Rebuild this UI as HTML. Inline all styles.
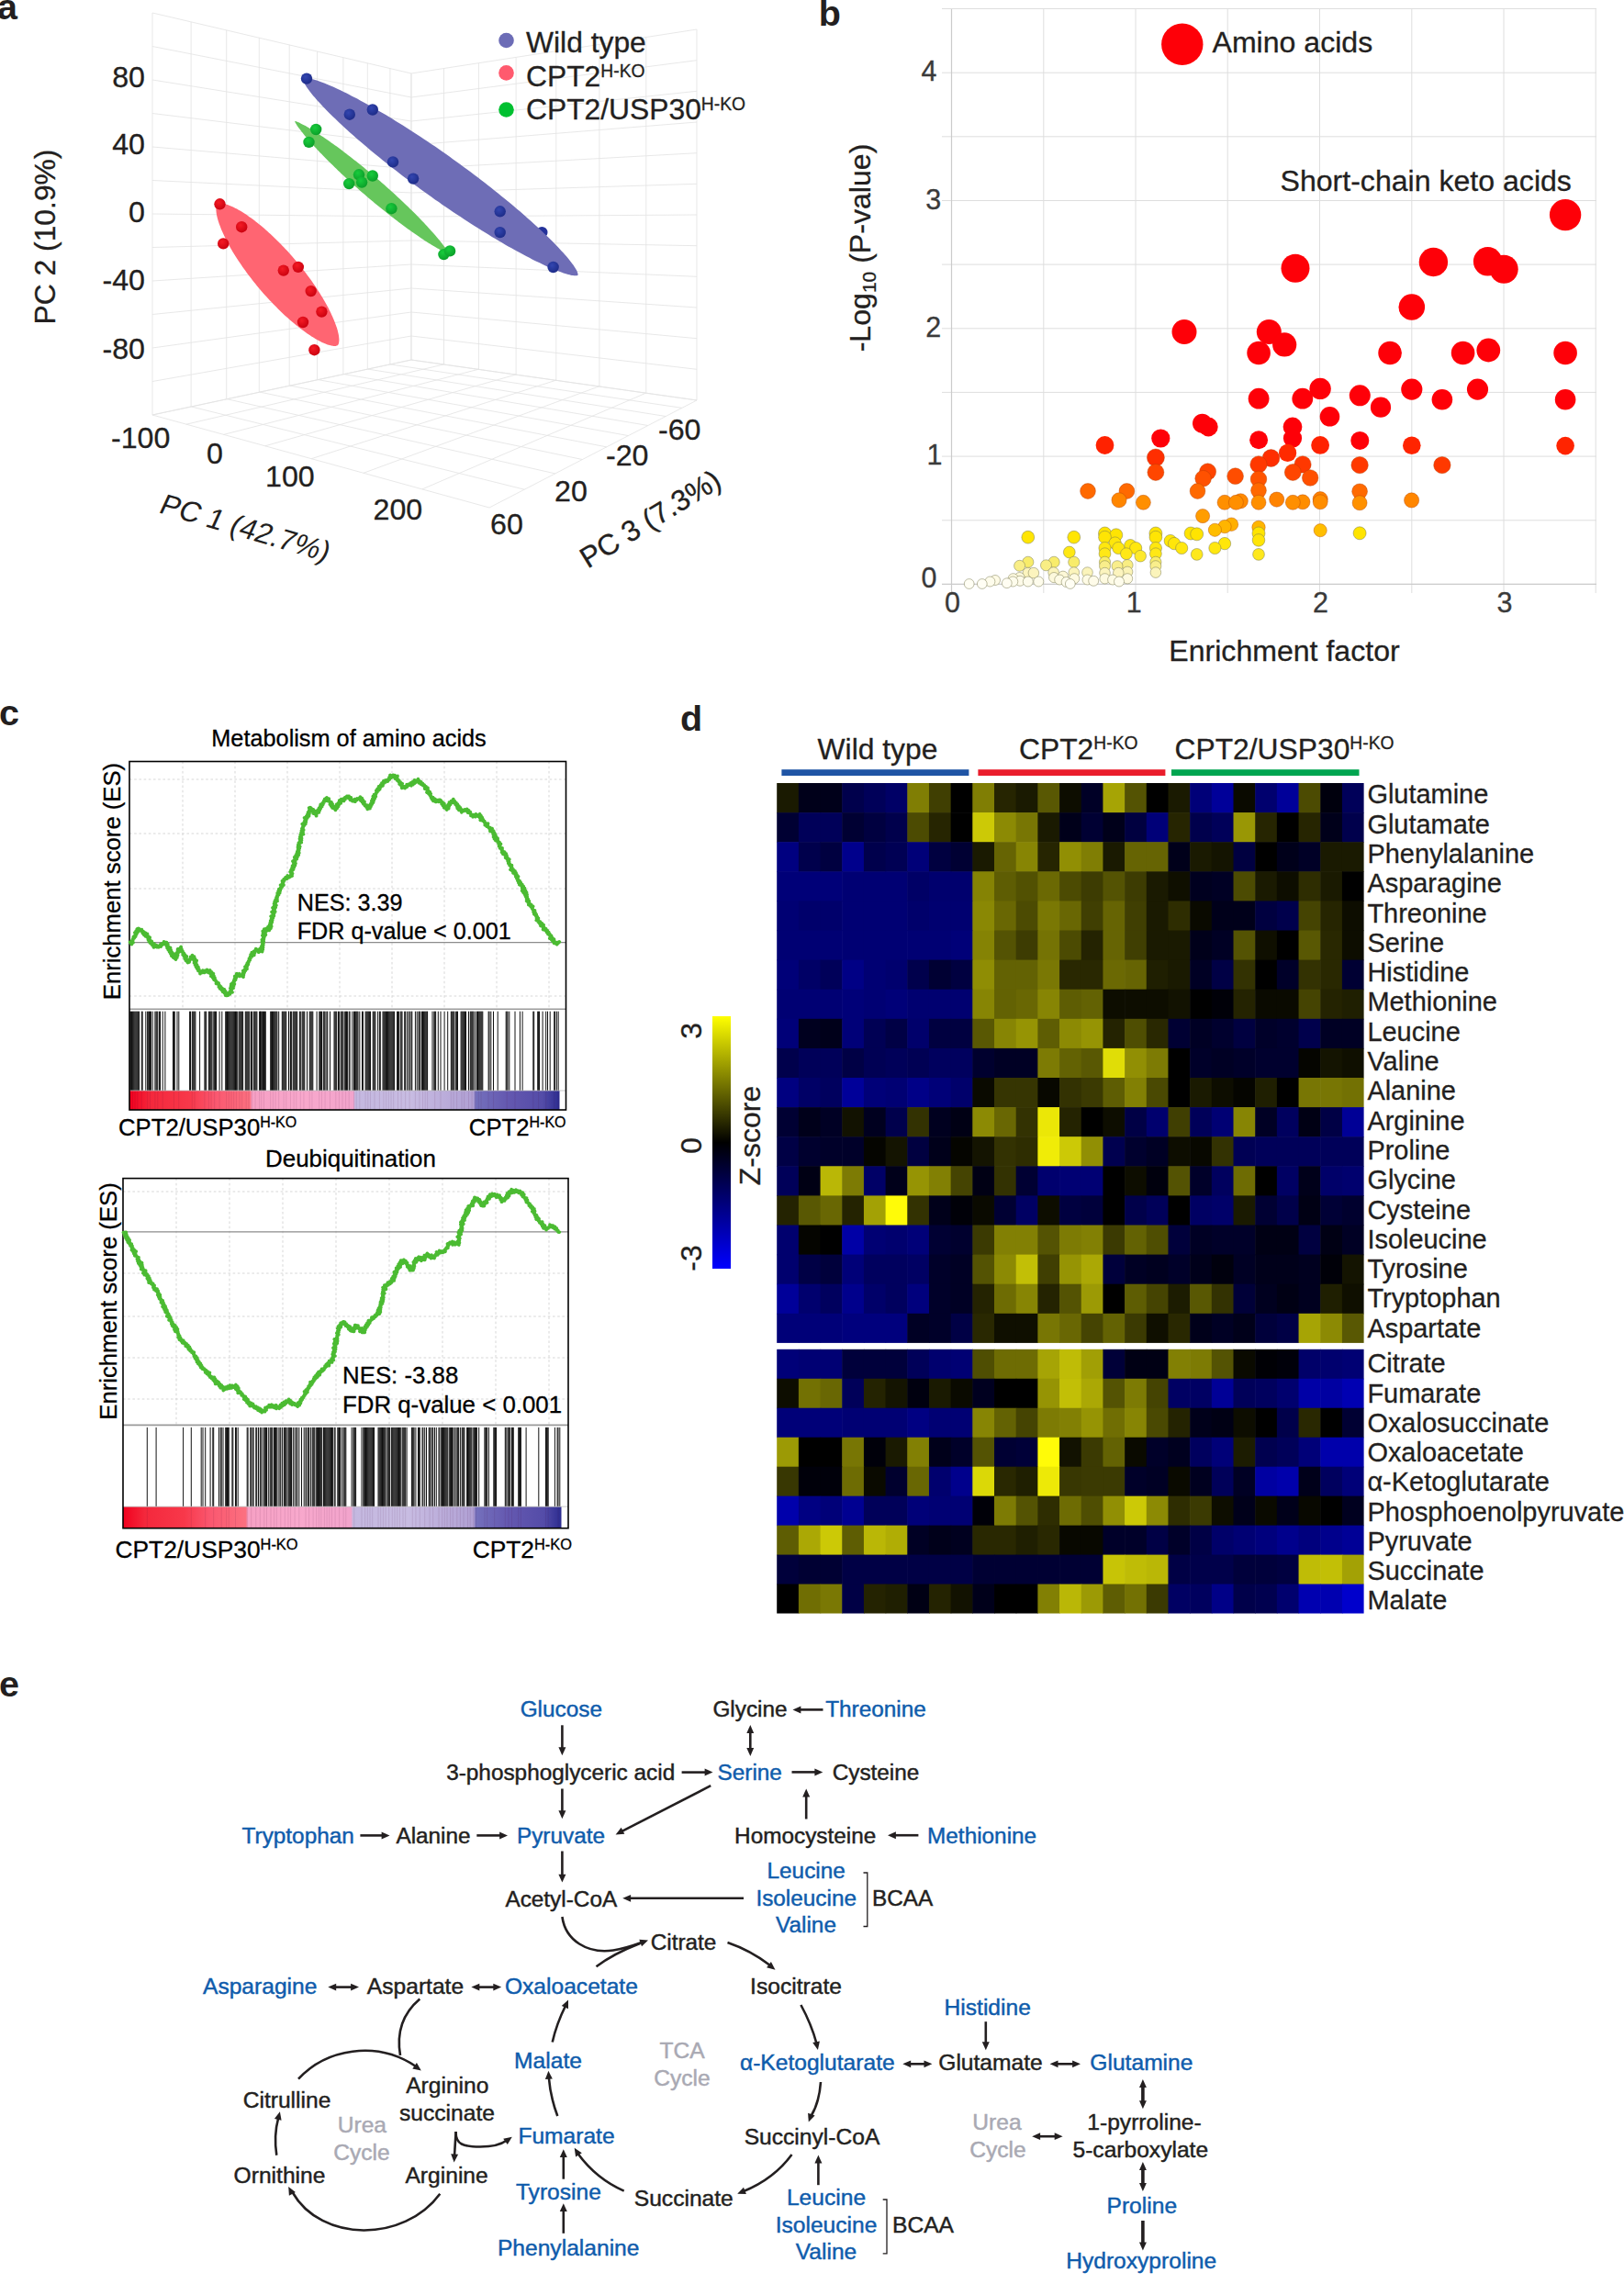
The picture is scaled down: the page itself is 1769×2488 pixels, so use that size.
<!DOCTYPE html>
<html><head><meta charset="utf-8"><title>Figure</title>
<style>
html,body{margin:0;padding:0;background:#fff;}
body{width:1769px;height:2488px;overflow:hidden;}
svg{display:block;font-family:"Liberation Sans",Arial,Helvetica,sans-serif;}
</style></head><body>
<svg width="1769" height="2488" viewBox="0 0 1769 2488">
<rect width="1769" height="2488" fill="#fff"/>
<g id="panel-a">
<text x="-3.0" y="21.4" font-size="39.5" fill="#231f20" font-weight="bold">a</text>
<path d="M166.0 14.0L166.0 452.0M208.1 23.9L208.1 443.0M246.7 32.9L246.7 434.8M282.3 41.2L282.3 427.3M315.2 48.9L315.2 420.3M345.6 56.0L345.6 413.8M373.9 62.7L373.9 407.8M400.3 68.8L400.3 402.1M424.9 74.6L424.9 396.9M448.0 80.0L448.0 392.0M166.0 14.0L448.0 80.0M166.0 50.5L448.0 106.0M166.0 87.0L448.0 132.0M166.0 123.5L448.0 158.0M166.0 160.0L448.0 184.0M166.0 196.5L448.0 210.0M166.0 233.0L448.0 236.0M166.0 269.5L448.0 262.0M166.0 306.0L448.0 288.0M166.0 342.5L448.0 314.0M166.0 379.0L448.0 340.0M166.0 415.5L448.0 366.0M166.0 452.0L448.0 392.0" fill="none" stroke="#e4e4e4" stroke-width="0.85"/>
<path d="M448.0 80.0L448.0 392.0M483.5 74.5L483.5 397.0M521.4 68.7L521.4 402.4M562.1 62.4L562.1 408.1M605.8 55.6L605.8 414.3M652.9 48.4L652.9 421.0M703.8 40.5L703.8 428.2M759.0 32.0L759.0 436.0M448.0 80.0L759.0 32.0M448.0 106.0L759.0 65.7M448.0 132.0L759.0 99.3M448.0 158.0L759.0 133.0M448.0 184.0L759.0 166.7M448.0 210.0L759.0 200.3M448.0 236.0L759.0 234.0M448.0 262.0L759.0 267.7M448.0 288.0L759.0 301.3M448.0 314.0L759.0 335.0M448.0 340.0L759.0 368.7M448.0 366.0L759.0 402.3M448.0 392.0L759.0 436.0" fill="none" stroke="#e4e4e4" stroke-width="0.85"/>
<path d="M166.0 452.0L533.0 553.0M208.5 443.0L571.2 533.2M247.4 434.7L604.7 515.9M283.1 427.1L634.3 500.5M316.0 420.1L660.8 486.9M346.4 413.6L684.5 474.6M374.5 407.6L705.8 463.5M400.7 402.1L725.2 453.5M425.2 396.9L742.9 444.4M448.0 392.0L759.0 436.0M166.0 452.0L448.0 392.0M202.9 462.2L483.3 397.0M243.6 473.4L521.1 402.3M288.8 485.8L561.7 408.1M339.2 499.7L605.3 414.3M395.9 515.3L652.5 420.9M459.9 532.9L703.5 428.2M533.0 553.0L759.0 436.0" fill="none" stroke="#e4e4e4" stroke-width="0.85"/>
<circle cx="590.3" cy="253.1" r="6.2" fill="#24329a"/>
<path d="M330.2 85.5L330.1 85.7L330.0 86.1L330.1 86.6L330.2 87.2L330.4 87.9L330.7 88.7L331.0 89.6L331.5 90.6L332.1 91.6L332.7 92.7L333.5 93.9L334.3 95.2L335.2 96.6L336.3 98.0L337.4 99.5L338.6 101.0L339.9 102.7L341.3 104.4L342.8 106.1L344.4 108.0L346.1 109.9L347.9 111.8L349.7 113.8L351.7 115.9L353.7 118.0L355.8 120.2L358.0 122.4L360.3 124.7L362.6 127.0L365.1 129.3L367.6 131.8L370.2 134.2L372.9 136.7L375.6 139.2L378.4 141.8L381.3 144.4L384.3 147.0L387.3 149.7L390.4 152.4L393.5 155.1L396.7 157.8L400.0 160.6L403.3 163.4L406.7 166.2L410.1 169.0L413.6 171.8L417.1 174.7L420.7 177.5L424.3 180.4L427.9 183.3L431.6 186.1L435.3 189.0L439.1 191.9L442.9 194.7L446.7 197.6L450.5 200.5L454.4 203.3L458.3 206.2L462.2 209.0L466.1 211.8L470.0 214.6L473.9 217.4L477.9 220.1L481.8 222.9L485.7 225.6L489.7 228.3L493.6 230.9L497.5 233.5L501.5 236.1L505.4 238.7L509.3 241.2L513.1 243.7L517.0 246.2L520.8 248.6L524.6 251.0L528.4 253.3L532.1 255.6L535.8 257.9L539.5 260.1L543.1 262.2L546.7 264.3L550.2 266.4L553.7 268.4L557.2 270.3L560.6 272.2L563.9 274.0L567.2 275.8L570.4 277.6L573.6 279.2L576.7 280.8L579.7 282.4L582.6 283.9L585.5 285.3L588.3 286.6L591.1 287.9L593.7 289.2L596.3 290.4L598.8 291.5L601.2 292.5L603.6 293.5L605.8 294.4L607.9 295.2L610.0 296.0L612.0 296.7L613.8 297.4L615.6 298.0L617.3 298.5L618.9 298.9L620.4 299.3L621.7 299.7L623.0 299.9L624.2 300.1L625.2 300.2L626.2 300.3L627.0 300.3L627.8 300.3L628.4 300.2L628.9 300.1L629.2 299.9L629.4 299.7L629.4 299.7L629.5 299.5L629.6 299.1L629.5 298.6L629.4 298.0L629.2 297.3L628.9 296.5L628.6 295.6L628.1 294.6L627.5 293.6L626.9 292.5L626.1 291.3L625.3 290.0L624.4 288.6L623.3 287.2L622.2 285.7L621.0 284.2L619.7 282.5L618.3 280.8L616.8 279.1L615.2 277.2L613.5 275.3L611.7 273.4L609.9 271.4L607.9 269.3L605.9 267.2L603.8 265.0L601.6 262.8L599.3 260.5L597.0 258.2L594.5 255.9L592.0 253.4L589.4 251.0L586.7 248.5L584.0 246.0L581.2 243.4L578.3 240.8L575.3 238.2L572.3 235.5L569.2 232.8L566.1 230.1L562.9 227.4L559.6 224.6L556.3 221.8L552.9 219.0L549.5 216.2L546.0 213.4L542.5 210.5L538.9 207.7L535.3 204.8L531.7 201.9L528.0 199.1L524.3 196.2L520.5 193.3L516.7 190.5L512.9 187.6L509.1 184.7L505.2 181.9L501.3 179.0L497.4 176.2L493.5 173.4L489.6 170.6L485.7 167.8L481.7 165.1L477.8 162.3L473.9 159.6L469.9 156.9L466.0 154.3L462.1 151.7L458.1 149.1L454.2 146.5L450.3 144.0L446.5 141.5L442.6 139.0L438.8 136.6L435.0 134.2L431.2 131.9L427.5 129.6L423.8 127.3L420.1 125.1L416.5 123.0L412.9 120.9L409.4 118.8L405.9 116.8L402.4 114.9L399.0 113.0L395.7 111.2L392.4 109.4L389.2 107.6L386.0 106.0L382.9 104.4L379.9 102.8L377.0 101.3L374.1 99.9L371.3 98.6L368.5 97.3L365.9 96.0L363.3 94.8L360.8 93.7L358.4 92.7L356.0 91.7L353.8 90.8L351.7 90.0L349.6 89.2L347.6 88.5L345.8 87.8L344.0 87.2L342.3 86.7L340.7 86.3L339.2 85.9L337.9 85.5L336.6 85.3L335.4 85.1L334.4 85.0L333.4 84.9L332.6 84.9L331.8 84.9L331.2 85.0L330.7 85.1L330.4 85.3L330.2 85.5Z" fill="#6e6db6"/>
<path d="M321.2 132.1L321.2 132.1L321.2 132.3L321.3 132.5L321.4 132.8L321.5 133.2L321.7 133.6L321.9 134.0L322.2 134.6L322.6 135.1L323.0 135.8L323.4 136.5L323.9 137.2L324.4 138.0L325.0 138.8L325.7 139.7L326.4 140.6L327.1 141.6L327.9 142.6L328.8 143.7L329.7 144.8L330.6 146.0L331.6 147.2L332.6 148.4L333.7 149.7L334.9 151.1L336.0 152.4L337.3 153.8L338.5 155.2L339.9 156.7L341.2 158.2L342.6 159.7L344.1 161.3L345.6 162.9L347.1 164.5L348.6 166.2L350.3 167.8L351.9 169.5L353.6 171.3L355.3 173.0L357.0 174.8L358.8 176.5L360.6 178.3L362.5 180.1L364.4 182.0L366.3 183.8L368.2 185.7L370.2 187.5L372.1 189.4L374.2 191.3L376.2 193.2L378.2 195.1L380.3 197.0L382.4 198.9L384.5 200.8L386.6 202.7L388.8 204.6L390.9 206.5L393.1 208.4L395.2 210.3L397.4 212.1L399.6 214.0L401.8 215.9L404.0 217.7L406.2 219.6L408.4 221.4L410.6 223.2L412.8 225.0L415.0 226.8L417.2 228.6L419.4 230.3L421.5 232.0L423.7 233.7L425.8 235.4L428.0 237.1L430.1 238.7L432.2 240.3L434.3 241.9L436.4 243.5L438.4 245.0L440.4 246.5L442.4 248.0L444.4 249.4L446.4 250.8L448.3 252.2L450.2 253.5L452.0 254.8L453.9 256.1L455.7 257.3L457.4 258.5L459.2 259.7L460.8 260.8L462.5 261.9L464.1 262.9L465.7 263.9L467.2 264.9L468.7 265.8L470.1 266.7L471.5 267.5L472.8 268.3L474.1 269.1L475.3 269.8L476.5 270.5L477.7 271.1L478.7 271.7L479.8 272.2L480.8 272.7L481.7 273.2L482.5 273.6L483.3 274.0L484.1 274.3L484.8 274.6L485.4 274.9L485.9 275.1L486.4 275.3L486.9 275.4L487.2 275.5L487.5 275.5L487.8 275.6L487.9 275.6L488.0 275.5L488.0 275.5L488.0 275.5L488.0 275.3L487.9 275.1L487.8 274.8L487.7 274.4L487.5 274.0L487.3 273.6L487.0 273.0L486.6 272.5L486.2 271.8L485.8 271.1L485.3 270.4L484.8 269.6L484.2 268.8L483.5 267.9L482.8 267.0L482.1 266.0L481.3 265.0L480.4 263.9L479.5 262.8L478.6 261.6L477.6 260.4L476.6 259.2L475.5 257.9L474.3 256.5L473.2 255.2L471.9 253.8L470.7 252.4L469.3 250.9L468.0 249.4L466.6 247.9L465.1 246.3L463.6 244.7L462.1 243.1L460.6 241.4L458.9 239.8L457.3 238.1L455.6 236.3L453.9 234.6L452.2 232.8L450.4 231.1L448.6 229.3L446.7 227.5L444.8 225.6L442.9 223.8L441.0 221.9L439.0 220.1L437.1 218.2L435.0 216.3L433.0 214.4L431.0 212.5L428.9 210.6L426.8 208.7L424.7 206.8L422.6 204.9L420.4 203.0L418.3 201.1L416.1 199.2L414.0 197.3L411.8 195.5L409.6 193.6L407.4 191.7L405.2 189.9L403.0 188.0L400.8 186.2L398.6 184.4L396.4 182.6L394.2 180.8L392.0 179.0L389.8 177.3L387.7 175.6L385.5 173.9L383.4 172.2L381.2 170.5L379.1 168.9L377.0 167.3L374.9 165.7L372.8 164.1L370.8 162.6L368.8 161.1L366.8 159.6L364.8 158.2L362.8 156.8L360.9 155.4L359.0 154.1L357.2 152.8L355.3 151.5L353.5 150.3L351.8 149.1L350.0 147.9L348.4 146.8L346.7 145.7L345.1 144.7L343.5 143.7L342.0 142.7L340.5 141.8L339.1 140.9L337.7 140.1L336.4 139.3L335.1 138.5L333.9 137.8L332.7 137.1L331.5 136.5L330.5 135.9L329.4 135.4L328.4 134.9L327.5 134.4L326.7 134.0L325.9 133.6L325.1 133.3L324.4 133.0L323.8 132.7L323.3 132.5L322.8 132.3L322.3 132.2L322.0 132.1L321.7 132.1L321.4 132.0L321.3 132.0L321.2 132.1Z" fill="#66c65c"/>
<path d="M236.9 222.3L236.7 222.5L236.5 222.9L236.2 223.3L236.0 223.8L235.8 224.4L235.7 225.0L235.6 225.7L235.5 226.4L235.4 227.2L235.4 228.1L235.4 229.0L235.5 230.0L235.6 231.0L235.7 232.1L235.9 233.3L236.1 234.4L236.4 235.7L236.7 236.9L237.0 238.3L237.4 239.6L237.8 241.1L238.3 242.5L238.8 244.0L239.4 245.5L240.0 247.1L240.6 248.7L241.3 250.4L242.0 252.0L242.8 253.8L243.6 255.5L244.4 257.3L245.3 259.1L246.2 260.9L247.1 262.8L248.1 264.7L249.2 266.6L250.2 268.5L251.3 270.4L252.5 272.4L253.6 274.4L254.9 276.4L256.1 278.4L257.4 280.4L258.7 282.5L260.0 284.5L261.4 286.6L262.8 288.6L264.2 290.7L265.7 292.8L267.2 294.8L268.7 296.9L270.2 299.0L271.8 301.1L273.4 303.1L275.0 305.2L276.6 307.3L278.3 309.3L280.0 311.4L281.7 313.4L283.4 315.4L285.1 317.4L286.8 319.4L288.6 321.4L290.3 323.3L292.1 325.3L293.9 327.2L295.7 329.1L297.5 331.0L299.3 332.8L301.1 334.6L302.9 336.5L304.7 338.2L306.5 340.0L308.3 341.7L310.1 343.4L311.9 345.0L313.7 346.6L315.5 348.2L317.3 349.8L319.1 351.3L320.9 352.8L322.6 354.2L324.4 355.6L326.1 357.0L327.8 358.3L329.5 359.6L331.2 360.8L332.9 362.0L334.5 363.2L336.1 364.3L337.7 365.3L339.3 366.4L340.8 367.3L342.4 368.3L343.8 369.2L345.3 370.0L346.7 370.8L348.1 371.5L349.5 372.2L350.8 372.9L352.1 373.5L353.3 374.0L354.6 374.5L355.7 375.0L356.9 375.4L358.0 375.7L359.0 376.0L360.0 376.3L361.0 376.5L361.9 376.7L362.7 376.8L363.5 376.9L364.3 376.9L365.0 376.9L365.6 376.9L366.2 376.8L366.8 376.6L367.2 376.5L367.6 376.3L367.9 376.1L367.9 376.1L368.1 375.9L368.3 375.5L368.6 375.1L368.8 374.6L369.0 374.0L369.1 373.4L369.2 372.7L369.3 372.0L369.4 371.2L369.4 370.3L369.4 369.4L369.3 368.4L369.2 367.4L369.1 366.3L368.9 365.1L368.7 364.0L368.4 362.7L368.1 361.5L367.8 360.1L367.4 358.8L367.0 357.3L366.5 355.9L366.0 354.4L365.4 352.9L364.8 351.3L364.2 349.7L363.5 348.0L362.8 346.4L362.0 344.6L361.2 342.9L360.4 341.1L359.5 339.3L358.6 337.5L357.7 335.6L356.7 333.7L355.6 331.8L354.6 329.9L353.5 328.0L352.3 326.0L351.2 324.0L349.9 322.0L348.7 320.0L347.4 318.0L346.1 315.9L344.8 313.9L343.4 311.8L342.0 309.8L340.6 307.7L339.1 305.6L337.6 303.6L336.1 301.5L334.6 299.4L333.0 297.3L331.4 295.3L329.8 293.2L328.2 291.1L326.5 289.1L324.8 287.0L323.1 285.0L321.4 283.0L319.7 281.0L318.0 279.0L316.2 277.0L314.5 275.1L312.7 273.1L310.9 271.2L309.1 269.3L307.3 267.4L305.5 265.6L303.7 263.8L301.9 261.9L300.1 260.2L298.3 258.4L296.5 256.7L294.7 255.0L292.9 253.4L291.1 251.8L289.3 250.2L287.5 248.6L285.7 247.1L283.9 245.6L282.2 244.2L280.4 242.8L278.7 241.4L277.0 240.1L275.3 238.8L273.6 237.6L271.9 236.4L270.3 235.2L268.7 234.1L267.1 233.1L265.5 232.0L264.0 231.1L262.4 230.1L261.0 229.2L259.5 228.4L258.1 227.6L256.7 226.9L255.3 226.2L254.0 225.5L252.7 224.9L251.5 224.4L250.2 223.9L249.1 223.4L247.9 223.0L246.8 222.7L245.8 222.4L244.8 222.1L243.8 221.9L242.9 221.7L242.1 221.6L241.3 221.5L240.5 221.5L239.8 221.5L239.2 221.5L238.6 221.6L238.0 221.8L237.6 221.9L237.2 222.1L236.9 222.3Z" fill="#ff6572"/>
<defs>
<radialGradient id="gb" cx="0.4" cy="0.35" r="0.7"><stop offset="0" stop-color="#3346b0"/><stop offset="1" stop-color="#1c2a86"/></radialGradient>
<radialGradient id="gg" cx="0.4" cy="0.35" r="0.7"><stop offset="0" stop-color="#18cc3c"/><stop offset="1" stop-color="#0a9c28"/></radialGradient>
<radialGradient id="gr" cx="0.4" cy="0.35" r="0.7"><stop offset="0" stop-color="#f41a24"/><stop offset="1" stop-color="#c8000e"/></radialGradient>
</defs>
<circle cx="334" cy="85.6" r="6.2" fill="url(#gb)"/>
<circle cx="380.8" cy="124.7" r="6.2" fill="url(#gb)"/>
<circle cx="405.8" cy="119.5" r="6.2" fill="url(#gb)"/>
<circle cx="428" cy="176.4" r="6.2" fill="url(#gb)"/>
<circle cx="450.1" cy="194.6" r="6.2" fill="url(#gb)"/>
<circle cx="544.7" cy="230.3" r="6.2" fill="url(#gb)"/>
<circle cx="544.7" cy="253.1" r="6.2" fill="url(#gb)"/>
<circle cx="602.6" cy="291" r="6.2" fill="url(#gb)"/>
<circle cx="344.2" cy="141" r="6.2" fill="url(#gg)"/>
<circle cx="336.5" cy="154.9" r="6.2" fill="url(#gg)"/>
<circle cx="391" cy="190.3" r="6.2" fill="url(#gg)"/>
<circle cx="405.8" cy="191.5" r="6.2" fill="url(#gg)"/>
<circle cx="380.2" cy="200.1" r="6.2" fill="url(#gg)"/>
<circle cx="394.1" cy="198.6" r="6.2" fill="url(#gg)"/>
<circle cx="426.4" cy="227.2" r="6.2" fill="url(#gg)"/>
<circle cx="483.4" cy="277.1" r="6.2" fill="url(#gg)"/>
<circle cx="490.1" cy="273.4" r="6.2" fill="url(#gg)"/>
<circle cx="239.5" cy="222.3" r="6.2" fill="url(#gr)"/>
<circle cx="263.2" cy="247.2" r="6.2" fill="url(#gr)"/>
<circle cx="243.2" cy="265.4" r="6.2" fill="url(#gr)"/>
<circle cx="308.8" cy="294.6" r="6.2" fill="url(#gr)"/>
<circle cx="324.8" cy="290.9" r="6.2" fill="url(#gr)"/>
<circle cx="338.7" cy="317.1" r="6.2" fill="url(#gr)"/>
<circle cx="350.4" cy="339.6" r="6.2" fill="url(#gr)"/>
<circle cx="330" cy="351" r="6.2" fill="url(#gr)"/>
<circle cx="342.4" cy="381.2" r="6.2" fill="url(#gr)"/>
<circle cx="551.5" cy="44" r="8.3" fill="#6c6cb6"/>
<circle cx="551.5" cy="79.4" r="8.3" fill="#ff5a6e"/>
<circle cx="551.5" cy="119.5" r="8.3" fill="#00c030"/>
<text x="573.0" y="57.0" font-size="31.8" fill="#231f20" stroke="#231f20" stroke-width="0.3">Wild type</text>
<text x="573.0" y="94.0" font-size="31.8" fill="#231f20" stroke="#231f20" stroke-width="0.3">CPT2<tspan font-size="19.3" dy="-10.5">H-KO</tspan></text>
<text x="573.0" y="130.0" font-size="31.8" fill="#231f20" stroke="#231f20" stroke-width="0.3">CPT2/USP30<tspan font-size="19.3" dy="-10.5">H-KO</tspan></text>
<text x="158.0" y="94.7" font-size="32.2" fill="#231f20" text-anchor="end" stroke="#231f20" stroke-width="0.3">80</text>
<text x="158.0" y="168.0" font-size="32.2" fill="#231f20" text-anchor="end" stroke="#231f20" stroke-width="0.3">40</text>
<text x="158.0" y="242.0" font-size="32.2" fill="#231f20" text-anchor="end" stroke="#231f20" stroke-width="0.3">0</text>
<text x="158.0" y="316.0" font-size="32.2" fill="#231f20" text-anchor="end" stroke="#231f20" stroke-width="0.3">-40</text>
<text x="158.0" y="391.0" font-size="32.2" fill="#231f20" text-anchor="end" stroke="#231f20" stroke-width="0.3">-80</text>
<text x="121.0" y="488.0" font-size="32.2" fill="#231f20" stroke="#231f20" stroke-width="0.3">-100</text>
<text x="225.0" y="505.3" font-size="32.2" fill="#231f20" stroke="#231f20" stroke-width="0.3">0</text>
<text x="289.0" y="530.0" font-size="32.2" fill="#231f20" stroke="#231f20" stroke-width="0.3">100</text>
<text x="406.5" y="565.7" font-size="32.2" fill="#231f20" stroke="#231f20" stroke-width="0.3">200</text>
<text x="534.0" y="582.0" font-size="32.2" fill="#231f20" stroke="#231f20" stroke-width="0.3">60</text>
<text x="604.0" y="546.0" font-size="32.2" fill="#231f20" stroke="#231f20" stroke-width="0.3">20</text>
<text x="660.0" y="507.3" font-size="32.2" fill="#231f20" stroke="#231f20" stroke-width="0.3">-20</text>
<text x="717.0" y="479.3" font-size="32.2" fill="#231f20" stroke="#231f20" stroke-width="0.3">-60</text>
<text x="60.0" y="258.0" font-size="31.8" fill="#231f20" text-anchor="middle" transform="rotate(-90 60.0 258.0)" stroke="#231f20" stroke-width="0.3">PC 2 (10.9%)</text>
<text font-size="31.8" fill="#231f20" text-anchor="middle" transform="translate(263 585) rotate(16.5) skewX(-8)">PC 1 (42.7%)</text>
<text x="714.0" y="574.5" font-size="31.8" fill="#231f20" text-anchor="middle" transform="rotate(-31.5 714.0 574.5)" stroke="#231f20" stroke-width="0.3">PC 3 (7.3%)</text>
</g>
<g id="panel-b">
<text x="891.7" y="28.2" font-size="39.5" fill="#231f20" font-weight="bold">b</text>
<path d="M1036.5 10V646M1136.8 10V646M1237.0 10V646M1337.2 10V646M1437.5 10V646M1537.8 10V646M1638.0 10V646M1738.2 10V646M1026 636.4H1739M1026 566.8H1739M1026 497.1H1739M1026 427.4H1739M1026 357.8H1739M1026 288.1H1739M1026 218.5H1739M1026 148.8H1739M1026 79.2H1739M1026 9.5H1739" stroke="#dedede" stroke-width="1" fill="none"/>
<path d="M1036.5 10V646M1026 636.4H1739" stroke="#cbcbcb" stroke-width="1.2" fill="none"/>
<circle cx="1287.8" cy="48.2" r="22.7" fill="#fe0008" />
<circle cx="1705.1" cy="234.1" r="17.2" fill="#fe0008" />
<circle cx="1620.6" cy="284.8" r="15.7" fill="#fe0008" />
<circle cx="1561.4" cy="285.5" r="15.7" fill="#fe0008" />
<circle cx="1411.0" cy="292.2" r="15.5" fill="#fe0008" />
<circle cx="1638.2" cy="293.3" r="15.5" fill="#fe0008" />
<circle cx="1537.8" cy="334.5" r="14.3" fill="#fe0008" />
<circle cx="1290.0" cy="361.5" r="13.5" fill="#fe0008" />
<circle cx="1382.3" cy="361.5" r="13.5" fill="#fe0008" />
<circle cx="1399.2" cy="375.4" r="13.1" fill="#fe0008" />
<circle cx="1621.3" cy="381.5" r="12.9" fill="#fe0008" />
<circle cx="1371.1" cy="384.5" r="12.8" fill="#fe0008" />
<circle cx="1514.1" cy="384.5" r="12.8" fill="#fe0008" />
<circle cx="1593.6" cy="384.5" r="12.8" fill="#fe0008" />
<circle cx="1705.1" cy="384.5" r="12.8" fill="#fe0008" />
<circle cx="1438.1" cy="423.4" r="11.7" fill="#fe0008" />
<circle cx="1537.8" cy="424.1" r="11.6" fill="#fe0008" />
<circle cx="1609.5" cy="424.1" r="11.6" fill="#fe0008" />
<circle cx="1481.3" cy="430.8" r="11.5" fill="#fe0008" />
<circle cx="1371.1" cy="434.2" r="11.4" fill="#fe0008" />
<circle cx="1418.8" cy="434.2" r="11.4" fill="#fe0008" />
<circle cx="1570.9" cy="435.2" r="11.3" fill="#fe0008" />
<circle cx="1705.1" cy="435.2" r="11.3" fill="#fe0008" />
<circle cx="1504.0" cy="443.7" r="11.1" fill="#fe0008" />
<circle cx="1448.5" cy="453.8" r="10.8" fill="#fe0008" />
<circle cx="1309.6" cy="461.3" r="10.6" fill="#fe0008" />
<circle cx="1316.3" cy="465.0" r="10.4" fill="#fe0008" />
<circle cx="1408.0" cy="465.0" r="10.4" fill="#fe0008" />
<circle cx="1408.0" cy="477.5" r="10.1" fill="#fe0008" />
<circle cx="1264.3" cy="477.5" r="10.1" fill="#fe0008" />
<circle cx="1371.1" cy="479.2" r="10.0" fill="#fe0008" />
<circle cx="1481.3" cy="479.9" r="10.0" fill="#fe0108" />
<circle cx="1438.1" cy="484.9" r="9.9" fill="#ff2200" />
<circle cx="1203.5" cy="485.0" r="9.9" fill="#ff2200" />
<circle cx="1537.8" cy="485.3" r="9.8" fill="#ff2400" />
<circle cx="1705.1" cy="485.6" r="9.8" fill="#ff2400" />
<circle cx="1402.6" cy="493.4" r="9.6" fill="#ff2a00" />
<circle cx="1258.9" cy="498.5" r="9.5" fill="#ff2e00" stroke="#b04000" stroke-width="0.4"/>
<circle cx="1384.5" cy="499.0" r="9.4" fill="#ff2e00" stroke="#b04000" stroke-width="0.4"/>
<circle cx="1419.0" cy="505.9" r="9.2" fill="#ff3800" stroke="#b04000" stroke-width="0.4"/>
<circle cx="1371.0" cy="505.9" r="9.2" fill="#ff3800" stroke="#b04000" stroke-width="0.4"/>
<circle cx="1481.1" cy="506.6" r="9.2" fill="#ff3900" stroke="#b04000" stroke-width="0.4"/>
<circle cx="1570.9" cy="506.6" r="9.2" fill="#ff3900" stroke="#b04000" stroke-width="0.4"/>
<circle cx="1315.6" cy="513.8" r="9.0" fill="#ff4500" stroke="#b04000" stroke-width="0.4"/>
<circle cx="1408.3" cy="514.5" r="9.0" fill="#ff4600" stroke="#b04000" stroke-width="0.4"/>
<circle cx="1258.9" cy="514.5" r="9.0" fill="#ff4600" stroke="#b04000" stroke-width="0.4"/>
<circle cx="1345.6" cy="518.7" r="8.9" fill="#ff4d00" stroke="#b04000" stroke-width="0.4"/>
<circle cx="1427.2" cy="520.5" r="8.8" fill="#ff5000" stroke="#b04000" stroke-width="0.4"/>
<circle cx="1310.6" cy="521.2" r="8.8" fill="#ff5100" stroke="#b04000" stroke-width="0.4"/>
<circle cx="1371.0" cy="521.9" r="8.8" fill="#ff5300" stroke="#b04000" stroke-width="0.4"/>
<circle cx="1371.0" cy="534.2" r="8.4" fill="#ff6800" stroke="#b04000" stroke-width="0.4"/>
<circle cx="1185.0" cy="535.0" r="8.4" fill="#ff6900" stroke="#b04000" stroke-width="0.4"/>
<circle cx="1227.4" cy="535.0" r="8.4" fill="#ff6900" stroke="#b04000" stroke-width="0.4"/>
<circle cx="1304.5" cy="535.0" r="8.4" fill="#ff6900" stroke="#b04000" stroke-width="0.4"/>
<circle cx="1481.1" cy="535.3" r="8.4" fill="#ff6a00" stroke="#b04000" stroke-width="0.4"/>
<circle cx="1438.2" cy="543.7" r="8.1" fill="#ff8200" stroke="#b04000" stroke-width="0.4"/>
<circle cx="1390.7" cy="544.1" r="8.1" fill="#ff8300" stroke="#b04000" stroke-width="0.4"/>
<circle cx="1219.0" cy="544.8" r="8.1" fill="#ff8600" stroke="#b04000" stroke-width="0.4"/>
<circle cx="1537.6" cy="544.9" r="8.1" fill="#ff8600" stroke="#b04000" stroke-width="0.4"/>
<circle cx="1351.3" cy="545.8" r="8.1" fill="#ff8a00" stroke="#b04000" stroke-width="0.4"/>
<circle cx="1419.0" cy="546.8" r="8.0" fill="#ff8d00" stroke="#b04000" stroke-width="0.4"/>
<circle cx="1438.2" cy="546.8" r="8.0" fill="#ff8d00" stroke="#b04000" stroke-width="0.4"/>
<circle cx="1245.4" cy="547.3" r="8.0" fill="#ff8f00" stroke="#b04000" stroke-width="0.4"/>
<circle cx="1334.0" cy="547.3" r="8.0" fill="#ff8f00" stroke="#b04000" stroke-width="0.4"/>
<circle cx="1346.4" cy="547.3" r="8.0" fill="#ff8f00" stroke="#b04000" stroke-width="0.4"/>
<circle cx="1371.0" cy="547.3" r="8.0" fill="#ff8f00" stroke="#b04000" stroke-width="0.4"/>
<circle cx="1408.3" cy="547.3" r="8.0" fill="#ff8f00" stroke="#b04000" stroke-width="0.4"/>
<circle cx="1481.1" cy="547.8" r="8.0" fill="#ff9100" stroke="#b04000" stroke-width="0.4"/>
<circle cx="1310.1" cy="562.1" r="7.6" fill="#ff9d00" stroke="#b04000" stroke-width="0.4"/>
<circle cx="1341.4" cy="571.2" r="7.3" fill="#ffaf00" stroke="#b04000" stroke-width="0.4"/>
<circle cx="1334.0" cy="573.6" r="7.2" fill="#ffb500" stroke="#b04000" stroke-width="0.4"/>
<circle cx="1371.0" cy="574.4" r="7.2" fill="#ffb600" stroke="#b04000" stroke-width="0.4"/>
<circle cx="1323.4" cy="577.3" r="7.1" fill="#ffbd00" stroke="#b04000" stroke-width="0.4"/>
<circle cx="1438.2" cy="577.7" r="7.1" fill="#ffbe00" stroke="#b04000" stroke-width="0.4"/>
<circle cx="1481.1" cy="580.8" r="7.0" fill="#ffe400" stroke="#7a7a50" stroke-width="0.5"/>
<circle cx="1371.0" cy="581.0" r="7.0" fill="#ffe400" stroke="#7a7a50" stroke-width="0.5"/>
<circle cx="1203.5" cy="581.0" r="7.0" fill="#ffe400" stroke="#7a7a50" stroke-width="0.5"/>
<circle cx="1258.9" cy="581.0" r="7.0" fill="#ffe400" stroke="#7a7a50" stroke-width="0.5"/>
<circle cx="1297.1" cy="581.0" r="7.0" fill="#ffe400" stroke="#7a7a50" stroke-width="0.5"/>
<circle cx="1303.7" cy="581.8" r="7.0" fill="#ffe401" stroke="#7a7a50" stroke-width="0.5"/>
<circle cx="1215.8" cy="582.8" r="7.0" fill="#ffe402" stroke="#7a7a50" stroke-width="0.5"/>
<circle cx="1119.8" cy="585.2" r="6.9" fill="#ffe504" stroke="#7a7a50" stroke-width="0.5"/>
<circle cx="1169.8" cy="585.2" r="6.9" fill="#ffe504" stroke="#7a7a50" stroke-width="0.5"/>
<circle cx="1203.5" cy="585.2" r="6.9" fill="#ffe504" stroke="#7a7a50" stroke-width="0.5"/>
<circle cx="1258.9" cy="585.2" r="6.9" fill="#ffe504" stroke="#7a7a50" stroke-width="0.5"/>
<circle cx="1371.0" cy="588.4" r="6.8" fill="#ffe507" stroke="#7a7a50" stroke-width="0.5"/>
<circle cx="1274.9" cy="589.2" r="6.8" fill="#ffe608" stroke="#7a7a50" stroke-width="0.5"/>
<circle cx="1214.6" cy="591.6" r="6.7" fill="#ffe60a" stroke="#7a7a50" stroke-width="0.5"/>
<circle cx="1279.1" cy="592.1" r="6.7" fill="#ffe60a" stroke="#7a7a50" stroke-width="0.5"/>
<circle cx="1334.0" cy="592.1" r="6.7" fill="#ffe60a" stroke="#7a7a50" stroke-width="0.5"/>
<circle cx="1231.3" cy="594.1" r="6.6" fill="#ffe60c" stroke="#7a7a50" stroke-width="0.5"/>
<circle cx="1203.5" cy="597.0" r="6.6" fill="#ffe70f" stroke="#7a7a50" stroke-width="0.5"/>
<circle cx="1218.3" cy="597.0" r="6.6" fill="#ffe70f" stroke="#7a7a50" stroke-width="0.5"/>
<circle cx="1237.2" cy="597.0" r="6.6" fill="#ffe70f" stroke="#7a7a50" stroke-width="0.5"/>
<circle cx="1258.9" cy="597.0" r="6.6" fill="#ffe70f" stroke="#7a7a50" stroke-width="0.5"/>
<circle cx="1287.2" cy="597.0" r="6.6" fill="#ffe70f" stroke="#7a7a50" stroke-width="0.5"/>
<circle cx="1323.4" cy="597.0" r="6.6" fill="#ffe70f" stroke="#7a7a50" stroke-width="0.5"/>
<circle cx="1164.8" cy="601.5" r="6.4" fill="#ffe813" stroke="#7a7a50" stroke-width="0.5"/>
<circle cx="1203.5" cy="603.2" r="6.4" fill="#ffe816" stroke="#7a7a50" stroke-width="0.5"/>
<circle cx="1226.9" cy="603.2" r="6.4" fill="#ffe816" stroke="#7a7a50" stroke-width="0.5"/>
<circle cx="1258.9" cy="603.2" r="6.4" fill="#ffe816" stroke="#7a7a50" stroke-width="0.5"/>
<circle cx="1303.7" cy="603.9" r="6.4" fill="#fee81d" stroke="#7a7a50" stroke-width="0.5"/>
<circle cx="1371.0" cy="603.9" r="6.4" fill="#fee81d" stroke="#7a7a50" stroke-width="0.5"/>
<circle cx="1242.2" cy="605.7" r="6.3" fill="#fde92d" stroke="#7a7a50" stroke-width="0.5"/>
<circle cx="1119.8" cy="612.3" r="6.1" fill="#f8ec6a" stroke="#7a7a50" stroke-width="0.5"/>
<circle cx="1148.1" cy="612.3" r="6.1" fill="#f8ec6a" stroke="#7a7a50" stroke-width="0.5"/>
<circle cx="1169.8" cy="612.3" r="6.1" fill="#f8ec6a" stroke="#7a7a50" stroke-width="0.5"/>
<circle cx="1203.5" cy="612.3" r="6.1" fill="#f8ec6a" stroke="#7a7a50" stroke-width="0.5"/>
<circle cx="1258.9" cy="612.3" r="6.1" fill="#f8ec6a" stroke="#7a7a50" stroke-width="0.5"/>
<circle cx="1228.1" cy="615.5" r="6.0" fill="#f9ee82" stroke="#7a7a50" stroke-width="0.5"/>
<circle cx="1139.5" cy="615.8" r="6.0" fill="#f9ee84" stroke="#7a7a50" stroke-width="0.5"/>
<circle cx="1110.6" cy="616.3" r="6.0" fill="#f9ee87" stroke="#7a7a50" stroke-width="0.5"/>
<circle cx="1203.5" cy="616.7" r="6.0" fill="#f9ee8b" stroke="#7a7a50" stroke-width="0.5"/>
<circle cx="1217.0" cy="616.7" r="6.0" fill="#f9ee8b" stroke="#7a7a50" stroke-width="0.5"/>
<circle cx="1258.9" cy="616.7" r="6.0" fill="#f9ee8b" stroke="#7a7a50" stroke-width="0.5"/>
<circle cx="1228.1" cy="622.9" r="5.8" fill="#fbf3b6" stroke="#7a7a50" stroke-width="0.5"/>
<circle cx="1147.6" cy="623.6" r="5.8" fill="#fbf4bb" stroke="#7a7a50" stroke-width="0.5"/>
<circle cx="1169.8" cy="623.6" r="5.8" fill="#fbf4bb" stroke="#7a7a50" stroke-width="0.5"/>
<circle cx="1184.5" cy="623.6" r="5.8" fill="#fbf4bb" stroke="#7a7a50" stroke-width="0.5"/>
<circle cx="1258.9" cy="623.6" r="5.8" fill="#fbf4bb" stroke="#7a7a50" stroke-width="0.5"/>
<circle cx="1119.8" cy="624.1" r="5.8" fill="#fcf4be" stroke="#7a7a50" stroke-width="0.5"/>
<circle cx="1125.9" cy="624.1" r="5.8" fill="#fcf4be" stroke="#7a7a50" stroke-width="0.5"/>
<circle cx="1203.5" cy="624.1" r="5.8" fill="#fcf4be" stroke="#7a7a50" stroke-width="0.5"/>
<circle cx="1218.3" cy="624.1" r="5.8" fill="#fcf4be" stroke="#7a7a50" stroke-width="0.5"/>
<circle cx="1157.9" cy="627.8" r="5.7" fill="#fdf8d7" stroke="#7a7a50" stroke-width="0.5"/>
<circle cx="1110.6" cy="629.1" r="5.6" fill="#fdf9dc" stroke="#7a7a50" stroke-width="0.5"/>
<circle cx="1148.1" cy="629.1" r="5.6" fill="#fdf9dc" stroke="#7a7a50" stroke-width="0.5"/>
<circle cx="1103.7" cy="630.3" r="5.6" fill="#fefae0" stroke="#7a7a50" stroke-width="0.5"/>
<circle cx="1170.2" cy="630.3" r="5.6" fill="#fefae0" stroke="#7a7a50" stroke-width="0.5"/>
<circle cx="1203.5" cy="630.3" r="5.6" fill="#fefae0" stroke="#7a7a50" stroke-width="0.5"/>
<circle cx="1228.1" cy="630.3" r="5.6" fill="#fefae0" stroke="#7a7a50" stroke-width="0.5"/>
<circle cx="1154.2" cy="631.5" r="5.5" fill="#fefbe5" stroke="#7a7a50" stroke-width="0.5"/>
<circle cx="1184.5" cy="631.5" r="5.5" fill="#fefbe5" stroke="#7a7a50" stroke-width="0.5"/>
<circle cx="1212.1" cy="631.5" r="5.5" fill="#fefbe5" stroke="#7a7a50" stroke-width="0.5"/>
<circle cx="1084.0" cy="632.0" r="5.5" fill="#fefbe6" stroke="#7a7a50" stroke-width="0.5"/>
<circle cx="1111.1" cy="632.8" r="5.5" fill="#fefbe9" stroke="#7a7a50" stroke-width="0.5"/>
<circle cx="1191.2" cy="632.8" r="5.5" fill="#fefbe9" stroke="#7a7a50" stroke-width="0.5"/>
<circle cx="1078.4" cy="633.5" r="5.5" fill="#fefcec" stroke="#7a7a50" stroke-width="0.5"/>
<circle cx="1103.3" cy="633.5" r="5.5" fill="#fefcec" stroke="#7a7a50" stroke-width="0.5"/>
<circle cx="1119.8" cy="633.5" r="5.5" fill="#fefcec" stroke="#7a7a50" stroke-width="0.5"/>
<circle cx="1131.3" cy="633.5" r="5.5" fill="#fefcec" stroke="#7a7a50" stroke-width="0.5"/>
<circle cx="1219.0" cy="633.5" r="5.5" fill="#fefcec" stroke="#7a7a50" stroke-width="0.5"/>
<circle cx="1161.6" cy="634.0" r="5.5" fill="#fefced" stroke="#7a7a50" stroke-width="0.5"/>
<circle cx="1096.8" cy="635.2" r="5.4" fill="#fffdf2" stroke="#7a7a50" stroke-width="0.5"/>
<circle cx="1055.7" cy="636.0" r="5.4" fill="#fffef4" stroke="#7a7a50" stroke-width="0.5"/>
<circle cx="1069.8" cy="636.0" r="5.4" fill="#fffef4" stroke="#7a7a50" stroke-width="0.5"/>
<circle cx="1165.8" cy="636.0" r="5.4" fill="#fffef4" stroke="#7a7a50" stroke-width="0.5"/>
<text x="1037.5" y="667.0" font-size="30.5" fill="#3a3a3a" text-anchor="middle" stroke="#3a3a3a" stroke-width="0.3">0</text>
<text x="1235.2" y="667.0" font-size="30.5" fill="#3a3a3a" text-anchor="middle" stroke="#3a3a3a" stroke-width="0.3">1</text>
<text x="1438.5" y="667.0" font-size="30.5" fill="#3a3a3a" text-anchor="middle" stroke="#3a3a3a" stroke-width="0.3">2</text>
<text x="1639.0" y="667.0" font-size="30.5" fill="#3a3a3a" text-anchor="middle" stroke="#3a3a3a" stroke-width="0.3">3</text>
<text x="1020.5" y="640.4" font-size="30.5" fill="#3a3a3a" text-anchor="end" stroke="#3a3a3a" stroke-width="0.3">0</text>
<text x="1026.5" y="506.3" font-size="30.5" fill="#3a3a3a" text-anchor="end" stroke="#3a3a3a" stroke-width="0.3">1</text>
<text x="1025.1" y="367.0" font-size="30.5" fill="#3a3a3a" text-anchor="end" stroke="#3a3a3a" stroke-width="0.3">2</text>
<text x="1025.1" y="227.7" font-size="30.5" fill="#3a3a3a" text-anchor="end" stroke="#3a3a3a" stroke-width="0.3">3</text>
<text x="1020.5" y="88.4" font-size="30.5" fill="#3a3a3a" text-anchor="end" stroke="#3a3a3a" stroke-width="0.3">4</text>
<text x="1399.0" y="720.0" font-size="32.1" fill="#231f20" text-anchor="middle" stroke="#231f20" stroke-width="0.3">Enrichment factor</text>
<text x="947.5" y="270.0" font-size="32.1" fill="#231f20" text-anchor="middle" transform="rotate(-90 947.5 270.0)" stroke="#231f20" stroke-width="0.3">-Log<tspan font-size="21" dy="6">10</tspan><tspan dy="-6"> (P-value)</tspan></text>
<text x="1320.5" y="56.5" font-size="32.1" fill="#231f20" stroke="#231f20" stroke-width="0.3">Amino acids</text>
<text x="1394.5" y="208.0" font-size="32.1" fill="#231f20" stroke="#231f20" stroke-width="0.3">Short-chain keto acids</text>
</g>
<g id="panel-c">
<text x="-1.0" y="790.2" font-size="39.5" fill="#231f20" font-weight="bold">c</text>
<path d="M199.0 829.5V1099.2M256.0 829.5V1099.2M313.0 829.5V1099.2M370.0 829.5V1099.2M427.0 829.5V1099.2M484.0 829.5V1099.2M541.0 829.5V1099.2M598.0 829.5V1099.2M141 849.0H616.5M141 908.0H616.5M141 968.0H616.5M141 1085.0H616.5" stroke="#d2d2d2" stroke-width="0.9" stroke-dasharray="2.6 2.6" fill="none"/>
<path d="M141 1026.7H616.5" stroke="#8c8c8c" stroke-width="1.2"/>
<path d="M141.7 1101.7V1188.0M142.6 1101.7V1188.0M143.5 1101.7V1188.0M144.4 1101.7V1188.0M145.3 1101.7V1188.0M146.2 1101.7V1188.0M147.1 1101.7V1188.0M148.0 1101.7V1188.0M148.9 1101.7V1188.0M149.8 1101.7V1188.0M150.7 1101.7V1188.0M151.6 1101.7V1188.0M154.3 1101.7V1188.0M155.2 1101.7V1188.0M158.8 1101.7V1188.0M160.6 1101.7V1188.0M161.7 1101.7V1188.0M162.6 1101.7V1188.0M163.5 1101.7V1188.0M164.4 1101.7V1188.0M166.2 1101.7V1188.0M168.9 1101.7V1188.0M170.0 1101.7V1188.0M170.9 1101.7V1188.0M171.8 1101.7V1188.0M173.6 1101.7V1188.0M174.5 1101.7V1188.0M177.2 1101.7V1188.0M179.9 1101.7V1188.0M188.5 1101.7V1188.0M189.4 1101.7V1188.0M190.3 1101.7V1188.0M193.0 1101.7V1188.0M194.8 1101.7V1188.0M206.6 1101.7V1188.0M207.5 1101.7V1188.0M209.3 1101.7V1188.0M210.2 1101.7V1188.0M211.1 1101.7V1188.0M212.0 1101.7V1188.0M212.9 1101.7V1188.0M217.6 1101.7V1188.0M222.9 1101.7V1188.0M223.8 1101.7V1188.0M224.7 1101.7V1188.0M227.4 1101.7V1188.0M228.3 1101.7V1188.0M229.2 1101.7V1188.0M230.1 1101.7V1188.0M231.0 1101.7V1188.0M232.8 1101.7V1188.0M233.7 1101.7V1188.0M234.6 1101.7V1188.0M235.5 1101.7V1188.0M239.1 1101.7V1188.0M241.8 1101.7V1188.0M245.7 1101.7V1188.0M246.6 1101.7V1188.0M247.5 1101.7V1188.0M248.4 1101.7V1188.0M249.3 1101.7V1188.0M250.2 1101.7V1188.0M251.1 1101.7V1188.0M252.0 1101.7V1188.0M252.9 1101.7V1188.0M253.8 1101.7V1188.0M254.7 1101.7V1188.0M255.6 1101.7V1188.0M256.5 1101.7V1188.0M257.4 1101.7V1188.0M258.3 1101.7V1188.0M260.1 1101.7V1188.0M261.0 1101.7V1188.0M261.9 1101.7V1188.0M262.8 1101.7V1188.0M263.7 1101.7V1188.0M264.6 1101.7V1188.0M267.3 1101.7V1188.0M268.2 1101.7V1188.0M269.1 1101.7V1188.0M270.0 1101.7V1188.0M270.9 1101.7V1188.0M271.8 1101.7V1188.0M273.6 1101.7V1188.0M274.5 1101.7V1188.0M276.3 1101.7V1188.0M277.2 1101.7V1188.0M278.1 1101.7V1188.0M279.0 1101.7V1188.0M279.9 1101.7V1188.0M282.6 1101.7V1188.0M283.5 1101.7V1188.0M283.9 1101.7V1188.0M284.8 1101.7V1188.0M285.7 1101.7V1188.0M286.6 1101.7V1188.0M287.5 1101.7V1188.0M288.4 1101.7V1188.0M289.3 1101.7V1188.0M294.7 1101.7V1188.0M295.6 1101.7V1188.0M296.5 1101.7V1188.0M297.4 1101.7V1188.0M298.3 1101.7V1188.0M299.2 1101.7V1188.0M300.1 1101.7V1188.0M301.0 1101.7V1188.0M301.9 1101.7V1188.0M303.7 1101.7V1188.0M307.3 1101.7V1188.0M308.2 1101.7V1188.0M309.1 1101.7V1188.0M310.0 1101.7V1188.0M310.9 1101.7V1188.0M311.8 1101.7V1188.0M314.5 1101.7V1188.0M314.7 1101.7V1188.0M316.5 1101.7V1188.0M317.4 1101.7V1188.0M319.2 1101.7V1188.0M320.1 1101.7V1188.0M321.0 1101.7V1188.0M321.9 1101.7V1188.0M322.8 1101.7V1188.0M323.7 1101.7V1188.0M326.4 1101.7V1188.0M327.3 1101.7V1188.0M329.1 1101.7V1188.0M330.0 1101.7V1188.0M330.9 1101.7V1188.0M331.8 1101.7V1188.0M334.5 1101.7V1188.0M337.2 1101.7V1188.0M338.1 1101.7V1188.0M339.0 1101.7V1188.0M339.9 1101.7V1188.0M340.8 1101.7V1188.0M345.1 1101.7V1188.0M347.8 1101.7V1188.0M348.7 1101.7V1188.0M349.6 1101.7V1188.0M350.5 1101.7V1188.0M352.3 1101.7V1188.0M353.2 1101.7V1188.0M354.1 1101.7V1188.0M355.9 1101.7V1188.0M356.8 1101.7V1188.0M359.5 1101.7V1188.0M364.0 1101.7V1188.0M364.9 1101.7V1188.0M365.8 1101.7V1188.0M366.7 1101.7V1188.0M368.5 1101.7V1188.0M369.4 1101.7V1188.0M371.2 1101.7V1188.0M372.1 1101.7V1188.0M373.0 1101.7V1188.0M373.9 1101.7V1188.0M375.7 1101.7V1188.0M376.6 1101.7V1188.0M377.5 1101.7V1188.0M378.4 1101.7V1188.0M380.2 1101.7V1188.0M381.1 1101.7V1188.0M383.8 1101.7V1188.0M385.5 1101.7V1188.0M386.4 1101.7V1188.0M387.3 1101.7V1188.0M388.2 1101.7V1188.0M389.1 1101.7V1188.0M390.0 1101.7V1188.0M391.8 1101.7V1188.0M394.5 1101.7V1188.0M395.4 1101.7V1188.0M398.1 1101.7V1188.0M399.0 1101.7V1188.0M399.9 1101.7V1188.0M400.8 1101.7V1188.0M401.7 1101.7V1188.0M402.6 1101.7V1188.0M403.5 1101.7V1188.0M406.2 1101.7V1188.0M407.1 1101.7V1188.0M408.0 1101.7V1188.0M408.9 1101.7V1188.0M411.6 1101.7V1188.0M413.4 1101.7V1188.0M414.3 1101.7V1188.0M417.0 1101.7V1188.0M417.9 1101.7V1188.0M418.8 1101.7V1188.0M419.7 1101.7V1188.0M420.6 1101.7V1188.0M421.5 1101.7V1188.0M422.4 1101.7V1188.0M423.3 1101.7V1188.0M424.2 1101.7V1188.0M425.1 1101.7V1188.0M426.0 1101.7V1188.0M426.9 1101.7V1188.0M427.8 1101.7V1188.0M428.7 1101.7V1188.0M429.6 1101.7V1188.0M432.6 1101.7V1188.0M433.5 1101.7V1188.0M434.4 1101.7V1188.0M436.2 1101.7V1188.0M437.1 1101.7V1188.0M438.0 1101.7V1188.0M440.7 1101.7V1188.0M441.6 1101.7V1188.0M443.4 1101.7V1188.0M445.2 1101.7V1188.0M446.1 1101.7V1188.0M447.9 1101.7V1188.0M448.8 1101.7V1188.0M452.4 1101.7V1188.0M454.2 1101.7V1188.0M456.0 1101.7V1188.0M456.9 1101.7V1188.0M457.8 1101.7V1188.0M459.6 1101.7V1188.0M460.5 1101.7V1188.0M461.4 1101.7V1188.0M462.3 1101.7V1188.0M463.2 1101.7V1188.0M464.1 1101.7V1188.0M465.0 1101.7V1188.0M465.6 1101.7V1188.0M471.0 1101.7V1188.0M472.8 1101.7V1188.0M473.7 1101.7V1188.0M474.6 1101.7V1188.0M477.3 1101.7V1188.0M480.0 1101.7V1188.0M484.1 1101.7V1188.0M487.7 1101.7V1188.0M491.3 1101.7V1188.0M492.2 1101.7V1188.0M493.1 1101.7V1188.0M494.0 1101.7V1188.0M494.9 1101.7V1188.0M496.7 1101.7V1188.0M497.6 1101.7V1188.0M498.5 1101.7V1188.0M502.1 1101.7V1188.0M503.0 1101.7V1188.0M503.9 1101.7V1188.0M504.8 1101.7V1188.0M505.7 1101.7V1188.0M506.6 1101.7V1188.0M507.5 1101.7V1188.0M510.5 1101.7V1188.0M512.3 1101.7V1188.0M513.2 1101.7V1188.0M514.1 1101.7V1188.0M515.0 1101.7V1188.0M515.9 1101.7V1188.0M517.7 1101.7V1188.0M519.5 1101.7V1188.0M520.4 1101.7V1188.0M521.3 1101.7V1188.0M522.2 1101.7V1188.0M523.1 1101.7V1188.0M524.0 1101.7V1188.0M524.9 1101.7V1188.0M525.8 1101.7V1188.0M532.1 1101.7V1188.0M533.0 1101.7V1188.0M534.8 1101.7V1188.0M537.5 1101.7V1188.0M542.2 1101.7V1188.0M551.2 1101.7V1188.0M552.1 1101.7V1188.0M553.0 1101.7V1188.0M554.8 1101.7V1188.0M561.0 1101.7V1188.0M566.4 1101.7V1188.0M569.1 1101.7V1188.0M580.8 1101.7V1188.0M581.7 1101.7V1188.0M585.7 1101.7V1188.0M586.6 1101.7V1188.0M587.5 1101.7V1188.0M591.1 1101.7V1188.0M594.7 1101.7V1188.0M596.5 1101.7V1188.0M599.2 1101.7V1188.0M603.7 1101.7V1188.0M604.6 1101.7V1188.0M606.4 1101.7V1188.0M608.2 1101.7V1188.0" stroke="#000" stroke-opacity="0.93" stroke-width="1.0" fill="none"/>
<defs><linearGradient id="cb829" x1="0" x2="1" y1="0" y2="0">
<stop offset="0" stop-color="#f2001e"/><stop offset="0.05" stop-color="#f4283c"/><stop offset="0.14" stop-color="#f8384a"/>
<stop offset="0.2" stop-color="#fa5870"/><stop offset="0.28" stop-color="#fc7080"/><stop offset="0.285" stop-color="#f6a0c4"/>
<stop offset="0.4" stop-color="#f8a8cc"/><stop offset="0.52" stop-color="#f2a4cc"/><stop offset="0.525" stop-color="#c4b8e0"/>
<stop offset="0.65" stop-color="#c8bce2"/><stop offset="0.8" stop-color="#b0a0d4"/><stop offset="0.805" stop-color="#7470bc"/>
<stop offset="0.88" stop-color="#6458b0"/><stop offset="0.96" stop-color="#544ca8"/><stop offset="1" stop-color="#2c2c90"/>
</linearGradient></defs>
<rect x="141" y="1188.0" width="468.5" height="21.0" fill="url(#cb829)"/>
<path d="M141.7 1188.0V1209.0M144.4 1188.0V1209.0M147.1 1188.0V1209.0M149.8 1188.0V1209.0M154.3 1188.0V1209.0M160.6 1188.0V1209.0M163.5 1188.0V1209.0M168.9 1188.0V1209.0M171.8 1188.0V1209.0M177.2 1188.0V1209.0M189.4 1188.0V1209.0M194.8 1188.0V1209.0M209.3 1188.0V1209.0M212.0 1188.0V1209.0M222.9 1188.0V1209.0M227.4 1188.0V1209.0M230.1 1188.0V1209.0M233.7 1188.0V1209.0M239.1 1188.0V1209.0M246.6 1188.0V1209.0M249.3 1188.0V1209.0M252.0 1188.0V1209.0M254.7 1188.0V1209.0M257.4 1188.0V1209.0M261.0 1188.0V1209.0M263.7 1188.0V1209.0M268.2 1188.0V1209.0M270.9 1188.0V1209.0M274.5 1188.0V1209.0M278.1 1188.0V1209.0M282.6 1188.0V1209.0M284.8 1188.0V1209.0M287.5 1188.0V1209.0M294.7 1188.0V1209.0M297.4 1188.0V1209.0M300.1 1188.0V1209.0M303.7 1188.0V1209.0M309.1 1188.0V1209.0M311.8 1188.0V1209.0M316.5 1188.0V1209.0M320.1 1188.0V1209.0M322.8 1188.0V1209.0M327.3 1188.0V1209.0M330.9 1188.0V1209.0M337.2 1188.0V1209.0M339.9 1188.0V1209.0M347.8 1188.0V1209.0M350.5 1188.0V1209.0M354.1 1188.0V1209.0M359.5 1188.0V1209.0M365.8 1188.0V1209.0M369.4 1188.0V1209.0M373.0 1188.0V1209.0M376.6 1188.0V1209.0M380.2 1188.0V1209.0M385.5 1188.0V1209.0M388.2 1188.0V1209.0M391.8 1188.0V1209.0M398.1 1188.0V1209.0M400.8 1188.0V1209.0M403.5 1188.0V1209.0M408.0 1188.0V1209.0M413.4 1188.0V1209.0M417.9 1188.0V1209.0M420.6 1188.0V1209.0M423.3 1188.0V1209.0M426.0 1188.0V1209.0M428.7 1188.0V1209.0M433.5 1188.0V1209.0M437.1 1188.0V1209.0M441.6 1188.0V1209.0M446.1 1188.0V1209.0M452.4 1188.0V1209.0M456.9 1188.0V1209.0M460.5 1188.0V1209.0M463.2 1188.0V1209.0M465.6 1188.0V1209.0M473.7 1188.0V1209.0M480.0 1188.0V1209.0M491.3 1188.0V1209.0M494.0 1188.0V1209.0M497.6 1188.0V1209.0M503.0 1188.0V1209.0M505.7 1188.0V1209.0M510.5 1188.0V1209.0M514.1 1188.0V1209.0M517.7 1188.0V1209.0M521.3 1188.0V1209.0M524.0 1188.0V1209.0M532.1 1188.0V1209.0M537.5 1188.0V1209.0M552.1 1188.0V1209.0M561.0 1188.0V1209.0M580.8 1188.0V1209.0M586.6 1188.0V1209.0M594.7 1188.0V1209.0M603.7 1188.0V1209.0M608.2 1188.0V1209.0" stroke="#400030" stroke-opacity="0.13" stroke-width="0.8" fill="none"/>
<path d="M141 1188.0H616.5" stroke="#bbb" stroke-width="0.8"/>
<path d="M141 1099.2H616.5" stroke="#9a9a9a" stroke-width="1.6"/>
<rect x="141" y="829.5" width="475.5" height="379.5" fill="none" stroke="#000" stroke-width="1.6"/>
<path d="M143.4 1028.5L141.6 1026.3L145.0 1026.7L143.8 1024.8L144.8 1024.0L144.7 1022.6L146.1 1022.0L145.4 1020.4L147.6 1020.1L147.1 1018.6L148.5 1018.0L146.9 1015.9L149.8 1016.0L148.3 1014.0L151.3 1014.2L149.4 1011.9L150.7 1011.4L151.8 1011.9L152.2 1013.7L154.4 1012.6L154.6 1014.6L156.1 1014.5L155.4 1016.5L158.3 1016.0L156.9 1018.3L160.5 1017.3L158.6 1020.0L161.2 1019.6L160.8 1021.3L163.2 1021.1L161.5 1023.6L163.2 1023.9L162.3 1025.9L165.3 1025.3L164.0 1027.6L165.9 1027.2L165.9 1029.6L168.2 1028.3L167.4 1031.9L170.4 1029.7L170.6 1031.6L170.9 1031.2L172.8 1031.8L173.2 1030.3L175.2 1031.1L174.9 1028.7L176.7 1029.2L176.9 1027.5L178.9 1028.3L178.6 1025.9L179.0 1026.5L181.5 1026.5L180.5 1028.4L182.9 1028.5L181.6 1030.6L183.1 1031.1L182.2 1032.9L185.6 1032.4L183.5 1034.9L186.2 1034.8L184.7 1037.0L187.2 1037.0L186.0 1039.1L188.8 1038.9L186.9 1041.3L189.6 1041.2L188.8 1043.0L190.1 1043.7L191.4 1045.1L190.3 1043.3L192.8 1043.0L191.1 1040.9L193.6 1040.6L191.9 1038.6L194.0 1038.1L193.3 1036.5L196.2 1036.3L193.6 1033.9L195.8 1033.5L197.2 1031.5L196.4 1033.3L197.8 1033.9L197.2 1035.6L198.9 1036.0L198.8 1037.5L200.2 1038.1L199.2 1040.0L201.6 1040.0L200.6 1041.9L203.4 1041.8L201.3 1044.3L203.2 1044.6L202.4 1046.4L205.2 1046.2L204.2 1048.1L204.6 1048.6L206.1 1048.1L206.2 1046.8L206.7 1045.8L206.8 1044.5L209.6 1044.6L207.7 1042.3L210.1 1042.2L209.4 1040.6L209.2 1042.0L211.6 1042.2L210.3 1044.1L212.4 1044.5L211.4 1046.3L214.2 1046.4L211.6 1048.9L213.7 1049.3L212.6 1051.1L214.7 1051.5L213.6 1053.3L216.0 1053.6L214.9 1055.4L216.7 1055.9L216.0 1057.5L218.1 1058.0L218.0 1060.7L218.7 1058.3L220.2 1059.4L221.0 1057.2L222.6 1059.4L223.4 1057.3L224.9 1058.6L225.6 1056.4L227.3 1058.6L228.8 1057.0L227.0 1059.5L230.5 1058.8L229.3 1060.9L232.4 1060.5L229.9 1063.4L233.0 1063.0L231.8 1065.1L234.0 1065.2L233.1 1067.2L234.7 1067.6L235.1 1068.8L236.1 1069.5L235.5 1071.4L238.1 1070.9L237.9 1072.5L239.0 1073.1L238.4 1075.0L240.7 1074.8L239.7 1077.0L242.2 1076.5L241.6 1078.5L244.3 1077.9L242.8 1080.5L245.6 1079.8L244.7 1082.0L245.7 1082.6L245.6 1084.1L246.9 1084.4L248.4 1084.2L247.9 1082.0L250.4 1082.9L250.0 1080.8L253.1 1081.0L251.1 1079.1L252.1 1078.2L250.9 1076.5L254.1 1076.4L251.6 1074.3L254.4 1074.0L251.9 1071.9L255.4 1071.9L253.9 1070.1L255.1 1069.3L254.8 1068.0L256.5 1067.3L255.6 1065.8L257.3 1065.1L255.8 1063.4L258.6 1063.1L257.8 1060.7L258.5 1062.8L260.6 1060.7L261.1 1063.5L262.9 1062.1L265.0 1064.1L263.7 1062.2L265.4 1061.7L264.5 1059.9L266.2 1059.3L264.8 1057.4L267.5 1057.3L266.8 1055.6L269.0 1055.3L267.0 1053.1L269.1 1052.7L268.6 1051.1L270.3 1050.5L269.5 1048.9L270.9 1048.2L270.7 1046.8L272.1 1046.0L271.5 1044.3L272.9 1043.8L272.6 1042.1L274.5 1041.8L273.2 1039.7L276.8 1040.4L274.4 1037.5L277.5 1038.0L276.8 1036.2L278.8 1035.9L278.7 1033.6L279.5 1035.5L281.2 1034.4L281.7 1037.2L283.6 1035.7L285.6 1036.5L283.0 1034.9L286.3 1034.3L283.9 1032.7L286.5 1032.0L285.0 1030.6L286.7 1029.7L285.9 1028.4L286.9 1027.4L285.5 1025.9L287.2 1025.1L285.4 1023.6L287.4 1022.7L286.7 1021.5L287.9 1020.5L285.9 1019.0L289.4 1018.4L286.5 1016.7L289.0 1016.0L286.3 1014.3L290.6 1013.9L287.8 1012.2L288.4 1012.3L290.2 1011.4L290.5 1013.4L292.5 1012.0L293.3 1013.4L291.7 1011.8L294.9 1011.3L292.1 1009.5L295.7 1009.1L293.6 1007.4L295.5 1006.6L294.3 1005.1L296.3 1004.4L294.8 1002.8L296.7 1002.1L295.7 1000.6L297.4 999.8L295.2 998.1L298.4 997.6L297.3 996.2L298.5 995.2L296.1 993.4L299.7 993.1L297.8 991.4L299.1 990.5L297.0 988.8L300.2 988.4L298.7 986.8L300.9 986.1L298.6 984.3L300.1 983.5L299.2 982.1L302.1 981.5L300.2 979.9L301.9 979.1L301.1 977.6L302.2 976.8L301.9 975.4L303.5 974.7L302.2 972.9L304.7 972.6L303.2 970.7L305.2 970.3L303.9 968.5L306.0 968.1L305.8 966.7L307.2 966.0L305.6 964.1L309.0 964.1L307.5 962.3L308.5 961.4L307.5 959.7L309.7 959.3L309.2 957.8L310.3 957.9L311.0 956.0L312.8 957.1L313.1 953.8L315.1 955.6L316.3 954.8L318.1 954.1L317.0 952.5L318.5 951.7L316.2 949.8L318.0 949.1L317.1 947.6L319.6 947.1L318.1 945.4L320.3 944.8L318.6 943.0L321.4 942.7L319.9 941.0L322.0 940.4L319.0 938.2L321.7 937.8L321.0 936.3L323.2 935.8L320.8 933.8L323.9 933.5L322.2 931.8L325.2 931.4L323.3 929.6L325.8 929.1L323.9 927.4L325.6 926.6L324.6 925.2L326.1 924.3L324.5 922.8L326.7 922.1L324.8 920.5L326.0 919.6L325.4 918.3L328.2 917.7L326.7 916.2L328.4 915.4L326.5 913.8L328.5 913.0L326.9 911.5L328.3 910.6L327.4 909.3L330.5 908.7L328.1 907.0L330.0 906.3L328.5 904.8L330.6 904.0L329.0 902.5L330.1 901.6L329.9 900.4L331.2 899.4L329.3 897.6L332.8 897.7L331.3 895.8L333.3 895.3L332.1 893.6L333.7 892.9L331.6 890.8L334.9 890.8L333.8 889.1L336.6 888.9L335.0 887.0L336.9 886.5L335.6 884.7L337.7 884.2L336.9 882.6L337.8 881.7L336.7 880.0L337.8 879.7L339.0 880.4L338.2 882.3L341.4 881.8L340.2 883.9L343.3 883.5L341.3 886.1L343.5 886.2L344.6 888.7L343.8 886.6L345.2 886.2L344.9 884.5L347.4 884.9L346.1 882.5L348.3 882.7L347.5 880.6L349.3 880.6L348.6 878.7L350.7 878.5L349.3 876.3L351.8 876.4L351.4 874.7L352.9 874.2L352.7 872.6L354.6 872.3L353.7 870.4L357.0 870.9L355.9 868.9L356.3 870.0L358.3 870.1L356.8 872.5L358.9 872.5L359.1 873.8L361.0 873.9L359.5 876.3L362.2 875.9L360.8 878.2L362.7 878.3L362.1 880.1L365.1 879.6L365.4 882.3L364.0 879.8L367.1 880.6L365.5 878.0L368.5 878.7L366.8 876.0L369.2 876.4L368.8 874.6L371.2 875.0L369.7 871.9L372.0 873.0L371.7 870.6L374.5 872.4L374.1 870.0L376.0 870.6L375.9 868.5L377.4 868.5L377.9 867.3L377.8 867.9L380.1 867.4L379.8 869.5L382.3 868.9L381.5 871.4L383.7 871.0L383.8 872.7L385.0 872.6L386.9 873.2L386.6 870.6L388.7 871.4L389.2 869.9L391.1 870.5L392.4 868.2L391.6 870.4L394.3 869.7L393.0 872.2L395.4 871.7L394.7 873.9L397.0 873.4L396.0 875.8L397.6 876.0L397.5 877.6L399.8 877.2L399.2 879.2L401.7 878.7L400.3 881.4L400.4 880.7L403.0 880.6L401.8 878.7L404.0 878.4L403.1 876.6L405.1 876.2L404.3 874.6L406.5 874.2L404.9 872.2L407.2 871.9L405.9 870.0L408.3 869.7L406.4 867.5L409.3 867.5L407.6 865.5L409.5 865.0L409.7 863.8L410.8 862.9L409.9 861.2L412.4 861.0L411.2 859.2L413.7 859.6L412.7 856.8L414.8 857.2L414.6 855.2L417.0 855.8L416.0 853.0L418.0 853.2L417.8 850.9L420.0 851.8L420.0 849.8L422.5 851.0L422.6 849.2L424.2 849.1L424.0 846.9L425.9 847.4L425.0 844.4L428.2 846.3L428.1 844.4L427.8 844.8L430.1 844.6L429.8 846.3L433.0 845.5L430.8 848.5L433.0 848.4L432.8 850.1L434.7 850.2L434.4 851.9L436.2 852.1L435.2 854.2L438.2 853.6L437.0 855.9L438.7 856.2L437.7 858.3L439.2 857.6L441.2 858.5L441.4 856.5L443.1 857.2L443.1 854.7L445.0 855.5L445.6 854.2L447.9 855.7L447.6 852.9L450.0 854.5L449.7 851.5L451.9 853.0L451.5 849.8L453.9 851.7L455.5 848.6L455.3 850.7L456.7 850.7L456.5 853.0L458.7 851.9L458.5 854.2L460.4 853.6L460.5 855.4L462.2 855.1L462.3 856.6L464.0 856.9L462.7 859.1L466.0 858.4L465.0 860.4L466.3 860.9L465.0 863.1L468.2 862.5L466.9 864.7L469.2 864.6L468.4 866.4L469.4 867.2L469.4 868.6L471.6 868.6L470.5 870.6L473.4 870.2L472.0 872.5L472.9 872.2L474.7 873.4L475.4 871.3L477.4 873.2L478.2 871.3L478.9 871.3L480.2 871.9L479.9 873.5L481.8 873.9L481.2 875.7L483.9 875.4L482.5 877.7L484.5 877.9L483.8 879.8L485.7 880.1L486.6 882.1L486.0 880.2L488.7 880.7L486.7 877.8L489.3 878.2L488.5 876.2L490.6 876.3L489.5 874.0L492.0 874.4L491.6 872.6L493.5 872.5L493.8 870.6L493.1 872.6L495.2 872.6L494.6 874.5L496.9 874.3L496.2 876.3L498.4 876.2L497.6 878.2L499.9 878.0L498.3 880.7L501.4 879.9L499.9 882.4L502.0 882.4L502.9 884.8L503.5 882.2L505.2 883.3L506.2 881.9L508.0 883.1L508.8 881.4L508.6 883.0L510.7 882.9L509.6 885.2L512.3 884.6L512.1 886.2L513.2 886.8L513.0 888.5L515.1 888.4L515.1 889.8L515.7 887.6L517.8 889.6L518.3 886.8L520.4 889.0L522.6 886.8L521.3 889.2L524.0 888.7L522.8 891.0L525.3 890.6L523.3 893.5L526.3 892.8L526.2 894.3L527.7 894.6L527.7 896.0L528.9 896.5L528.3 898.8L531.6 897.1L530.3 900.2L531.8 900.3L532.1 901.6L534.0 901.5L533.6 903.6L536.1 902.7L534.0 905.5L537.6 905.0L536.6 906.8L538.5 907.1L537.3 909.1L539.7 909.2L537.6 911.6L540.4 911.4L538.5 913.7L542.1 913.2L540.0 915.6L542.4 915.7L542.1 917.1L544.0 917.5L543.2 919.2L545.5 919.4L543.6 921.7L544.8 922.4L544.6 923.9L547.1 923.8L546.4 925.6L547.3 926.5L546.6 928.3L549.6 928.0L547.9 930.3L551.2 929.8L550.3 931.7L552.0 932.1L550.7 934.3L552.8 934.4L552.5 936.0L554.8 936.2L553.3 938.2L554.6 938.9L553.9 940.5L555.3 941.2L555.1 942.6L557.5 942.7L556.7 944.4L557.7 945.2L556.0 947.3L559.1 947.1L558.1 948.9L561.0 948.8L559.1 951.0L562.1 950.9L561.2 952.6L563.0 953.0L561.9 955.0L564.6 954.8L563.0 957.1L564.3 957.8L563.9 959.4L566.1 959.5L564.9 961.6L567.4 961.5L565.9 963.8L568.9 963.5L568.3 965.2L570.2 965.5L568.8 967.6L571.5 967.7L568.7 970.3L572.4 970.0L570.1 972.3L573.6 972.1L571.6 974.3L574.1 974.6L572.6 976.5L574.2 977.1L573.6 978.8L575.1 979.4L573.7 981.4L576.4 981.5L575.4 983.3L576.8 983.9L575.9 985.7L578.8 985.7L578.0 987.4L580.7 987.3L579.4 989.3L580.2 990.2L580.6 991.3L582.5 991.7L581.2 993.7L583.0 994.0L581.9 995.9L584.2 996.0L583.7 997.6L585.1 998.3L584.5 999.8L586.4 1000.2L584.3 1002.5L586.6 1002.6L586.3 1004.4L588.5 1004.2L588.0 1006.2L590.4 1005.8L589.0 1008.5L592.1 1007.6L591.3 1009.8L592.6 1010.3L591.6 1012.6L594.7 1011.8L594.3 1013.6L596.2 1013.7L595.6 1015.6L597.8 1015.5L597.0 1017.6L598.9 1017.7L598.9 1019.2L600.6 1019.4L598.8 1022.2L601.7 1021.6L600.8 1023.7L603.5 1023.2L602.2 1025.6L604.2 1025.7L603.7 1027.5L604.6 1027.0L606.8 1028.7L607.0 1026.5L608.5 1027.0L609.3 1025.9" fill="none" stroke="#4bbb32" stroke-width="3.7" stroke-linejoin="round" stroke-linecap="round"/>
<text x="380.0" y="813.0" font-size="25.3" fill="#000" text-anchor="middle" stroke="#000" stroke-width="0.3">Metabolism of amino acids</text>
<text x="323.7" y="991.6" font-size="25.2" fill="#000" stroke="#000" stroke-width="0.3">NES: 3.39</text>
<text x="323.7" y="1023.1" font-size="25.2" fill="#000" stroke="#000" stroke-width="0.3">FDR q-value &lt; 0.001</text>
<text x="129.0" y="1237.0" font-size="25.7" fill="#000" stroke="#000" stroke-width="0.3">CPT2/USP30<tspan font-size="16.0" dy="-9">H-KO</tspan></text>
<text x="616.5" y="1237.0" font-size="25.7" fill="#000" text-anchor="end" stroke="#000" stroke-width="0.3">CPT2<tspan font-size="16.0" dy="-9">H-KO</tspan></text>
<text x="131.0" y="960.0" font-size="25.7" fill="#000" text-anchor="middle" transform="rotate(-90 131.0 960.0)" stroke="#000" stroke-width="0.3">Enrichment score (ES)</text>
<path d="M192.0 1283.6V1552.4M250.0 1283.6V1552.4M308.0 1283.6V1552.4M366.0 1283.6V1552.4M424.0 1283.6V1552.4M482.0 1283.6V1552.4M540.0 1283.6V1552.4M598.0 1283.6V1552.4M134 1298.0H619M134 1387.0H619M134 1434.0H619M134 1479.0H619M134 1524.0H619" stroke="#d2d2d2" stroke-width="0.9" stroke-dasharray="2.6 2.6" fill="none"/>
<path d="M134 1341.8H619" stroke="#8c8c8c" stroke-width="1.2"/>
<path d="M160.3 1554.9V1641.2M170.1 1554.9V1641.2M199.6 1554.9V1641.2M208.3 1554.9V1641.2M219.2 1554.9V1641.2M221.0 1554.9V1641.2M223.7 1554.9V1641.2M229.1 1554.9V1641.2M231.8 1554.9V1641.2M232.7 1554.9V1641.2M238.5 1554.9V1641.2M240.3 1554.9V1641.2M241.2 1554.9V1641.2M243.0 1554.9V1641.2M245.7 1554.9V1641.2M246.6 1554.9V1641.2M247.5 1554.9V1641.2M248.4 1554.9V1641.2M249.3 1554.9V1641.2M252.9 1554.9V1641.2M253.8 1554.9V1641.2M256.5 1554.9V1641.2M257.4 1554.9V1641.2M259.2 1554.9V1641.2M269.2 1554.9V1641.2M270.1 1554.9V1641.2M272.8 1554.9V1641.2M273.7 1554.9V1641.2M275.2 1554.9V1641.2M276.1 1554.9V1641.2M278.8 1554.9V1641.2M279.7 1554.9V1641.2M281.5 1554.9V1641.2M283.3 1554.9V1641.2M284.2 1554.9V1641.2M286.0 1554.9V1641.2M287.8 1554.9V1641.2M288.7 1554.9V1641.2M289.6 1554.9V1641.2M290.5 1554.9V1641.2M292.3 1554.9V1641.2M294.1 1554.9V1641.2M295.0 1554.9V1641.2M295.9 1554.9V1641.2M296.8 1554.9V1641.2M298.6 1554.9V1641.2M299.5 1554.9V1641.2M300.4 1554.9V1641.2M301.3 1554.9V1641.2M303.1 1554.9V1641.2M304.9 1554.9V1641.2M305.8 1554.9V1641.2M307.6 1554.9V1641.2M309.4 1554.9V1641.2M310.3 1554.9V1641.2M311.2 1554.9V1641.2M312.1 1554.9V1641.2M313.9 1554.9V1641.2M314.8 1554.9V1641.2M315.7 1554.9V1641.2M316.6 1554.9V1641.2M317.5 1554.9V1641.2M319.3 1554.9V1641.2M321.1 1554.9V1641.2M322.9 1554.9V1641.2M323.8 1554.9V1641.2M325.8 1554.9V1641.2M328.5 1554.9V1641.2M331.2 1554.9V1641.2M333.0 1554.9V1641.2M333.9 1554.9V1641.2M335.7 1554.9V1641.2M336.6 1554.9V1641.2M338.4 1554.9V1641.2M340.2 1554.9V1641.2M341.1 1554.9V1641.2M342.0 1554.9V1641.2M342.9 1554.9V1641.2M344.7 1554.9V1641.2M345.6 1554.9V1641.2M346.5 1554.9V1641.2M347.4 1554.9V1641.2M348.3 1554.9V1641.2M348.9 1554.9V1641.2M349.8 1554.9V1641.2M350.7 1554.9V1641.2M352.5 1554.9V1641.2M353.4 1554.9V1641.2M354.3 1554.9V1641.2M355.2 1554.9V1641.2M356.1 1554.9V1641.2M357.0 1554.9V1641.2M357.9 1554.9V1641.2M358.8 1554.9V1641.2M359.7 1554.9V1641.2M360.6 1554.9V1641.2M361.5 1554.9V1641.2M362.4 1554.9V1641.2M364.2 1554.9V1641.2M365.1 1554.9V1641.2M367.8 1554.9V1641.2M368.7 1554.9V1641.2M369.6 1554.9V1641.2M370.5 1554.9V1641.2M372.3 1554.9V1641.2M374.1 1554.9V1641.2M375.0 1554.9V1641.2M375.9 1554.9V1641.2M376.8 1554.9V1641.2M383.1 1554.9V1641.2M384.9 1554.9V1641.2M385.8 1554.9V1641.2M386.7 1554.9V1641.2M387.6 1554.9V1641.2M394.0 1554.9V1641.2M395.8 1554.9V1641.2M396.7 1554.9V1641.2M397.6 1554.9V1641.2M398.5 1554.9V1641.2M399.4 1554.9V1641.2M400.3 1554.9V1641.2M401.2 1554.9V1641.2M402.1 1554.9V1641.2M403.0 1554.9V1641.2M403.9 1554.9V1641.2M404.8 1554.9V1641.2M405.7 1554.9V1641.2M406.6 1554.9V1641.2M407.5 1554.9V1641.2M412.0 1554.9V1641.2M412.9 1554.9V1641.2M413.8 1554.9V1641.2M414.7 1554.9V1641.2M415.6 1554.9V1641.2M416.5 1554.9V1641.2M417.4 1554.9V1641.2M418.3 1554.9V1641.2M419.2 1554.9V1641.2M420.1 1554.9V1641.2M421.9 1554.9V1641.2M422.8 1554.9V1641.2M423.7 1554.9V1641.2M424.6 1554.9V1641.2M426.4 1554.9V1641.2M427.3 1554.9V1641.2M428.2 1554.9V1641.2M429.1 1554.9V1641.2M430.0 1554.9V1641.2M430.9 1554.9V1641.2M431.8 1554.9V1641.2M432.7 1554.9V1641.2M433.6 1554.9V1641.2M434.5 1554.9V1641.2M435.4 1554.9V1641.2M436.3 1554.9V1641.2M438.1 1554.9V1641.2M439.0 1554.9V1641.2M439.9 1554.9V1641.2M440.8 1554.9V1641.2M441.7 1554.9V1641.2M443.1 1554.9V1641.2M448.4 1554.9V1641.2M449.3 1554.9V1641.2M450.2 1554.9V1641.2M451.1 1554.9V1641.2M452.9 1554.9V1641.2M455.5 1554.9V1641.2M456.4 1554.9V1641.2M457.3 1554.9V1641.2M460.0 1554.9V1641.2M460.9 1554.9V1641.2M462.7 1554.9V1641.2M464.5 1554.9V1641.2M467.2 1554.9V1641.2M468.1 1554.9V1641.2M469.0 1554.9V1641.2M470.8 1554.9V1641.2M471.7 1554.9V1641.2M473.5 1554.9V1641.2M475.3 1554.9V1641.2M478.0 1554.9V1641.2M478.9 1554.9V1641.2M480.7 1554.9V1641.2M481.6 1554.9V1641.2M482.5 1554.9V1641.2M483.4 1554.9V1641.2M484.3 1554.9V1641.2M485.2 1554.9V1641.2M486.1 1554.9V1641.2M487.0 1554.9V1641.2M487.9 1554.9V1641.2M489.7 1554.9V1641.2M490.6 1554.9V1641.2M491.5 1554.9V1641.2M492.4 1554.9V1641.2M493.3 1554.9V1641.2M495.1 1554.9V1641.2M496.0 1554.9V1641.2M497.8 1554.9V1641.2M498.7 1554.9V1641.2M499.6 1554.9V1641.2M501.4 1554.9V1641.2M503.2 1554.9V1641.2M504.1 1554.9V1641.2M505.0 1554.9V1641.2M505.9 1554.9V1641.2M508.6 1554.9V1641.2M509.5 1554.9V1641.2M510.4 1554.9V1641.2M511.3 1554.9V1641.2M512.2 1554.9V1641.2M513.1 1554.9V1641.2M514.0 1554.9V1641.2M515.8 1554.9V1641.2M516.7 1554.9V1641.2M517.6 1554.9V1641.2M518.5 1554.9V1641.2M519.4 1554.9V1641.2M521.7 1554.9V1641.2M527.9 1554.9V1641.2M528.8 1554.9V1641.2M529.7 1554.9V1641.2M530.6 1554.9V1641.2M532.4 1554.9V1641.2M537.8 1554.9V1641.2M538.7 1554.9V1641.2M539.6 1554.9V1641.2M540.5 1554.9V1641.2M550.3 1554.9V1641.2M551.2 1554.9V1641.2M553.0 1554.9V1641.2M553.9 1554.9V1641.2M554.8 1554.9V1641.2M555.7 1554.9V1641.2M557.5 1554.9V1641.2M558.4 1554.9V1641.2M559.3 1554.9V1641.2M564.7 1554.9V1641.2M565.6 1554.9V1641.2M566.5 1554.9V1641.2M567.4 1554.9V1641.2M573.1 1554.9V1641.2M586.8 1554.9V1641.2M594.5 1554.9V1641.2M595.4 1554.9V1641.2M596.3 1554.9V1641.2M597.2 1554.9V1641.2M604.4 1554.9V1641.2M607.1 1554.9V1641.2M608.0 1554.9V1641.2M609.8 1554.9V1641.2" stroke="#000" stroke-opacity="0.93" stroke-width="1.0" fill="none"/>
<defs><linearGradient id="cb1283" x1="0" x2="1" y1="0" y2="0">
<stop offset="0" stop-color="#f2001e"/><stop offset="0.05" stop-color="#f4283c"/><stop offset="0.14" stop-color="#f8384a"/>
<stop offset="0.2" stop-color="#fa5870"/><stop offset="0.28" stop-color="#fc7080"/><stop offset="0.285" stop-color="#f6a0c4"/>
<stop offset="0.4" stop-color="#f8a8cc"/><stop offset="0.52" stop-color="#f2a4cc"/><stop offset="0.525" stop-color="#c4b8e0"/>
<stop offset="0.65" stop-color="#c8bce2"/><stop offset="0.8" stop-color="#b0a0d4"/><stop offset="0.805" stop-color="#7470bc"/>
<stop offset="0.88" stop-color="#6458b0"/><stop offset="0.96" stop-color="#544ca8"/><stop offset="1" stop-color="#2c2c90"/>
</linearGradient></defs>
<rect x="134" y="1641.2" width="477.5" height="23.5" fill="url(#cb1283)"/>
<path d="M160.3 1641.2V1664.7M208.3 1641.2V1664.7M223.7 1641.2V1664.7M232.7 1641.2V1664.7M241.2 1641.2V1664.7M246.6 1641.2V1664.7M249.3 1641.2V1664.7M256.5 1641.2V1664.7M269.2 1641.2V1664.7M273.7 1641.2V1664.7M278.8 1641.2V1664.7M283.3 1641.2V1664.7M287.8 1641.2V1664.7M290.5 1641.2V1664.7M295.0 1641.2V1664.7M298.6 1641.2V1664.7M301.3 1641.2V1664.7M305.8 1641.2V1664.7M310.3 1641.2V1664.7M313.9 1641.2V1664.7M316.6 1641.2V1664.7M321.1 1641.2V1664.7M325.8 1641.2V1664.7M333.0 1641.2V1664.7M336.6 1641.2V1664.7M341.1 1641.2V1664.7M344.7 1641.2V1664.7M347.4 1641.2V1664.7M349.8 1641.2V1664.7M353.4 1641.2V1664.7M356.1 1641.2V1664.7M358.8 1641.2V1664.7M361.5 1641.2V1664.7M365.1 1641.2V1664.7M369.6 1641.2V1664.7M374.1 1641.2V1664.7M376.8 1641.2V1664.7M385.8 1641.2V1664.7M394.0 1641.2V1664.7M397.6 1641.2V1664.7M400.3 1641.2V1664.7M403.0 1641.2V1664.7M405.7 1641.2V1664.7M412.0 1641.2V1664.7M414.7 1641.2V1664.7M417.4 1641.2V1664.7M420.1 1641.2V1664.7M423.7 1641.2V1664.7M427.3 1641.2V1664.7M430.0 1641.2V1664.7M432.7 1641.2V1664.7M435.4 1641.2V1664.7M439.0 1641.2V1664.7M441.7 1641.2V1664.7M449.3 1641.2V1664.7M452.9 1641.2V1664.7M457.3 1641.2V1664.7M462.7 1641.2V1664.7M468.1 1641.2V1664.7M471.7 1641.2V1664.7M478.0 1641.2V1664.7M481.6 1641.2V1664.7M484.3 1641.2V1664.7M487.0 1641.2V1664.7M490.6 1641.2V1664.7M493.3 1641.2V1664.7M497.8 1641.2V1664.7M501.4 1641.2V1664.7M505.0 1641.2V1664.7M509.5 1641.2V1664.7M512.2 1641.2V1664.7M515.8 1641.2V1664.7M518.5 1641.2V1664.7M527.9 1641.2V1664.7M530.6 1641.2V1664.7M538.7 1641.2V1664.7M550.3 1641.2V1664.7M553.9 1641.2V1664.7M557.5 1641.2V1664.7M564.7 1641.2V1664.7M567.4 1641.2V1664.7M594.5 1641.2V1664.7M597.2 1641.2V1664.7M608.0 1641.2V1664.7" stroke="#400030" stroke-opacity="0.13" stroke-width="0.8" fill="none"/>
<path d="M134 1641.2H619" stroke="#bbb" stroke-width="0.8"/>
<path d="M134 1552.4H619" stroke="#9a9a9a" stroke-width="1.6"/>
<rect x="134" y="1283.6" width="485" height="381.10000000000014" fill="none" stroke="#000" stroke-width="1.6"/>
<path d="M134.4 1342.5L137.3 1342.3L135.3 1344.7L137.8 1344.7L136.1 1346.9L138.7 1346.8L137.2 1349.0L139.9 1348.9L138.4 1351.0L141.2 1350.8L139.4 1353.2L141.3 1353.4L141.0 1355.0L143.3 1355.0L142.1 1357.0L144.0 1357.3L143.5 1359.0L144.8 1359.6L143.5 1361.6L146.3 1361.5L145.1 1363.5L148.2 1363.2L145.9 1365.6L147.6 1366.1L146.9 1367.8L148.8 1368.1L149.1 1369.3L151.0 1369.7L149.5 1371.7L151.2 1372.2L150.1 1374.0L152.4 1374.1L150.9 1376.2L154.6 1375.7L152.3 1378.1L154.9 1378.1L153.5 1380.2L155.4 1380.5L153.8 1382.6L156.2 1382.7L156.1 1384.1L158.7 1384.1L155.9 1386.8L159.0 1386.6L157.4 1388.7L160.4 1388.3L159.9 1390.0L161.9 1390.1L160.4 1392.6L162.9 1392.3L161.6 1394.6L163.8 1394.6L162.1 1397.2L164.8 1396.8L164.7 1398.3L166.7 1398.4L166.4 1400.0L168.1 1400.3L167.0 1402.5L168.5 1403.0L168.0 1404.7L171.1 1404.1L170.0 1406.2L172.2 1406.2L171.7 1408.0L172.9 1408.7L171.8 1410.5L174.4 1410.5L172.8 1412.5L174.5 1413.0L173.6 1414.7L175.3 1415.2L175.2 1416.5L177.2 1416.9L175.5 1418.9L178.0 1419.0L177.1 1420.7L178.8 1421.2L177.1 1423.3L180.2 1423.1L178.5 1425.2L180.8 1425.4L179.5 1427.2L181.9 1427.4L180.3 1429.4L182.5 1429.7L182.0 1431.1L183.7 1431.6L181.8 1433.8L184.8 1433.7L183.9 1435.4L185.8 1435.7L184.1 1438.0L186.7 1437.9L186.3 1439.5L187.7 1440.1L186.8 1442.0L188.7 1442.3L187.7 1444.2L190.8 1443.8L189.4 1446.0L192.2 1445.8L190.0 1448.4L193.5 1447.8L191.0 1450.5L193.7 1450.4L193.5 1451.9L194.3 1452.8L194.1 1454.3L195.5 1454.9L194.2 1456.9L196.5 1457.0L195.5 1459.4L197.6 1459.1L197.4 1460.9L199.8 1460.4L198.8 1462.9L201.3 1462.4L201.2 1464.0L203.2 1463.9L202.3 1466.3L204.9 1465.6L204.4 1467.6L206.5 1467.4L205.4 1469.9L207.6 1469.7L207.2 1471.6L209.0 1471.6L209.0 1473.2L211.3 1473.0L210.7 1474.9L211.5 1475.8L211.4 1477.3L213.4 1477.4L212.4 1479.5L214.9 1479.2L213.8 1481.4L215.7 1481.6L214.6 1483.7L217.0 1483.6L216.0 1485.7L218.5 1485.4L217.7 1487.4L219.6 1487.6L218.7 1489.6L220.8 1489.6L220.5 1491.2L222.6 1491.0L222.8 1492.5L224.3 1492.7L223.7 1495.0L226.2 1494.2L225.5 1496.5L228.4 1495.3L227.3 1498.1L228.7 1498.4L228.7 1500.1L230.6 1499.8L230.6 1501.5L233.4 1500.3L232.3 1503.2L234.6 1502.5L233.8 1505.0L236.2 1504.3L234.7 1507.5L238.1 1505.7L237.6 1507.9L239.6 1507.6L238.9 1509.9L241.4 1509.1L240.3 1511.9L243.1 1510.8L243.3 1514.6L243.9 1512.0L245.4 1513.3L246.1 1511.1L247.7 1512.7L248.3 1510.2L250.0 1512.1L250.4 1509.0L252.3 1511.9L252.9 1509.3L254.5 1511.0L256.9 1508.5L256.3 1510.6L258.7 1510.1L256.8 1513.2L259.8 1512.2L258.6 1514.8L260.4 1514.8L259.2 1517.3L262.1 1516.4L262.1 1518.0L263.8 1518.1L263.3 1520.0L264.9 1520.2L265.2 1521.5L267.3 1521.3L265.7 1524.1L268.4 1523.4L267.7 1525.6L270.0 1524.7L269.0 1527.8L271.2 1527.1L270.8 1529.5L273.4 1528.3L272.2 1531.6L275.6 1529.5L275.3 1531.8L276.8 1531.5L277.0 1533.7L279.0 1532.3L279.3 1534.5L281.1 1533.5L281.0 1536.2L283.2 1534.5L283.2 1537.2L285.1 1536.0L285.1 1538.6L286.1 1537.2L288.5 1537.6L288.3 1535.9L290.2 1536.0L289.0 1533.4L291.0 1533.5L291.5 1532.4L293.8 1532.8L293.2 1530.5L294.0 1531.9L295.8 1530.1L296.3 1532.7L298.0 1531.1L298.6 1533.4L300.7 1530.7L300.9 1534.4L302.6 1532.7L304.2 1534.3L304.0 1532.1L306.1 1532.8L305.6 1530.2L308.0 1531.2L307.4 1528.5L310.1 1530.1L309.5 1527.3L311.8 1528.3L311.5 1526.0L314.0 1527.1L314.6 1524.4L314.3 1527.1L316.6 1526.0L316.0 1529.0L318.4 1527.6L318.1 1530.2L320.7 1528.7L321.1 1530.3L322.5 1530.4L324.1 1532.1L323.5 1530.2L326.2 1530.7L324.6 1528.1L327.4 1528.7L326.5 1526.6L328.1 1526.3L327.4 1524.4L329.3 1524.3L328.9 1522.5L330.6 1522.3L330.6 1520.9L331.8 1520.2L331.8 1518.8L333.1 1518.2L331.6 1515.9L334.9 1516.4L333.3 1514.1L335.3 1513.9L335.1 1512.4L336.7 1511.9L336.1 1510.2L338.0 1509.8L337.5 1508.2L339.6 1508.0L338.0 1505.5L340.7 1506.1L340.5 1504.5L342.0 1504.1L341.6 1502.4L343.3 1502.2L342.4 1500.1L345.2 1500.7L344.0 1498.4L346.5 1499.0L345.6 1496.5L348.3 1497.5L347.0 1494.5L349.2 1495.1L349.1 1493.3L351.2 1493.6L350.6 1491.4L352.9 1492.0L352.9 1490.4L354.2 1490.0L354.0 1488.1L355.8 1488.3L355.4 1486.2L358.4 1487.5L357.3 1484.7L359.1 1484.8L358.6 1482.6L361.6 1483.9L360.8 1481.5L363.3 1481.5L361.4 1479.9L363.0 1479.0L362.6 1477.7L364.9 1477.0L362.3 1475.3L363.9 1474.4L362.9 1473.0L365.0 1472.2L363.7 1470.8L365.5 1469.9L363.0 1468.3L365.6 1467.5L364.3 1466.1L365.7 1465.2L363.8 1463.6L367.3 1463.1L364.7 1461.4L367.6 1460.7L364.3 1458.9L367.6 1458.4L366.8 1457.0L367.5 1455.9L367.2 1454.7L368.8 1453.8L366.9 1452.2L368.8 1451.4L367.9 1450.0L369.3 1449.1L367.7 1447.1L369.8 1447.3L368.5 1444.9L371.3 1445.5L370.2 1443.2L372.0 1443.1L371.2 1441.1L374.4 1442.0L373.7 1440.0L374.2 1439.9L375.6 1440.3L375.4 1442.0L377.2 1442.1L376.6 1444.2L379.0 1443.8L378.7 1445.6L381.3 1445.1L379.9 1447.8L382.2 1447.5L381.7 1449.4L383.2 1449.9L385.6 1450.4L383.7 1447.2L386.3 1447.9L385.9 1445.9L387.4 1445.6L386.8 1443.6L388.2 1443.9L390.0 1444.0L388.7 1446.7L391.1 1446.3L391.4 1447.6L394.0 1447.0L392.0 1450.3L394.6 1449.7L394.5 1451.4L394.2 1451.2L397.3 1451.4L396.5 1449.7L397.7 1449.0L396.7 1447.2L398.7 1446.9L397.5 1445.0L400.1 1445.0L398.8 1443.0L401.4 1443.0L400.1 1441.1L402.8 1441.1L401.4 1438.6L403.3 1439.0L403.9 1437.9L405.2 1437.5L404.9 1435.2L407.1 1436.0L407.1 1434.0L409.0 1434.4L408.9 1432.3L410.7 1432.7L410.6 1430.6L413.4 1431.2L411.1 1429.5L414.4 1429.1L411.6 1427.3L414.4 1426.7L412.5 1425.1L414.8 1424.4L413.9 1423.1L414.9 1422.1L414.2 1420.8L416.5 1420.1L414.5 1418.5L417.1 1417.8L415.4 1416.3L417.5 1415.6L415.7 1414.0L417.8 1413.3L416.8 1411.9L417.6 1410.9L416.4 1409.4L418.8 1408.8L416.9 1407.2L417.9 1406.2L417.2 1404.9L420.5 1404.4L417.1 1402.5L419.6 1402.8L418.9 1400.0L421.1 1401.0L421.1 1399.0L423.0 1399.6L422.5 1397.0L425.0 1398.4L424.7 1396.0L426.7 1396.8L426.1 1395.0L429.2 1395.0L426.9 1392.6L429.8 1392.5L428.2 1390.5L430.7 1390.3L429.6 1388.4L431.5 1387.9L429.4 1385.7L432.5 1385.7L431.4 1383.9L433.0 1383.3L431.7 1381.3L434.3 1381.5L433.3 1379.2L436.2 1380.0L434.3 1377.0L436.7 1377.4L435.6 1375.1L438.8 1376.1L436.7 1373.0L439.3 1373.6L439.8 1372.3L439.6 1373.9L442.0 1373.7L441.4 1375.6L443.6 1375.5L443.0 1377.4L444.2 1378.0L443.7 1379.9L446.8 1379.1L445.4 1381.6L448.2 1381.1L446.4 1383.8L447.0 1383.6L450.1 1383.7L447.5 1381.3L450.9 1381.6L449.6 1379.7L451.4 1379.2L450.5 1377.5L451.4 1376.6L450.4 1374.9L453.5 1375.0L451.7 1372.9L454.8 1373.0L452.8 1370.9L453.7 1372.3L456.2 1369.1L456.5 1372.2L458.7 1369.8L458.9 1373.3L460.0 1371.9L462.8 1372.3L461.1 1369.6L463.7 1369.9L462.4 1367.5L465.0 1367.7L465.3 1365.4L465.0 1368.1L467.2 1367.0L467.4 1369.1L470.1 1367.2L469.4 1370.6L470.8 1369.9L473.1 1370.5L472.6 1368.2L474.3 1368.1L474.5 1366.5L476.7 1366.9L475.5 1363.9L477.4 1365.9L478.6 1362.5L479.9 1364.6L481.2 1362.9L482.4 1364.4L483.2 1363.7L485.0 1363.4L484.3 1361.5L485.7 1360.9L485.9 1359.7L487.9 1359.4L487.3 1357.6L488.4 1356.9L487.5 1354.9L489.8 1354.9L490.0 1353.3L491.1 1354.1L492.7 1352.5L493.1 1356.0L495.1 1353.2L495.7 1355.8L497.3 1354.5L499.8 1356.0L497.8 1354.3L500.4 1353.7L498.6 1352.1L500.3 1351.3L499.7 1350.0L500.8 1349.0L498.3 1347.3L500.5 1346.6L499.9 1345.2L502.1 1344.5L499.4 1342.7L502.3 1342.2L500.3 1340.5L503.5 1340.1L501.9 1338.5L503.6 1337.7L502.3 1336.2L503.4 1335.3L501.9 1333.7L504.8 1333.2L501.9 1331.4L504.3 1330.7L503.5 1329.3L506.1 1329.2L504.0 1326.8L506.4 1326.7L505.2 1324.8L507.6 1324.7L506.4 1322.8L509.1 1322.8L507.1 1320.5L510.3 1320.8L507.6 1318.1L511.2 1318.6L509.1 1316.3L511.3 1316.2L510.2 1313.9L512.5 1314.1L512.8 1312.9L515.3 1313.3L513.9 1310.8L515.7 1310.7L514.7 1308.4L517.1 1308.8L516.2 1306.6L518.7 1307.0L517.0 1304.3L518.4 1305.1L520.3 1305.3L520.2 1306.9L522.5 1306.8L521.2 1309.2L523.7 1309.0L523.0 1311.0L525.8 1310.6L524.1 1313.2L525.4 1313.6L527.4 1313.6L526.3 1311.3L528.3 1311.3L527.6 1309.3L530.6 1310.0L529.6 1307.8L530.7 1307.1L530.7 1305.6L533.1 1305.8L531.6 1303.3L533.6 1303.3L533.8 1301.0L535.4 1303.2L536.3 1300.4L537.8 1302.4L538.9 1300.8L539.0 1302.6L541.7 1301.4L540.8 1304.2L544.2 1302.3L543.9 1304.5L545.7 1304.5L545.2 1306.9L547.5 1306.2L546.5 1309.2L547.5 1308.0L549.6 1308.0L549.0 1306.1L551.0 1306.1L550.7 1304.3L553.2 1304.6L551.8 1302.2L554.6 1302.7L552.6 1299.8L555.3 1300.2L554.4 1298.2L556.3 1298.0L557.2 1295.7L557.7 1299.4L559.4 1296.8L560.2 1298.9L562.0 1296.1L562.8 1298.1L564.2 1297.2L565.0 1299.3L566.5 1297.4L566.7 1299.6L569.4 1299.2L568.1 1301.6L570.8 1301.1L569.5 1303.5L571.0 1303.9L571.3 1305.2L573.6 1305.0L572.6 1307.2L574.5 1307.3L573.4 1309.6L575.2 1309.8L575.5 1311.0L577.0 1311.4L576.4 1313.3L578.7 1313.3L578.0 1315.1L580.3 1315.1L579.6 1316.9L582.0 1316.9L579.8 1319.6L582.6 1319.4L581.4 1321.5L582.6 1322.2L582.5 1323.6L584.5 1323.9L583.4 1325.9L585.7 1326.0L584.2 1328.2L587.1 1327.7L586.5 1329.8L587.7 1330.4L587.8 1331.8L590.7 1331.1L589.6 1333.5L591.6 1333.5L590.8 1335.7L593.5 1335.1L592.0 1337.9L594.7 1337.3L595.1 1339.6L595.5 1337.9L597.1 1338.0L597.8 1336.8L599.2 1336.7L599.0 1334.2L600.5 1335.2L602.3 1335.0L602.1 1337.1L604.5 1336.3L604.2 1338.6L606.3 1338.1L606.3 1339.9L607.7 1340.2L607.9 1341.9L609.3 1342.2" fill="none" stroke="#4bbb32" stroke-width="3.7" stroke-linejoin="round" stroke-linecap="round"/>
<text x="382.0" y="1271.0" font-size="25.932499999999997" fill="#000" text-anchor="middle" stroke="#000" stroke-width="0.3">Deubiquitination</text>
<text x="373.0" y="1507.0" font-size="25.83" fill="#000" stroke="#000" stroke-width="0.3">NES: -3.88</text>
<text x="373.0" y="1538.5" font-size="25.83" fill="#000" stroke="#000" stroke-width="0.3">FDR q-value &lt; 0.001</text>
<text x="125.5" y="1697.0" font-size="26.342499999999998" fill="#000" stroke="#000" stroke-width="0.3">CPT2/USP30<tspan font-size="16.4" dy="-9">H-KO</tspan></text>
<text x="623.0" y="1697.0" font-size="26.342499999999998" fill="#000" text-anchor="end" stroke="#000" stroke-width="0.3">CPT2<tspan font-size="16.4" dy="-9">H-KO</tspan></text>
<text x="126.5" y="1417.5" font-size="25.7" fill="#000" text-anchor="middle" transform="rotate(-90 126.5 1417.5)" stroke="#000" stroke-width="0.3">Enrichment score (ES)</text>
</g>
<g id="panel-d">
<rect x="846.20" y="853.00" width="24.28" height="32.70" fill="#1a1a01"/>
<rect x="869.88" y="853.00" width="24.28" height="32.70" fill="#00001a"/>
<rect x="893.56" y="853.00" width="24.28" height="32.70" fill="#00001a"/>
<rect x="917.24" y="853.00" width="24.28" height="32.70" fill="#00004c"/>
<rect x="940.93" y="853.00" width="24.28" height="32.70" fill="#000059"/>
<rect x="964.61" y="853.00" width="24.28" height="32.70" fill="#000066"/>
<rect x="988.29" y="853.00" width="24.28" height="32.70" fill="#807e04"/>
<rect x="1011.97" y="853.00" width="24.28" height="32.70" fill="#403f02"/>
<rect x="1035.65" y="853.00" width="24.28" height="32.70" fill="#000000"/>
<rect x="1059.33" y="853.00" width="24.28" height="32.70" fill="#807e04"/>
<rect x="1083.01" y="853.00" width="24.28" height="32.70" fill="#262501"/>
<rect x="1106.70" y="853.00" width="24.28" height="32.70" fill="#1a1a01"/>
<rect x="1130.38" y="853.00" width="24.28" height="32.70" fill="#595803"/>
<rect x="1154.06" y="853.00" width="24.28" height="32.70" fill="#0d0d00"/>
<rect x="1177.74" y="853.00" width="24.28" height="32.70" fill="#000026"/>
<rect x="1201.42" y="853.00" width="24.28" height="32.70" fill="#a6a405"/>
<rect x="1225.10" y="853.00" width="24.28" height="32.70" fill="#545303"/>
<rect x="1248.79" y="853.00" width="24.28" height="32.70" fill="#000000"/>
<rect x="1272.47" y="853.00" width="24.28" height="32.70" fill="#1a1a01"/>
<rect x="1296.15" y="853.00" width="24.28" height="32.70" fill="#000078"/>
<rect x="1319.83" y="853.00" width="24.28" height="32.70" fill="#000099"/>
<rect x="1343.51" y="853.00" width="24.28" height="32.70" fill="#0a0a00"/>
<rect x="1367.19" y="853.00" width="24.28" height="32.70" fill="#00006e"/>
<rect x="1390.87" y="853.00" width="24.28" height="32.70" fill="#000099"/>
<rect x="1414.56" y="853.00" width="24.28" height="32.70" fill="#4c4b02"/>
<rect x="1438.24" y="853.00" width="24.28" height="32.70" fill="#00000d"/>
<rect x="1461.92" y="853.00" width="23.68" height="32.70" fill="#000059"/>
<rect x="846.20" y="885.10" width="24.28" height="32.70" fill="#000033"/>
<rect x="869.88" y="885.10" width="24.28" height="32.70" fill="#000059"/>
<rect x="893.56" y="885.10" width="24.28" height="32.70" fill="#000059"/>
<rect x="917.24" y="885.10" width="24.28" height="32.70" fill="#000033"/>
<rect x="940.93" y="885.10" width="24.28" height="32.70" fill="#000040"/>
<rect x="964.61" y="885.10" width="24.28" height="32.70" fill="#00004c"/>
<rect x="988.29" y="885.10" width="24.28" height="32.70" fill="#4c4b02"/>
<rect x="1011.97" y="885.10" width="24.28" height="32.70" fill="#262501"/>
<rect x="1035.65" y="885.10" width="24.28" height="32.70" fill="#000000"/>
<rect x="1059.33" y="885.10" width="24.28" height="32.70" fill="#ccc906"/>
<rect x="1083.01" y="885.10" width="24.28" height="32.70" fill="#8c8a04"/>
<rect x="1106.70" y="885.10" width="24.28" height="32.70" fill="#787604"/>
<rect x="1130.38" y="885.10" width="24.28" height="32.70" fill="#1a1a01"/>
<rect x="1154.06" y="885.10" width="24.28" height="32.70" fill="#00001a"/>
<rect x="1177.74" y="885.10" width="24.28" height="32.70" fill="#000033"/>
<rect x="1201.42" y="885.10" width="24.28" height="32.70" fill="#00001a"/>
<rect x="1225.10" y="885.10" width="24.28" height="32.70" fill="#000040"/>
<rect x="1248.79" y="885.10" width="24.28" height="32.70" fill="#000078"/>
<rect x="1272.47" y="885.10" width="24.28" height="32.70" fill="#262501"/>
<rect x="1296.15" y="885.10" width="24.28" height="32.70" fill="#00004c"/>
<rect x="1319.83" y="885.10" width="24.28" height="32.70" fill="#000059"/>
<rect x="1343.51" y="885.10" width="24.28" height="32.70" fill="#999705"/>
<rect x="1367.19" y="885.10" width="24.28" height="32.70" fill="#262501"/>
<rect x="1390.87" y="885.10" width="24.28" height="32.70" fill="#000000"/>
<rect x="1414.56" y="885.10" width="24.28" height="32.70" fill="#262501"/>
<rect x="1438.24" y="885.10" width="24.28" height="32.70" fill="#00001a"/>
<rect x="1461.92" y="885.10" width="23.68" height="32.70" fill="#00004c"/>
<rect x="846.20" y="917.20" width="24.28" height="32.70" fill="#000080"/>
<rect x="869.88" y="917.20" width="24.28" height="32.70" fill="#00004c"/>
<rect x="893.56" y="917.20" width="24.28" height="32.70" fill="#000040"/>
<rect x="917.24" y="917.20" width="24.28" height="32.70" fill="#00008c"/>
<rect x="940.93" y="917.20" width="24.28" height="32.70" fill="#00004c"/>
<rect x="964.61" y="917.20" width="24.28" height="32.70" fill="#000054"/>
<rect x="988.29" y="917.20" width="24.28" height="32.70" fill="#000078"/>
<rect x="1011.97" y="917.20" width="24.28" height="32.70" fill="#000040"/>
<rect x="1035.65" y="917.20" width="24.28" height="32.70" fill="#000033"/>
<rect x="1059.33" y="917.20" width="24.28" height="32.70" fill="#1a1a01"/>
<rect x="1083.01" y="917.20" width="24.28" height="32.70" fill="#666403"/>
<rect x="1106.70" y="917.20" width="24.28" height="32.70" fill="#878504"/>
<rect x="1130.38" y="917.20" width="24.28" height="32.70" fill="#262501"/>
<rect x="1154.06" y="917.20" width="24.28" height="32.70" fill="#918f04"/>
<rect x="1177.74" y="917.20" width="24.28" height="32.70" fill="#807e04"/>
<rect x="1201.42" y="917.20" width="24.28" height="32.70" fill="#1a1a01"/>
<rect x="1225.10" y="917.20" width="24.28" height="32.70" fill="#666403"/>
<rect x="1248.79" y="917.20" width="24.28" height="32.70" fill="#666403"/>
<rect x="1272.47" y="917.20" width="24.28" height="32.70" fill="#00001a"/>
<rect x="1296.15" y="917.20" width="24.28" height="32.70" fill="#1a1a01"/>
<rect x="1319.83" y="917.20" width="24.28" height="32.70" fill="#141401"/>
<rect x="1343.51" y="917.20" width="24.28" height="32.70" fill="#000040"/>
<rect x="1367.19" y="917.20" width="24.28" height="32.70" fill="#000000"/>
<rect x="1390.87" y="917.20" width="24.28" height="32.70" fill="#00001a"/>
<rect x="1414.56" y="917.20" width="24.28" height="32.70" fill="#000026"/>
<rect x="1438.24" y="917.20" width="24.28" height="32.70" fill="#1a1a01"/>
<rect x="1461.92" y="917.20" width="23.68" height="32.70" fill="#1a1a01"/>
<rect x="846.20" y="949.30" width="24.28" height="32.70" fill="#000078"/>
<rect x="869.88" y="949.30" width="24.28" height="32.70" fill="#000078"/>
<rect x="893.56" y="949.30" width="24.28" height="32.70" fill="#000078"/>
<rect x="917.24" y="949.30" width="24.28" height="32.70" fill="#000073"/>
<rect x="940.93" y="949.30" width="24.28" height="32.70" fill="#000073"/>
<rect x="964.61" y="949.30" width="24.28" height="32.70" fill="#000073"/>
<rect x="988.29" y="949.30" width="24.28" height="32.70" fill="#000066"/>
<rect x="1011.97" y="949.30" width="24.28" height="32.70" fill="#00006e"/>
<rect x="1035.65" y="949.30" width="24.28" height="32.70" fill="#00006e"/>
<rect x="1059.33" y="949.30" width="24.28" height="32.70" fill="#858304"/>
<rect x="1083.01" y="949.30" width="24.28" height="32.70" fill="#5e5d03"/>
<rect x="1106.70" y="949.30" width="24.28" height="32.70" fill="#525102"/>
<rect x="1130.38" y="949.30" width="24.28" height="32.70" fill="#6b6903"/>
<rect x="1154.06" y="949.30" width="24.28" height="32.70" fill="#4c4b02"/>
<rect x="1177.74" y="949.30" width="24.28" height="32.70" fill="#3d3c02"/>
<rect x="1201.42" y="949.30" width="24.28" height="32.70" fill="#545303"/>
<rect x="1225.10" y="949.30" width="24.28" height="32.70" fill="#3d3c02"/>
<rect x="1248.79" y="949.30" width="24.28" height="32.70" fill="#1a1a01"/>
<rect x="1272.47" y="949.30" width="24.28" height="32.70" fill="#0f0f00"/>
<rect x="1296.15" y="949.30" width="24.28" height="32.70" fill="#00001f"/>
<rect x="1319.83" y="949.30" width="24.28" height="32.70" fill="#000024"/>
<rect x="1343.51" y="949.30" width="24.28" height="32.70" fill="#4c4b02"/>
<rect x="1367.19" y="949.30" width="24.28" height="32.70" fill="#1a1a01"/>
<rect x="1390.87" y="949.30" width="24.28" height="32.70" fill="#0d0d00"/>
<rect x="1414.56" y="949.30" width="24.28" height="32.70" fill="#2e2d01"/>
<rect x="1438.24" y="949.30" width="24.28" height="32.70" fill="#1a1a01"/>
<rect x="1461.92" y="949.30" width="23.68" height="32.70" fill="#000000"/>
<rect x="846.20" y="981.40" width="24.28" height="32.70" fill="#000073"/>
<rect x="869.88" y="981.40" width="24.28" height="32.70" fill="#00006b"/>
<rect x="893.56" y="981.40" width="24.28" height="32.70" fill="#00006b"/>
<rect x="917.24" y="981.40" width="24.28" height="32.70" fill="#000073"/>
<rect x="940.93" y="981.40" width="24.28" height="32.70" fill="#000073"/>
<rect x="964.61" y="981.40" width="24.28" height="32.70" fill="#000073"/>
<rect x="988.29" y="981.40" width="24.28" height="32.70" fill="#00006b"/>
<rect x="1011.97" y="981.40" width="24.28" height="32.70" fill="#000070"/>
<rect x="1035.65" y="981.40" width="24.28" height="32.70" fill="#000070"/>
<rect x="1059.33" y="981.40" width="24.28" height="32.70" fill="#8a8804"/>
<rect x="1083.01" y="981.40" width="24.28" height="32.70" fill="#696703"/>
<rect x="1106.70" y="981.40" width="24.28" height="32.70" fill="#4c4b02"/>
<rect x="1130.38" y="981.40" width="24.28" height="32.70" fill="#7a7804"/>
<rect x="1154.06" y="981.40" width="24.28" height="32.70" fill="#696703"/>
<rect x="1177.74" y="981.40" width="24.28" height="32.70" fill="#403f02"/>
<rect x="1201.42" y="981.40" width="24.28" height="32.70" fill="#666403"/>
<rect x="1225.10" y="981.40" width="24.28" height="32.70" fill="#403f02"/>
<rect x="1248.79" y="981.40" width="24.28" height="32.70" fill="#1a1a01"/>
<rect x="1272.47" y="981.40" width="24.28" height="32.70" fill="#2e2d01"/>
<rect x="1296.15" y="981.40" width="24.28" height="32.70" fill="#0a0a00"/>
<rect x="1319.83" y="981.40" width="24.28" height="32.70" fill="#00001a"/>
<rect x="1343.51" y="981.40" width="24.28" height="32.70" fill="#00001a"/>
<rect x="1367.19" y="981.40" width="24.28" height="32.70" fill="#000040"/>
<rect x="1390.87" y="981.40" width="24.28" height="32.70" fill="#00004c"/>
<rect x="1414.56" y="981.40" width="24.28" height="32.70" fill="#454402"/>
<rect x="1438.24" y="981.40" width="24.28" height="32.70" fill="#262501"/>
<rect x="1461.92" y="981.40" width="23.68" height="32.70" fill="#0d0d00"/>
<rect x="846.20" y="1013.50" width="24.28" height="32.70" fill="#000073"/>
<rect x="869.88" y="1013.50" width="24.28" height="32.70" fill="#000073"/>
<rect x="893.56" y="1013.50" width="24.28" height="32.70" fill="#000073"/>
<rect x="917.24" y="1013.50" width="24.28" height="32.70" fill="#000073"/>
<rect x="940.93" y="1013.50" width="24.28" height="32.70" fill="#000073"/>
<rect x="964.61" y="1013.50" width="24.28" height="32.70" fill="#000073"/>
<rect x="988.29" y="1013.50" width="24.28" height="32.70" fill="#000073"/>
<rect x="1011.97" y="1013.50" width="24.28" height="32.70" fill="#000073"/>
<rect x="1035.65" y="1013.50" width="24.28" height="32.70" fill="#000078"/>
<rect x="1059.33" y="1013.50" width="24.28" height="32.70" fill="#858304"/>
<rect x="1083.01" y="1013.50" width="24.28" height="32.70" fill="#545303"/>
<rect x="1106.70" y="1013.50" width="24.28" height="32.70" fill="#3d3c02"/>
<rect x="1130.38" y="1013.50" width="24.28" height="32.70" fill="#757304"/>
<rect x="1154.06" y="1013.50" width="24.28" height="32.70" fill="#4c4b02"/>
<rect x="1177.74" y="1013.50" width="24.28" height="32.70" fill="#242301"/>
<rect x="1201.42" y="1013.50" width="24.28" height="32.70" fill="#666403"/>
<rect x="1225.10" y="1013.50" width="24.28" height="32.70" fill="#403f02"/>
<rect x="1248.79" y="1013.50" width="24.28" height="32.70" fill="#1a1a01"/>
<rect x="1272.47" y="1013.50" width="24.28" height="32.70" fill="#1a1a01"/>
<rect x="1296.15" y="1013.50" width="24.28" height="32.70" fill="#00001a"/>
<rect x="1319.83" y="1013.50" width="24.28" height="32.70" fill="#000024"/>
<rect x="1343.51" y="1013.50" width="24.28" height="32.70" fill="#545303"/>
<rect x="1367.19" y="1013.50" width="24.28" height="32.70" fill="#0f0f00"/>
<rect x="1390.87" y="1013.50" width="24.28" height="32.70" fill="#000000"/>
<rect x="1414.56" y="1013.50" width="24.28" height="32.70" fill="#595803"/>
<rect x="1438.24" y="1013.50" width="24.28" height="32.70" fill="#292801"/>
<rect x="1461.92" y="1013.50" width="23.68" height="32.70" fill="#0d0d00"/>
<rect x="846.20" y="1045.60" width="24.28" height="32.70" fill="#000078"/>
<rect x="869.88" y="1045.60" width="24.28" height="32.70" fill="#000066"/>
<rect x="893.56" y="1045.60" width="24.28" height="32.70" fill="#000059"/>
<rect x="917.24" y="1045.60" width="24.28" height="32.70" fill="#000085"/>
<rect x="940.93" y="1045.60" width="24.28" height="32.70" fill="#000073"/>
<rect x="964.61" y="1045.60" width="24.28" height="32.70" fill="#00006e"/>
<rect x="988.29" y="1045.60" width="24.28" height="32.70" fill="#00004c"/>
<rect x="1011.97" y="1045.60" width="24.28" height="32.70" fill="#000033"/>
<rect x="1035.65" y="1045.60" width="24.28" height="32.70" fill="#000040"/>
<rect x="1059.33" y="1045.60" width="24.28" height="32.70" fill="#8f8d04"/>
<rect x="1083.01" y="1045.60" width="24.28" height="32.70" fill="#636203"/>
<rect x="1106.70" y="1045.60" width="24.28" height="32.70" fill="#636203"/>
<rect x="1130.38" y="1045.60" width="24.28" height="32.70" fill="#7a7804"/>
<rect x="1154.06" y="1045.60" width="24.28" height="32.70" fill="#292801"/>
<rect x="1177.74" y="1045.60" width="24.28" height="32.70" fill="#292801"/>
<rect x="1201.42" y="1045.60" width="24.28" height="32.70" fill="#6b6903"/>
<rect x="1225.10" y="1045.60" width="24.28" height="32.70" fill="#666403"/>
<rect x="1248.79" y="1045.60" width="24.28" height="32.70" fill="#1f1f01"/>
<rect x="1272.47" y="1045.60" width="24.28" height="32.70" fill="#1a1a01"/>
<rect x="1296.15" y="1045.60" width="24.28" height="32.70" fill="#000024"/>
<rect x="1319.83" y="1045.60" width="24.28" height="32.70" fill="#000045"/>
<rect x="1343.51" y="1045.60" width="24.28" height="32.70" fill="#333202"/>
<rect x="1367.19" y="1045.60" width="24.28" height="32.70" fill="#000000"/>
<rect x="1390.87" y="1045.60" width="24.28" height="32.70" fill="#000029"/>
<rect x="1414.56" y="1045.60" width="24.28" height="32.70" fill="#333202"/>
<rect x="1438.24" y="1045.60" width="24.28" height="32.70" fill="#292801"/>
<rect x="1461.92" y="1045.60" width="23.68" height="32.70" fill="#000033"/>
<rect x="846.20" y="1077.70" width="24.28" height="32.70" fill="#000073"/>
<rect x="869.88" y="1077.70" width="24.28" height="32.70" fill="#000073"/>
<rect x="893.56" y="1077.70" width="24.28" height="32.70" fill="#000073"/>
<rect x="917.24" y="1077.70" width="24.28" height="32.70" fill="#000078"/>
<rect x="940.93" y="1077.70" width="24.28" height="32.70" fill="#000073"/>
<rect x="964.61" y="1077.70" width="24.28" height="32.70" fill="#000078"/>
<rect x="988.29" y="1077.70" width="24.28" height="32.70" fill="#000070"/>
<rect x="1011.97" y="1077.70" width="24.28" height="32.70" fill="#000070"/>
<rect x="1035.65" y="1077.70" width="24.28" height="32.70" fill="#000070"/>
<rect x="1059.33" y="1077.70" width="24.28" height="32.70" fill="#878504"/>
<rect x="1083.01" y="1077.70" width="24.28" height="32.70" fill="#636203"/>
<rect x="1106.70" y="1077.70" width="24.28" height="32.70" fill="#696703"/>
<rect x="1130.38" y="1077.70" width="24.28" height="32.70" fill="#878504"/>
<rect x="1154.06" y="1077.70" width="24.28" height="32.70" fill="#5e5d03"/>
<rect x="1177.74" y="1077.70" width="24.28" height="32.70" fill="#636203"/>
<rect x="1201.42" y="1077.70" width="24.28" height="32.70" fill="#0d0d00"/>
<rect x="1225.10" y="1077.70" width="24.28" height="32.70" fill="#0d0d00"/>
<rect x="1248.79" y="1077.70" width="24.28" height="32.70" fill="#0d0d00"/>
<rect x="1272.47" y="1077.70" width="24.28" height="32.70" fill="#121201"/>
<rect x="1296.15" y="1077.70" width="24.28" height="32.70" fill="#000000"/>
<rect x="1319.83" y="1077.70" width="24.28" height="32.70" fill="#000008"/>
<rect x="1343.51" y="1077.70" width="24.28" height="32.70" fill="#242301"/>
<rect x="1367.19" y="1077.70" width="24.28" height="32.70" fill="#0a0a00"/>
<rect x="1390.87" y="1077.70" width="24.28" height="32.70" fill="#0a0a00"/>
<rect x="1414.56" y="1077.70" width="24.28" height="32.70" fill="#454402"/>
<rect x="1438.24" y="1077.70" width="24.28" height="32.70" fill="#242301"/>
<rect x="1461.92" y="1077.70" width="23.68" height="32.70" fill="#1f1f01"/>
<rect x="846.20" y="1109.80" width="24.28" height="32.70" fill="#000078"/>
<rect x="869.88" y="1109.80" width="24.28" height="32.70" fill="#00001f"/>
<rect x="893.56" y="1109.80" width="24.28" height="32.70" fill="#00001a"/>
<rect x="917.24" y="1109.80" width="24.28" height="32.70" fill="#000078"/>
<rect x="940.93" y="1109.80" width="24.28" height="32.70" fill="#000054"/>
<rect x="964.61" y="1109.80" width="24.28" height="32.70" fill="#000045"/>
<rect x="988.29" y="1109.80" width="24.28" height="32.70" fill="#00006b"/>
<rect x="1011.97" y="1109.80" width="24.28" height="32.70" fill="#000040"/>
<rect x="1035.65" y="1109.80" width="24.28" height="32.70" fill="#000040"/>
<rect x="1059.33" y="1109.80" width="24.28" height="32.70" fill="#595803"/>
<rect x="1083.01" y="1109.80" width="24.28" height="32.70" fill="#878504"/>
<rect x="1106.70" y="1109.80" width="24.28" height="32.70" fill="#969404"/>
<rect x="1130.38" y="1109.80" width="24.28" height="32.70" fill="#5e5d03"/>
<rect x="1154.06" y="1109.80" width="24.28" height="32.70" fill="#8c8a04"/>
<rect x="1177.74" y="1109.80" width="24.28" height="32.70" fill="#969404"/>
<rect x="1201.42" y="1109.80" width="24.28" height="32.70" fill="#242301"/>
<rect x="1225.10" y="1109.80" width="24.28" height="32.70" fill="#4f4e02"/>
<rect x="1248.79" y="1109.80" width="24.28" height="32.70" fill="#292801"/>
<rect x="1272.47" y="1109.80" width="24.28" height="32.70" fill="#000033"/>
<rect x="1296.15" y="1109.80" width="24.28" height="32.70" fill="#000024"/>
<rect x="1319.83" y="1109.80" width="24.28" height="32.70" fill="#00002e"/>
<rect x="1343.51" y="1109.80" width="24.28" height="32.70" fill="#000040"/>
<rect x="1367.19" y="1109.80" width="24.28" height="32.70" fill="#000029"/>
<rect x="1390.87" y="1109.80" width="24.28" height="32.70" fill="#00002e"/>
<rect x="1414.56" y="1109.80" width="24.28" height="32.70" fill="#00004c"/>
<rect x="1438.24" y="1109.80" width="24.28" height="32.70" fill="#000024"/>
<rect x="1461.92" y="1109.80" width="23.68" height="32.70" fill="#000024"/>
<rect x="846.20" y="1141.90" width="24.28" height="32.70" fill="#00004c"/>
<rect x="869.88" y="1141.90" width="24.28" height="32.70" fill="#000059"/>
<rect x="893.56" y="1141.90" width="24.28" height="32.70" fill="#000059"/>
<rect x="917.24" y="1141.90" width="24.28" height="32.70" fill="#000045"/>
<rect x="940.93" y="1141.90" width="24.28" height="32.70" fill="#000054"/>
<rect x="964.61" y="1141.90" width="24.28" height="32.70" fill="#000059"/>
<rect x="988.29" y="1141.90" width="24.28" height="32.70" fill="#000054"/>
<rect x="1011.97" y="1141.90" width="24.28" height="32.70" fill="#00005e"/>
<rect x="1035.65" y="1141.90" width="24.28" height="32.70" fill="#00005e"/>
<rect x="1059.33" y="1141.90" width="24.28" height="32.70" fill="#00002e"/>
<rect x="1083.01" y="1141.90" width="24.28" height="32.70" fill="#000024"/>
<rect x="1106.70" y="1141.90" width="24.28" height="32.70" fill="#000024"/>
<rect x="1130.38" y="1141.90" width="24.28" height="32.70" fill="#7d7b04"/>
<rect x="1154.06" y="1141.90" width="24.28" height="32.70" fill="#636203"/>
<rect x="1177.74" y="1141.90" width="24.28" height="32.70" fill="#595803"/>
<rect x="1201.42" y="1141.90" width="24.28" height="32.70" fill="#e0dd07"/>
<rect x="1225.10" y="1141.90" width="24.28" height="32.70" fill="#918f04"/>
<rect x="1248.79" y="1141.90" width="24.28" height="32.70" fill="#7d7b04"/>
<rect x="1272.47" y="1141.90" width="24.28" height="32.70" fill="#000000"/>
<rect x="1296.15" y="1141.90" width="24.28" height="32.70" fill="#000029"/>
<rect x="1319.83" y="1141.90" width="24.28" height="32.70" fill="#000024"/>
<rect x="1343.51" y="1141.90" width="24.28" height="32.70" fill="#000029"/>
<rect x="1367.19" y="1141.90" width="24.28" height="32.70" fill="#00002e"/>
<rect x="1390.87" y="1141.90" width="24.28" height="32.70" fill="#00002e"/>
<rect x="1414.56" y="1141.90" width="24.28" height="32.70" fill="#050500"/>
<rect x="1438.24" y="1141.90" width="24.28" height="32.70" fill="#141401"/>
<rect x="1461.92" y="1141.90" width="23.68" height="32.70" fill="#0f0f00"/>
<rect x="846.20" y="1174.00" width="24.28" height="32.70" fill="#000080"/>
<rect x="869.88" y="1174.00" width="24.28" height="32.70" fill="#000066"/>
<rect x="893.56" y="1174.00" width="24.28" height="32.70" fill="#00005e"/>
<rect x="917.24" y="1174.00" width="24.28" height="32.70" fill="#000099"/>
<rect x="940.93" y="1174.00" width="24.28" height="32.70" fill="#000078"/>
<rect x="964.61" y="1174.00" width="24.28" height="32.70" fill="#000073"/>
<rect x="988.29" y="1174.00" width="24.28" height="32.70" fill="#000087"/>
<rect x="1011.97" y="1174.00" width="24.28" height="32.70" fill="#000078"/>
<rect x="1035.65" y="1174.00" width="24.28" height="32.70" fill="#00006b"/>
<rect x="1059.33" y="1174.00" width="24.28" height="32.70" fill="#0a0a00"/>
<rect x="1083.01" y="1174.00" width="24.28" height="32.70" fill="#363502"/>
<rect x="1106.70" y="1174.00" width="24.28" height="32.70" fill="#363502"/>
<rect x="1130.38" y="1174.00" width="24.28" height="32.70" fill="#080800"/>
<rect x="1154.06" y="1174.00" width="24.28" height="32.70" fill="#333202"/>
<rect x="1177.74" y="1174.00" width="24.28" height="32.70" fill="#3b3a02"/>
<rect x="1201.42" y="1174.00" width="24.28" height="32.70" fill="#5e5d03"/>
<rect x="1225.10" y="1174.00" width="24.28" height="32.70" fill="#828004"/>
<rect x="1248.79" y="1174.00" width="24.28" height="32.70" fill="#4a4902"/>
<rect x="1272.47" y="1174.00" width="24.28" height="32.70" fill="#000000"/>
<rect x="1296.15" y="1174.00" width="24.28" height="32.70" fill="#1a1a01"/>
<rect x="1319.83" y="1174.00" width="24.28" height="32.70" fill="#0d0d00"/>
<rect x="1343.51" y="1174.00" width="24.28" height="32.70" fill="#050500"/>
<rect x="1367.19" y="1174.00" width="24.28" height="32.70" fill="#1f1f01"/>
<rect x="1390.87" y="1174.00" width="24.28" height="32.70" fill="#000000"/>
<rect x="1414.56" y="1174.00" width="24.28" height="32.70" fill="#787604"/>
<rect x="1438.24" y="1174.00" width="24.28" height="32.70" fill="#787604"/>
<rect x="1461.92" y="1174.00" width="23.68" height="32.70" fill="#737103"/>
<rect x="846.20" y="1206.10" width="24.28" height="32.70" fill="#000033"/>
<rect x="869.88" y="1206.10" width="24.28" height="32.70" fill="#00001a"/>
<rect x="893.56" y="1206.10" width="24.28" height="32.70" fill="#000024"/>
<rect x="917.24" y="1206.10" width="24.28" height="32.70" fill="#121201"/>
<rect x="940.93" y="1206.10" width="24.28" height="32.70" fill="#00001f"/>
<rect x="964.61" y="1206.10" width="24.28" height="32.70" fill="#00004c"/>
<rect x="988.29" y="1206.10" width="24.28" height="32.70" fill="#333202"/>
<rect x="1011.97" y="1206.10" width="24.28" height="32.70" fill="#00001f"/>
<rect x="1035.65" y="1206.10" width="24.28" height="32.70" fill="#000014"/>
<rect x="1059.33" y="1206.10" width="24.28" height="32.70" fill="#8c8a04"/>
<rect x="1083.01" y="1206.10" width="24.28" height="32.70" fill="#696703"/>
<rect x="1106.70" y="1206.10" width="24.28" height="32.70" fill="#333202"/>
<rect x="1130.38" y="1206.10" width="24.28" height="32.70" fill="#ebe707"/>
<rect x="1154.06" y="1206.10" width="24.28" height="32.70" fill="#242301"/>
<rect x="1177.74" y="1206.10" width="24.28" height="32.70" fill="#000000"/>
<rect x="1201.42" y="1206.10" width="24.28" height="32.70" fill="#0d0d00"/>
<rect x="1225.10" y="1206.10" width="24.28" height="32.70" fill="#000045"/>
<rect x="1248.79" y="1206.10" width="24.28" height="32.70" fill="#00006e"/>
<rect x="1272.47" y="1206.10" width="24.28" height="32.70" fill="#403f02"/>
<rect x="1296.15" y="1206.10" width="24.28" height="32.70" fill="#000059"/>
<rect x="1319.83" y="1206.10" width="24.28" height="32.70" fill="#000073"/>
<rect x="1343.51" y="1206.10" width="24.28" height="32.70" fill="#878504"/>
<rect x="1367.19" y="1206.10" width="24.28" height="32.70" fill="#000024"/>
<rect x="1390.87" y="1206.10" width="24.28" height="32.70" fill="#00005e"/>
<rect x="1414.56" y="1206.10" width="24.28" height="32.70" fill="#000014"/>
<rect x="1438.24" y="1206.10" width="24.28" height="32.70" fill="#000045"/>
<rect x="1461.92" y="1206.10" width="23.68" height="32.70" fill="#000096"/>
<rect x="846.20" y="1238.20" width="24.28" height="32.70" fill="#000045"/>
<rect x="869.88" y="1238.20" width="24.28" height="32.70" fill="#00002e"/>
<rect x="893.56" y="1238.20" width="24.28" height="32.70" fill="#000029"/>
<rect x="917.24" y="1238.20" width="24.28" height="32.70" fill="#000029"/>
<rect x="940.93" y="1238.20" width="24.28" height="32.70" fill="#050500"/>
<rect x="964.61" y="1238.20" width="24.28" height="32.70" fill="#141401"/>
<rect x="988.29" y="1238.20" width="24.28" height="32.70" fill="#000040"/>
<rect x="1011.97" y="1238.20" width="24.28" height="32.70" fill="#00001a"/>
<rect x="1035.65" y="1238.20" width="24.28" height="32.70" fill="#050500"/>
<rect x="1059.33" y="1238.20" width="24.28" height="32.70" fill="#141401"/>
<rect x="1083.01" y="1238.20" width="24.28" height="32.70" fill="#333202"/>
<rect x="1106.70" y="1238.20" width="24.28" height="32.70" fill="#2e2d01"/>
<rect x="1130.38" y="1238.20" width="24.28" height="32.70" fill="#f0ec07"/>
<rect x="1154.06" y="1238.20" width="24.28" height="32.70" fill="#ccc906"/>
<rect x="1177.74" y="1238.20" width="24.28" height="32.70" fill="#918f04"/>
<rect x="1201.42" y="1238.20" width="24.28" height="32.70" fill="#00004f"/>
<rect x="1225.10" y="1238.20" width="24.28" height="32.70" fill="#00002e"/>
<rect x="1248.79" y="1238.20" width="24.28" height="32.70" fill="#000024"/>
<rect x="1272.47" y="1238.20" width="24.28" height="32.70" fill="#0d0d00"/>
<rect x="1296.15" y="1238.20" width="24.28" height="32.70" fill="#080800"/>
<rect x="1319.83" y="1238.20" width="24.28" height="32.70" fill="#333202"/>
<rect x="1343.51" y="1238.20" width="24.28" height="32.70" fill="#000054"/>
<rect x="1367.19" y="1238.20" width="24.28" height="32.70" fill="#000059"/>
<rect x="1390.87" y="1238.20" width="24.28" height="32.70" fill="#000059"/>
<rect x="1414.56" y="1238.20" width="24.28" height="32.70" fill="#000059"/>
<rect x="1438.24" y="1238.20" width="24.28" height="32.70" fill="#000059"/>
<rect x="1461.92" y="1238.20" width="23.68" height="32.70" fill="#000059"/>
<rect x="846.20" y="1270.30" width="24.28" height="32.70" fill="#000059"/>
<rect x="869.88" y="1270.30" width="24.28" height="32.70" fill="#000014"/>
<rect x="893.56" y="1270.30" width="24.28" height="32.70" fill="#bab706"/>
<rect x="917.24" y="1270.30" width="24.28" height="32.70" fill="#7d7b04"/>
<rect x="940.93" y="1270.30" width="24.28" height="32.70" fill="#000066"/>
<rect x="964.61" y="1270.30" width="24.28" height="32.70" fill="#00001a"/>
<rect x="988.29" y="1270.30" width="24.28" height="32.70" fill="#969404"/>
<rect x="1011.97" y="1270.30" width="24.28" height="32.70" fill="#828004"/>
<rect x="1035.65" y="1270.30" width="24.28" height="32.70" fill="#454402"/>
<rect x="1059.33" y="1270.30" width="24.28" height="32.70" fill="#000014"/>
<rect x="1083.01" y="1270.30" width="24.28" height="32.70" fill="#333202"/>
<rect x="1106.70" y="1270.30" width="24.28" height="32.70" fill="#000033"/>
<rect x="1130.38" y="1270.30" width="24.28" height="32.70" fill="#00006e"/>
<rect x="1154.06" y="1270.30" width="24.28" height="32.70" fill="#000073"/>
<rect x="1177.74" y="1270.30" width="24.28" height="32.70" fill="#000073"/>
<rect x="1201.42" y="1270.30" width="24.28" height="32.70" fill="#000000"/>
<rect x="1225.10" y="1270.30" width="24.28" height="32.70" fill="#0d0d00"/>
<rect x="1248.79" y="1270.30" width="24.28" height="32.70" fill="#00000d"/>
<rect x="1272.47" y="1270.30" width="24.28" height="32.70" fill="#545303"/>
<rect x="1296.15" y="1270.30" width="24.28" height="32.70" fill="#000029"/>
<rect x="1319.83" y="1270.30" width="24.28" height="32.70" fill="#00005e"/>
<rect x="1343.51" y="1270.30" width="24.28" height="32.70" fill="#6e6c03"/>
<rect x="1367.19" y="1270.30" width="24.28" height="32.70" fill="#000000"/>
<rect x="1390.87" y="1270.30" width="24.28" height="32.70" fill="#000063"/>
<rect x="1414.56" y="1270.30" width="24.28" height="32.70" fill="#00001a"/>
<rect x="1438.24" y="1270.30" width="24.28" height="32.70" fill="#000069"/>
<rect x="1461.92" y="1270.30" width="23.68" height="32.70" fill="#00006e"/>
<rect x="846.20" y="1302.40" width="24.28" height="32.70" fill="#242301"/>
<rect x="869.88" y="1302.40" width="24.28" height="32.70" fill="#595803"/>
<rect x="893.56" y="1302.40" width="24.28" height="32.70" fill="#696703"/>
<rect x="917.24" y="1302.40" width="24.28" height="32.70" fill="#242301"/>
<rect x="940.93" y="1302.40" width="24.28" height="32.70" fill="#a3a105"/>
<rect x="964.61" y="1302.40" width="24.28" height="32.70" fill="#fffb08"/>
<rect x="988.29" y="1302.40" width="24.28" height="32.70" fill="#333202"/>
<rect x="1011.97" y="1302.40" width="24.28" height="32.70" fill="#00001a"/>
<rect x="1035.65" y="1302.40" width="24.28" height="32.70" fill="#000008"/>
<rect x="1059.33" y="1302.40" width="24.28" height="32.70" fill="#0a0a00"/>
<rect x="1083.01" y="1302.40" width="24.28" height="32.70" fill="#000033"/>
<rect x="1106.70" y="1302.40" width="24.28" height="32.70" fill="#000063"/>
<rect x="1130.38" y="1302.40" width="24.28" height="32.70" fill="#0d0d00"/>
<rect x="1154.06" y="1302.40" width="24.28" height="32.70" fill="#000040"/>
<rect x="1177.74" y="1302.40" width="24.28" height="32.70" fill="#00003b"/>
<rect x="1201.42" y="1302.40" width="24.28" height="32.70" fill="#000000"/>
<rect x="1225.10" y="1302.40" width="24.28" height="32.70" fill="#00004a"/>
<rect x="1248.79" y="1302.40" width="24.28" height="32.70" fill="#000059"/>
<rect x="1272.47" y="1302.40" width="24.28" height="32.70" fill="#000000"/>
<rect x="1296.15" y="1302.40" width="24.28" height="32.70" fill="#000063"/>
<rect x="1319.83" y="1302.40" width="24.28" height="32.70" fill="#000069"/>
<rect x="1343.51" y="1302.40" width="24.28" height="32.70" fill="#1a1a01"/>
<rect x="1367.19" y="1302.40" width="24.28" height="32.70" fill="#000033"/>
<rect x="1390.87" y="1302.40" width="24.28" height="32.70" fill="#00004a"/>
<rect x="1414.56" y="1302.40" width="24.28" height="32.70" fill="#000014"/>
<rect x="1438.24" y="1302.40" width="24.28" height="32.70" fill="#000036"/>
<rect x="1461.92" y="1302.40" width="23.68" height="32.70" fill="#00002e"/>
<rect x="846.20" y="1334.50" width="24.28" height="32.70" fill="#00006e"/>
<rect x="869.88" y="1334.50" width="24.28" height="32.70" fill="#050500"/>
<rect x="893.56" y="1334.50" width="24.28" height="32.70" fill="#000000"/>
<rect x="917.24" y="1334.50" width="24.28" height="32.70" fill="#0000a6"/>
<rect x="940.93" y="1334.50" width="24.28" height="32.70" fill="#000073"/>
<rect x="964.61" y="1334.50" width="24.28" height="32.70" fill="#00006e"/>
<rect x="988.29" y="1334.50" width="24.28" height="32.70" fill="#000078"/>
<rect x="1011.97" y="1334.50" width="24.28" height="32.70" fill="#000033"/>
<rect x="1035.65" y="1334.50" width="24.28" height="32.70" fill="#00002e"/>
<rect x="1059.33" y="1334.50" width="24.28" height="32.70" fill="#3b3a02"/>
<rect x="1083.01" y="1334.50" width="24.28" height="32.70" fill="#828004"/>
<rect x="1106.70" y="1334.50" width="24.28" height="32.70" fill="#828004"/>
<rect x="1130.38" y="1334.50" width="24.28" height="32.70" fill="#545303"/>
<rect x="1154.06" y="1334.50" width="24.28" height="32.70" fill="#7d7b04"/>
<rect x="1177.74" y="1334.50" width="24.28" height="32.70" fill="#828004"/>
<rect x="1201.42" y="1334.50" width="24.28" height="32.70" fill="#3b3a02"/>
<rect x="1225.10" y="1334.50" width="24.28" height="32.70" fill="#636203"/>
<rect x="1248.79" y="1334.50" width="24.28" height="32.70" fill="#4f4e02"/>
<rect x="1272.47" y="1334.50" width="24.28" height="32.70" fill="#00003b"/>
<rect x="1296.15" y="1334.50" width="24.28" height="32.70" fill="#000024"/>
<rect x="1319.83" y="1334.50" width="24.28" height="32.70" fill="#000029"/>
<rect x="1343.51" y="1334.50" width="24.28" height="32.70" fill="#000029"/>
<rect x="1367.19" y="1334.50" width="24.28" height="32.70" fill="#000014"/>
<rect x="1390.87" y="1334.50" width="24.28" height="32.70" fill="#000014"/>
<rect x="1414.56" y="1334.50" width="24.28" height="32.70" fill="#000040"/>
<rect x="1438.24" y="1334.50" width="24.28" height="32.70" fill="#000014"/>
<rect x="1461.92" y="1334.50" width="23.68" height="32.70" fill="#000024"/>
<rect x="846.20" y="1366.60" width="24.28" height="32.70" fill="#00006e"/>
<rect x="869.88" y="1366.60" width="24.28" height="32.70" fill="#000045"/>
<rect x="893.56" y="1366.60" width="24.28" height="32.70" fill="#00003b"/>
<rect x="917.24" y="1366.60" width="24.28" height="32.70" fill="#000078"/>
<rect x="940.93" y="1366.60" width="24.28" height="32.70" fill="#00005e"/>
<rect x="964.61" y="1366.60" width="24.28" height="32.70" fill="#00005e"/>
<rect x="988.29" y="1366.60" width="24.28" height="32.70" fill="#000063"/>
<rect x="1011.97" y="1366.60" width="24.28" height="32.70" fill="#000029"/>
<rect x="1035.65" y="1366.60" width="24.28" height="32.70" fill="#000024"/>
<rect x="1059.33" y="1366.60" width="24.28" height="32.70" fill="#545303"/>
<rect x="1083.01" y="1366.60" width="24.28" height="32.70" fill="#8c8a04"/>
<rect x="1106.70" y="1366.60" width="24.28" height="32.70" fill="#c2bf06"/>
<rect x="1130.38" y="1366.60" width="24.28" height="32.70" fill="#403f02"/>
<rect x="1154.06" y="1366.60" width="24.28" height="32.70" fill="#969404"/>
<rect x="1177.74" y="1366.60" width="24.28" height="32.70" fill="#aba805"/>
<rect x="1201.42" y="1366.60" width="24.28" height="32.70" fill="#00003b"/>
<rect x="1225.10" y="1366.60" width="24.28" height="32.70" fill="#000024"/>
<rect x="1248.79" y="1366.60" width="24.28" height="32.70" fill="#00001f"/>
<rect x="1272.47" y="1366.60" width="24.28" height="32.70" fill="#000029"/>
<rect x="1296.15" y="1366.60" width="24.28" height="32.70" fill="#00001a"/>
<rect x="1319.83" y="1366.60" width="24.28" height="32.70" fill="#00000d"/>
<rect x="1343.51" y="1366.60" width="24.28" height="32.70" fill="#000024"/>
<rect x="1367.19" y="1366.60" width="24.28" height="32.70" fill="#00001a"/>
<rect x="1390.87" y="1366.60" width="24.28" height="32.70" fill="#00001a"/>
<rect x="1414.56" y="1366.60" width="24.28" height="32.70" fill="#00001f"/>
<rect x="1438.24" y="1366.60" width="24.28" height="32.70" fill="#000008"/>
<rect x="1461.92" y="1366.60" width="23.68" height="32.70" fill="#141401"/>
<rect x="846.20" y="1398.70" width="24.28" height="32.70" fill="#000099"/>
<rect x="869.88" y="1398.70" width="24.28" height="32.70" fill="#00006e"/>
<rect x="893.56" y="1398.70" width="24.28" height="32.70" fill="#00005e"/>
<rect x="917.24" y="1398.70" width="24.28" height="32.70" fill="#00008c"/>
<rect x="940.93" y="1398.70" width="24.28" height="32.70" fill="#000069"/>
<rect x="964.61" y="1398.70" width="24.28" height="32.70" fill="#00005e"/>
<rect x="988.29" y="1398.70" width="24.28" height="32.70" fill="#00007d"/>
<rect x="1011.97" y="1398.70" width="24.28" height="32.70" fill="#000029"/>
<rect x="1035.65" y="1398.70" width="24.28" height="32.70" fill="#000024"/>
<rect x="1059.33" y="1398.70" width="24.28" height="32.70" fill="#242301"/>
<rect x="1083.01" y="1398.70" width="24.28" height="32.70" fill="#6e6c03"/>
<rect x="1106.70" y="1398.70" width="24.28" height="32.70" fill="#878504"/>
<rect x="1130.38" y="1398.70" width="24.28" height="32.70" fill="#242301"/>
<rect x="1154.06" y="1398.70" width="24.28" height="32.70" fill="#545303"/>
<rect x="1177.74" y="1398.70" width="24.28" height="32.70" fill="#9c9a05"/>
<rect x="1201.42" y="1398.70" width="24.28" height="32.70" fill="#000000"/>
<rect x="1225.10" y="1398.70" width="24.28" height="32.70" fill="#5e5d03"/>
<rect x="1248.79" y="1398.70" width="24.28" height="32.70" fill="#454402"/>
<rect x="1272.47" y="1398.70" width="24.28" height="32.70" fill="#1c1c01"/>
<rect x="1296.15" y="1398.70" width="24.28" height="32.70" fill="#595803"/>
<rect x="1319.83" y="1398.70" width="24.28" height="32.70" fill="#333202"/>
<rect x="1343.51" y="1398.70" width="24.28" height="32.70" fill="#000038"/>
<rect x="1367.19" y="1398.70" width="24.28" height="32.70" fill="#00001f"/>
<rect x="1390.87" y="1398.70" width="24.28" height="32.70" fill="#000014"/>
<rect x="1414.56" y="1398.70" width="24.28" height="32.70" fill="#00001f"/>
<rect x="1438.24" y="1398.70" width="24.28" height="32.70" fill="#1f1f01"/>
<rect x="1461.92" y="1398.70" width="23.68" height="32.70" fill="#0f0f00"/>
<rect x="846.20" y="1430.80" width="24.28" height="32.10" fill="#000078"/>
<rect x="869.88" y="1430.80" width="24.28" height="32.10" fill="#000078"/>
<rect x="893.56" y="1430.80" width="24.28" height="32.10" fill="#000078"/>
<rect x="917.24" y="1430.80" width="24.28" height="32.10" fill="#00007d"/>
<rect x="940.93" y="1430.80" width="24.28" height="32.10" fill="#00007d"/>
<rect x="964.61" y="1430.80" width="24.28" height="32.10" fill="#00007d"/>
<rect x="988.29" y="1430.80" width="24.28" height="32.10" fill="#000024"/>
<rect x="1011.97" y="1430.80" width="24.28" height="32.10" fill="#000029"/>
<rect x="1035.65" y="1430.80" width="24.28" height="32.10" fill="#000045"/>
<rect x="1059.33" y="1430.80" width="24.28" height="32.10" fill="#292801"/>
<rect x="1083.01" y="1430.80" width="24.28" height="32.10" fill="#0f0f00"/>
<rect x="1106.70" y="1430.80" width="24.28" height="32.10" fill="#0f0f00"/>
<rect x="1130.38" y="1430.80" width="24.28" height="32.10" fill="#787604"/>
<rect x="1154.06" y="1430.80" width="24.28" height="32.10" fill="#696703"/>
<rect x="1177.74" y="1430.80" width="24.28" height="32.10" fill="#454402"/>
<rect x="1201.42" y="1430.80" width="24.28" height="32.10" fill="#636203"/>
<rect x="1225.10" y="1430.80" width="24.28" height="32.10" fill="#3b3a02"/>
<rect x="1248.79" y="1430.80" width="24.28" height="32.10" fill="#0f0f00"/>
<rect x="1272.47" y="1430.80" width="24.28" height="32.10" fill="#292801"/>
<rect x="1296.15" y="1430.80" width="24.28" height="32.10" fill="#00001a"/>
<rect x="1319.83" y="1430.80" width="24.28" height="32.10" fill="#000024"/>
<rect x="1343.51" y="1430.80" width="24.28" height="32.10" fill="#00001a"/>
<rect x="1367.19" y="1430.80" width="24.28" height="32.10" fill="#00003b"/>
<rect x="1390.87" y="1430.80" width="24.28" height="32.10" fill="#000045"/>
<rect x="1414.56" y="1430.80" width="24.28" height="32.10" fill="#a6a405"/>
<rect x="1438.24" y="1430.80" width="24.28" height="32.10" fill="#8c8a04"/>
<rect x="1461.92" y="1430.80" width="23.68" height="32.10" fill="#595803"/>
<rect x="846.20" y="1469.80" width="24.28" height="32.57" fill="#000078"/>
<rect x="869.88" y="1469.80" width="24.28" height="32.57" fill="#000073"/>
<rect x="893.56" y="1469.80" width="24.28" height="32.57" fill="#000073"/>
<rect x="917.24" y="1469.80" width="24.28" height="32.57" fill="#00003b"/>
<rect x="940.93" y="1469.80" width="24.28" height="32.57" fill="#00003b"/>
<rect x="964.61" y="1469.80" width="24.28" height="32.57" fill="#00003b"/>
<rect x="988.29" y="1469.80" width="24.28" height="32.57" fill="#000059"/>
<rect x="1011.97" y="1469.80" width="24.28" height="32.57" fill="#00006e"/>
<rect x="1035.65" y="1469.80" width="24.28" height="32.57" fill="#000073"/>
<rect x="1059.33" y="1469.80" width="24.28" height="32.57" fill="#4f4e02"/>
<rect x="1083.01" y="1469.80" width="24.28" height="32.57" fill="#6e6c03"/>
<rect x="1106.70" y="1469.80" width="24.28" height="32.57" fill="#6e6c03"/>
<rect x="1130.38" y="1469.80" width="24.28" height="32.57" fill="#a6a405"/>
<rect x="1154.06" y="1469.80" width="24.28" height="32.57" fill="#bfbc06"/>
<rect x="1177.74" y="1469.80" width="24.28" height="32.57" fill="#a19f05"/>
<rect x="1201.42" y="1469.80" width="24.28" height="32.57" fill="#000038"/>
<rect x="1225.10" y="1469.80" width="24.28" height="32.57" fill="#000014"/>
<rect x="1248.79" y="1469.80" width="24.28" height="32.57" fill="#000014"/>
<rect x="1272.47" y="1469.80" width="24.28" height="32.57" fill="#828004"/>
<rect x="1296.15" y="1469.80" width="24.28" height="32.57" fill="#7d7b04"/>
<rect x="1319.83" y="1469.80" width="24.28" height="32.57" fill="#545303"/>
<rect x="1343.51" y="1469.80" width="24.28" height="32.57" fill="#0a0a00"/>
<rect x="1367.19" y="1469.80" width="24.28" height="32.57" fill="#000005"/>
<rect x="1390.87" y="1469.80" width="24.28" height="32.57" fill="#00000a"/>
<rect x="1414.56" y="1469.80" width="24.28" height="32.57" fill="#000069"/>
<rect x="1438.24" y="1469.80" width="24.28" height="32.57" fill="#00006e"/>
<rect x="1461.92" y="1469.80" width="23.68" height="32.57" fill="#000073"/>
<rect x="846.20" y="1501.77" width="24.28" height="32.57" fill="#0d0d00"/>
<rect x="869.88" y="1501.77" width="24.28" height="32.57" fill="#737103"/>
<rect x="893.56" y="1501.77" width="24.28" height="32.57" fill="#696703"/>
<rect x="917.24" y="1501.77" width="24.28" height="32.57" fill="#000059"/>
<rect x="940.93" y="1501.77" width="24.28" height="32.57" fill="#242301"/>
<rect x="964.61" y="1501.77" width="24.28" height="32.57" fill="#141401"/>
<rect x="988.29" y="1501.77" width="24.28" height="32.57" fill="#00000f"/>
<rect x="1011.97" y="1501.77" width="24.28" height="32.57" fill="#1a1a01"/>
<rect x="1035.65" y="1501.77" width="24.28" height="32.57" fill="#0a0a00"/>
<rect x="1059.33" y="1501.77" width="24.28" height="32.57" fill="#00001f"/>
<rect x="1083.01" y="1501.77" width="24.28" height="32.57" fill="#000000"/>
<rect x="1106.70" y="1501.77" width="24.28" height="32.57" fill="#000000"/>
<rect x="1130.38" y="1501.77" width="24.28" height="32.57" fill="#969404"/>
<rect x="1154.06" y="1501.77" width="24.28" height="32.57" fill="#c2bf06"/>
<rect x="1177.74" y="1501.77" width="24.28" height="32.57" fill="#aba805"/>
<rect x="1201.42" y="1501.77" width="24.28" height="32.57" fill="#545303"/>
<rect x="1225.10" y="1501.77" width="24.28" height="32.57" fill="#7d7b04"/>
<rect x="1248.79" y="1501.77" width="24.28" height="32.57" fill="#454402"/>
<rect x="1272.47" y="1501.77" width="24.28" height="32.57" fill="#000063"/>
<rect x="1296.15" y="1501.77" width="24.28" height="32.57" fill="#000063"/>
<rect x="1319.83" y="1501.77" width="24.28" height="32.57" fill="#000096"/>
<rect x="1343.51" y="1501.77" width="24.28" height="32.57" fill="#000059"/>
<rect x="1367.19" y="1501.77" width="24.28" height="32.57" fill="#00005e"/>
<rect x="1390.87" y="1501.77" width="24.28" height="32.57" fill="#00006e"/>
<rect x="1414.56" y="1501.77" width="24.28" height="32.57" fill="#0000a6"/>
<rect x="1438.24" y="1501.77" width="24.28" height="32.57" fill="#0000a1"/>
<rect x="1461.92" y="1501.77" width="23.68" height="32.57" fill="#0000b2"/>
<rect x="846.20" y="1533.74" width="24.28" height="32.57" fill="#000078"/>
<rect x="869.88" y="1533.74" width="24.28" height="32.57" fill="#000078"/>
<rect x="893.56" y="1533.74" width="24.28" height="32.57" fill="#000078"/>
<rect x="917.24" y="1533.74" width="24.28" height="32.57" fill="#000073"/>
<rect x="940.93" y="1533.74" width="24.28" height="32.57" fill="#000073"/>
<rect x="964.61" y="1533.74" width="24.28" height="32.57" fill="#000073"/>
<rect x="988.29" y="1533.74" width="24.28" height="32.57" fill="#000082"/>
<rect x="1011.97" y="1533.74" width="24.28" height="32.57" fill="#000073"/>
<rect x="1035.65" y="1533.74" width="24.28" height="32.57" fill="#000073"/>
<rect x="1059.33" y="1533.74" width="24.28" height="32.57" fill="#878504"/>
<rect x="1083.01" y="1533.74" width="24.28" height="32.57" fill="#636203"/>
<rect x="1106.70" y="1533.74" width="24.28" height="32.57" fill="#454402"/>
<rect x="1130.38" y="1533.74" width="24.28" height="32.57" fill="#7d7b04"/>
<rect x="1154.06" y="1533.74" width="24.28" height="32.57" fill="#828004"/>
<rect x="1177.74" y="1533.74" width="24.28" height="32.57" fill="#969404"/>
<rect x="1201.42" y="1533.74" width="24.28" height="32.57" fill="#706e03"/>
<rect x="1225.10" y="1533.74" width="24.28" height="32.57" fill="#878504"/>
<rect x="1248.79" y="1533.74" width="24.28" height="32.57" fill="#4a4902"/>
<rect x="1272.47" y="1533.74" width="24.28" height="32.57" fill="#242301"/>
<rect x="1296.15" y="1533.74" width="24.28" height="32.57" fill="#00001a"/>
<rect x="1319.83" y="1533.74" width="24.28" height="32.57" fill="#000014"/>
<rect x="1343.51" y="1533.74" width="24.28" height="32.57" fill="#0d0d00"/>
<rect x="1367.19" y="1533.74" width="24.28" height="32.57" fill="#000000"/>
<rect x="1390.87" y="1533.74" width="24.28" height="32.57" fill="#00004a"/>
<rect x="1414.56" y="1533.74" width="24.28" height="32.57" fill="#292801"/>
<rect x="1438.24" y="1533.74" width="24.28" height="32.57" fill="#000000"/>
<rect x="1461.92" y="1533.74" width="23.68" height="32.57" fill="#000033"/>
<rect x="846.20" y="1565.71" width="24.28" height="32.57" fill="#9c9a05"/>
<rect x="869.88" y="1565.71" width="24.28" height="32.57" fill="#000000"/>
<rect x="893.56" y="1565.71" width="24.28" height="32.57" fill="#000000"/>
<rect x="917.24" y="1565.71" width="24.28" height="32.57" fill="#787604"/>
<rect x="940.93" y="1565.71" width="24.28" height="32.57" fill="#00000a"/>
<rect x="964.61" y="1565.71" width="24.28" height="32.57" fill="#1a1a01"/>
<rect x="988.29" y="1565.71" width="24.28" height="32.57" fill="#828004"/>
<rect x="1011.97" y="1565.71" width="24.28" height="32.57" fill="#00001a"/>
<rect x="1035.65" y="1565.71" width="24.28" height="32.57" fill="#000029"/>
<rect x="1059.33" y="1565.71" width="24.28" height="32.57" fill="#545303"/>
<rect x="1083.01" y="1565.71" width="24.28" height="32.57" fill="#000033"/>
<rect x="1106.70" y="1565.71" width="24.28" height="32.57" fill="#000038"/>
<rect x="1130.38" y="1565.71" width="24.28" height="32.57" fill="#fffb08"/>
<rect x="1154.06" y="1565.71" width="24.28" height="32.57" fill="#121201"/>
<rect x="1177.74" y="1565.71" width="24.28" height="32.57" fill="#3b3a02"/>
<rect x="1201.42" y="1565.71" width="24.28" height="32.57" fill="#636203"/>
<rect x="1225.10" y="1565.71" width="24.28" height="32.57" fill="#0a0a00"/>
<rect x="1248.79" y="1565.71" width="24.28" height="32.57" fill="#000029"/>
<rect x="1272.47" y="1565.71" width="24.28" height="32.57" fill="#00001f"/>
<rect x="1296.15" y="1565.71" width="24.28" height="32.57" fill="#00005e"/>
<rect x="1319.83" y="1565.71" width="24.28" height="32.57" fill="#000078"/>
<rect x="1343.51" y="1565.71" width="24.28" height="32.57" fill="#1c1c01"/>
<rect x="1367.19" y="1565.71" width="24.28" height="32.57" fill="#00004f"/>
<rect x="1390.87" y="1565.71" width="24.28" height="32.57" fill="#000059"/>
<rect x="1414.56" y="1565.71" width="24.28" height="32.57" fill="#000078"/>
<rect x="1438.24" y="1565.71" width="24.28" height="32.57" fill="#0000ab"/>
<rect x="1461.92" y="1565.71" width="23.68" height="32.57" fill="#0000ab"/>
<rect x="846.20" y="1597.68" width="24.28" height="32.57" fill="#383702"/>
<rect x="869.88" y="1597.68" width="24.28" height="32.57" fill="#00000a"/>
<rect x="893.56" y="1597.68" width="24.28" height="32.57" fill="#00000a"/>
<rect x="917.24" y="1597.68" width="24.28" height="32.57" fill="#6e6c03"/>
<rect x="940.93" y="1597.68" width="24.28" height="32.57" fill="#0a0a00"/>
<rect x="964.61" y="1597.68" width="24.28" height="32.57" fill="#00002e"/>
<rect x="988.29" y="1597.68" width="24.28" height="32.57" fill="#696703"/>
<rect x="1011.97" y="1597.68" width="24.28" height="32.57" fill="#00006e"/>
<rect x="1035.65" y="1597.68" width="24.28" height="32.57" fill="#00008c"/>
<rect x="1059.33" y="1597.68" width="24.28" height="32.57" fill="#dbd807"/>
<rect x="1083.01" y="1597.68" width="24.28" height="32.57" fill="#292801"/>
<rect x="1106.70" y="1597.68" width="24.28" height="32.57" fill="#1f1f01"/>
<rect x="1130.38" y="1597.68" width="24.28" height="32.57" fill="#ede907"/>
<rect x="1154.06" y="1597.68" width="24.28" height="32.57" fill="#383702"/>
<rect x="1177.74" y="1597.68" width="24.28" height="32.57" fill="#3b3a02"/>
<rect x="1201.42" y="1597.68" width="24.28" height="32.57" fill="#3b3a02"/>
<rect x="1225.10" y="1597.68" width="24.28" height="32.57" fill="#000029"/>
<rect x="1248.79" y="1597.68" width="24.28" height="32.57" fill="#000024"/>
<rect x="1272.47" y="1597.68" width="24.28" height="32.57" fill="#0a0a00"/>
<rect x="1296.15" y="1597.68" width="24.28" height="32.57" fill="#00001f"/>
<rect x="1319.83" y="1597.68" width="24.28" height="32.57" fill="#000059"/>
<rect x="1343.51" y="1597.68" width="24.28" height="32.57" fill="#000024"/>
<rect x="1367.19" y="1597.68" width="24.28" height="32.57" fill="#0000a1"/>
<rect x="1390.87" y="1597.68" width="24.28" height="32.57" fill="#0000ab"/>
<rect x="1414.56" y="1597.68" width="24.28" height="32.57" fill="#00001a"/>
<rect x="1438.24" y="1597.68" width="24.28" height="32.57" fill="#00005e"/>
<rect x="1461.92" y="1597.68" width="23.68" height="32.57" fill="#000078"/>
<rect x="846.20" y="1629.65" width="24.28" height="32.57" fill="#0000ab"/>
<rect x="869.88" y="1629.65" width="24.28" height="32.57" fill="#000082"/>
<rect x="893.56" y="1629.65" width="24.28" height="32.57" fill="#000078"/>
<rect x="917.24" y="1629.65" width="24.28" height="32.57" fill="#000091"/>
<rect x="940.93" y="1629.65" width="24.28" height="32.57" fill="#000059"/>
<rect x="964.61" y="1629.65" width="24.28" height="32.57" fill="#000059"/>
<rect x="988.29" y="1629.65" width="24.28" height="32.57" fill="#000078"/>
<rect x="1011.97" y="1629.65" width="24.28" height="32.57" fill="#000073"/>
<rect x="1035.65" y="1629.65" width="24.28" height="32.57" fill="#000073"/>
<rect x="1059.33" y="1629.65" width="24.28" height="32.57" fill="#000008"/>
<rect x="1083.01" y="1629.65" width="24.28" height="32.57" fill="#7d7b04"/>
<rect x="1106.70" y="1629.65" width="24.28" height="32.57" fill="#545303"/>
<rect x="1130.38" y="1629.65" width="24.28" height="32.57" fill="#2e2d01"/>
<rect x="1154.06" y="1629.65" width="24.28" height="32.57" fill="#6e6c03"/>
<rect x="1177.74" y="1629.65" width="24.28" height="32.57" fill="#4f4e02"/>
<rect x="1201.42" y="1629.65" width="24.28" height="32.57" fill="#918f04"/>
<rect x="1225.10" y="1629.65" width="24.28" height="32.57" fill="#ccc906"/>
<rect x="1248.79" y="1629.65" width="24.28" height="32.57" fill="#8c8a04"/>
<rect x="1272.47" y="1629.65" width="24.28" height="32.57" fill="#2e2d01"/>
<rect x="1296.15" y="1629.65" width="24.28" height="32.57" fill="#3b3a02"/>
<rect x="1319.83" y="1629.65" width="24.28" height="32.57" fill="#0d0d00"/>
<rect x="1343.51" y="1629.65" width="24.28" height="32.57" fill="#00001a"/>
<rect x="1367.19" y="1629.65" width="24.28" height="32.57" fill="#0a0a00"/>
<rect x="1390.87" y="1629.65" width="24.28" height="32.57" fill="#00001a"/>
<rect x="1414.56" y="1629.65" width="24.28" height="32.57" fill="#080800"/>
<rect x="1438.24" y="1629.65" width="24.28" height="32.57" fill="#000000"/>
<rect x="1461.92" y="1629.65" width="23.68" height="32.57" fill="#00001f"/>
<rect x="846.20" y="1661.62" width="24.28" height="32.57" fill="#5e5d03"/>
<rect x="869.88" y="1661.62" width="24.28" height="32.57" fill="#aba805"/>
<rect x="893.56" y="1661.62" width="24.28" height="32.57" fill="#ccc906"/>
<rect x="917.24" y="1661.62" width="24.28" height="32.57" fill="#5e5d03"/>
<rect x="940.93" y="1661.62" width="24.28" height="32.57" fill="#bab706"/>
<rect x="964.61" y="1661.62" width="24.28" height="32.57" fill="#b0ad05"/>
<rect x="988.29" y="1661.62" width="24.28" height="32.57" fill="#000024"/>
<rect x="1011.97" y="1661.62" width="24.28" height="32.57" fill="#00001a"/>
<rect x="1035.65" y="1661.62" width="24.28" height="32.57" fill="#00001f"/>
<rect x="1059.33" y="1661.62" width="24.28" height="32.57" fill="#292801"/>
<rect x="1083.01" y="1661.62" width="24.28" height="32.57" fill="#292801"/>
<rect x="1106.70" y="1661.62" width="24.28" height="32.57" fill="#1f1f01"/>
<rect x="1130.38" y="1661.62" width="24.28" height="32.57" fill="#292801"/>
<rect x="1154.06" y="1661.62" width="24.28" height="32.57" fill="#080800"/>
<rect x="1177.74" y="1661.62" width="24.28" height="32.57" fill="#080800"/>
<rect x="1201.42" y="1661.62" width="24.28" height="32.57" fill="#000029"/>
<rect x="1225.10" y="1661.62" width="24.28" height="32.57" fill="#000029"/>
<rect x="1248.79" y="1661.62" width="24.28" height="32.57" fill="#000045"/>
<rect x="1272.47" y="1661.62" width="24.28" height="32.57" fill="#000029"/>
<rect x="1296.15" y="1661.62" width="24.28" height="32.57" fill="#000045"/>
<rect x="1319.83" y="1661.62" width="24.28" height="32.57" fill="#000069"/>
<rect x="1343.51" y="1661.62" width="24.28" height="32.57" fill="#000073"/>
<rect x="1367.19" y="1661.62" width="24.28" height="32.57" fill="#00007d"/>
<rect x="1390.87" y="1661.62" width="24.28" height="32.57" fill="#00008c"/>
<rect x="1414.56" y="1661.62" width="24.28" height="32.57" fill="#00007d"/>
<rect x="1438.24" y="1661.62" width="24.28" height="32.57" fill="#00008c"/>
<rect x="1461.92" y="1661.62" width="23.68" height="32.57" fill="#000096"/>
<rect x="846.20" y="1693.59" width="24.28" height="32.57" fill="#00003b"/>
<rect x="869.88" y="1693.59" width="24.28" height="32.57" fill="#000033"/>
<rect x="893.56" y="1693.59" width="24.28" height="32.57" fill="#000033"/>
<rect x="917.24" y="1693.59" width="24.28" height="32.57" fill="#000045"/>
<rect x="940.93" y="1693.59" width="24.28" height="32.57" fill="#000045"/>
<rect x="964.61" y="1693.59" width="24.28" height="32.57" fill="#000045"/>
<rect x="988.29" y="1693.59" width="24.28" height="32.57" fill="#000045"/>
<rect x="1011.97" y="1693.59" width="24.28" height="32.57" fill="#000045"/>
<rect x="1035.65" y="1693.59" width="24.28" height="32.57" fill="#000045"/>
<rect x="1059.33" y="1693.59" width="24.28" height="32.57" fill="#000033"/>
<rect x="1083.01" y="1693.59" width="24.28" height="32.57" fill="#000033"/>
<rect x="1106.70" y="1693.59" width="24.28" height="32.57" fill="#000033"/>
<rect x="1130.38" y="1693.59" width="24.28" height="32.57" fill="#000033"/>
<rect x="1154.06" y="1693.59" width="24.28" height="32.57" fill="#000033"/>
<rect x="1177.74" y="1693.59" width="24.28" height="32.57" fill="#000033"/>
<rect x="1201.42" y="1693.59" width="24.28" height="32.57" fill="#c7c406"/>
<rect x="1225.10" y="1693.59" width="24.28" height="32.57" fill="#bfbc06"/>
<rect x="1248.79" y="1693.59" width="24.28" height="32.57" fill="#bab706"/>
<rect x="1272.47" y="1693.59" width="24.28" height="32.57" fill="#000045"/>
<rect x="1296.15" y="1693.59" width="24.28" height="32.57" fill="#00004a"/>
<rect x="1319.83" y="1693.59" width="24.28" height="32.57" fill="#00004a"/>
<rect x="1343.51" y="1693.59" width="24.28" height="32.57" fill="#00003b"/>
<rect x="1367.19" y="1693.59" width="24.28" height="32.57" fill="#00003b"/>
<rect x="1390.87" y="1693.59" width="24.28" height="32.57" fill="#000040"/>
<rect x="1414.56" y="1693.59" width="24.28" height="32.57" fill="#bfbc06"/>
<rect x="1438.24" y="1693.59" width="24.28" height="32.57" fill="#c2bf06"/>
<rect x="1461.92" y="1693.59" width="23.68" height="32.57" fill="#a3a105"/>
<rect x="846.20" y="1725.56" width="24.28" height="31.97" fill="#000000"/>
<rect x="869.88" y="1725.56" width="24.28" height="31.97" fill="#706e03"/>
<rect x="893.56" y="1725.56" width="24.28" height="31.97" fill="#7a7804"/>
<rect x="917.24" y="1725.56" width="24.28" height="31.97" fill="#000045"/>
<rect x="940.93" y="1725.56" width="24.28" height="31.97" fill="#242301"/>
<rect x="964.61" y="1725.56" width="24.28" height="31.97" fill="#1f1f01"/>
<rect x="988.29" y="1725.56" width="24.28" height="31.97" fill="#000014"/>
<rect x="1011.97" y="1725.56" width="24.28" height="31.97" fill="#242301"/>
<rect x="1035.65" y="1725.56" width="24.28" height="31.97" fill="#121201"/>
<rect x="1059.33" y="1725.56" width="24.28" height="31.97" fill="#00001a"/>
<rect x="1083.01" y="1725.56" width="24.28" height="31.97" fill="#000000"/>
<rect x="1106.70" y="1725.56" width="24.28" height="31.97" fill="#000000"/>
<rect x="1130.38" y="1725.56" width="24.28" height="31.97" fill="#828004"/>
<rect x="1154.06" y="1725.56" width="24.28" height="31.97" fill="#bab706"/>
<rect x="1177.74" y="1725.56" width="24.28" height="31.97" fill="#9c9a05"/>
<rect x="1201.42" y="1725.56" width="24.28" height="31.97" fill="#5e5d03"/>
<rect x="1225.10" y="1725.56" width="24.28" height="31.97" fill="#737103"/>
<rect x="1248.79" y="1725.56" width="24.28" height="31.97" fill="#3b3a02"/>
<rect x="1272.47" y="1725.56" width="24.28" height="31.97" fill="#000063"/>
<rect x="1296.15" y="1725.56" width="24.28" height="31.97" fill="#00005e"/>
<rect x="1319.83" y="1725.56" width="24.28" height="31.97" fill="#000087"/>
<rect x="1343.51" y="1725.56" width="24.28" height="31.97" fill="#00004a"/>
<rect x="1367.19" y="1725.56" width="24.28" height="31.97" fill="#00004f"/>
<rect x="1390.87" y="1725.56" width="24.28" height="31.97" fill="#00006e"/>
<rect x="1414.56" y="1725.56" width="24.28" height="31.97" fill="#0000b0"/>
<rect x="1438.24" y="1725.56" width="24.28" height="31.97" fill="#0000b0"/>
<rect x="1461.92" y="1725.56" width="23.68" height="31.97" fill="#0000cc"/>
</g>
<g id="panel-d-text">
<text x="741.0" y="796.2" font-size="39.5" fill="#231f20" font-weight="bold">d</text>
<text x="1489.4" y="875.3" font-size="28.95" fill="#231f20" stroke="#231f20" stroke-width="0.3">Glutamine</text>
<text x="1489.4" y="907.6" font-size="28.95" fill="#231f20" stroke="#231f20" stroke-width="0.3">Glutamate</text>
<text x="1489.4" y="939.9" font-size="28.95" fill="#231f20" stroke="#231f20" stroke-width="0.3">Phenylalanine</text>
<text x="1489.4" y="972.2" font-size="28.95" fill="#231f20" stroke="#231f20" stroke-width="0.3">Asparagine</text>
<text x="1489.4" y="1004.5" font-size="28.95" fill="#231f20" stroke="#231f20" stroke-width="0.3">Threonine</text>
<text x="1489.4" y="1036.8" font-size="28.95" fill="#231f20" stroke="#231f20" stroke-width="0.3">Serine</text>
<text x="1489.4" y="1069.1" font-size="28.95" fill="#231f20" stroke="#231f20" stroke-width="0.3">Histidine</text>
<text x="1489.4" y="1101.4" font-size="28.95" fill="#231f20" stroke="#231f20" stroke-width="0.3">Methionine</text>
<text x="1489.4" y="1133.7" font-size="28.95" fill="#231f20" stroke="#231f20" stroke-width="0.3">Leucine</text>
<text x="1489.4" y="1166.0" font-size="28.95" fill="#231f20" stroke="#231f20" stroke-width="0.3">Valine</text>
<text x="1489.4" y="1198.3" font-size="28.95" fill="#231f20" stroke="#231f20" stroke-width="0.3">Alanine</text>
<text x="1489.4" y="1230.6" font-size="28.95" fill="#231f20" stroke="#231f20" stroke-width="0.3">Arginine</text>
<text x="1489.4" y="1262.9" font-size="28.95" fill="#231f20" stroke="#231f20" stroke-width="0.3">Proline</text>
<text x="1489.4" y="1295.2" font-size="28.95" fill="#231f20" stroke="#231f20" stroke-width="0.3">Glycine</text>
<text x="1489.4" y="1327.5" font-size="28.95" fill="#231f20" stroke="#231f20" stroke-width="0.3">Cysteine</text>
<text x="1489.4" y="1359.8" font-size="28.95" fill="#231f20" stroke="#231f20" stroke-width="0.3">Isoleucine</text>
<text x="1489.4" y="1392.1" font-size="28.95" fill="#231f20" stroke="#231f20" stroke-width="0.3">Tyrosine</text>
<text x="1489.4" y="1424.4" font-size="28.95" fill="#231f20" stroke="#231f20" stroke-width="0.3">Tryptophan</text>
<text x="1489.4" y="1456.7" font-size="28.95" fill="#231f20" stroke="#231f20" stroke-width="0.3">Aspartate</text>
<text x="1489.4" y="1495.2" font-size="28.95" fill="#231f20" stroke="#231f20" stroke-width="0.3">Citrate</text>
<text x="1489.4" y="1527.5" font-size="28.95" fill="#231f20" stroke="#231f20" stroke-width="0.3">Fumarate</text>
<text x="1489.4" y="1559.7" font-size="28.95" fill="#231f20" stroke="#231f20" stroke-width="0.3">Oxalosuccinate</text>
<text x="1489.4" y="1592.0" font-size="28.95" fill="#231f20" stroke="#231f20" stroke-width="0.3">Oxaloacetate</text>
<text x="1489.4" y="1624.2" font-size="28.95" fill="#231f20" stroke="#231f20" stroke-width="0.3">α-Ketoglutarate</text>
<text x="1489.4" y="1656.5" font-size="28.95" fill="#231f20" stroke="#231f20" stroke-width="0.3">Phosphoenolpyruvate</text>
<text x="1489.4" y="1688.7" font-size="28.95" fill="#231f20" stroke="#231f20" stroke-width="0.3">Pyruvate</text>
<text x="1489.4" y="1721.0" font-size="28.95" fill="#231f20" stroke="#231f20" stroke-width="0.3">Succinate</text>
<text x="1489.4" y="1753.2" font-size="28.95" fill="#231f20" stroke="#231f20" stroke-width="0.3">Malate</text>
<rect x="851.4" y="838.2" width="204" height="6.8" fill="#1f55a5"/>
<rect x="1065.4" y="838.2" width="204" height="6.8" fill="#ea1d2c"/>
<rect x="1276" y="838.2" width="204.5" height="6.8" fill="#00a550"/>
<text x="956.0" y="826.7" font-size="31.8" fill="#231f20" text-anchor="middle" stroke="#231f20" stroke-width="0.3">Wild type</text>
<text x="1110.0" y="826.7" font-size="31.8" fill="#231f20" stroke="#231f20" stroke-width="0.3">CPT2<tspan font-size="19.3" dy="-10.5">H-KO</tspan></text>
<text x="1279.5" y="826.7" font-size="31.8" fill="#231f20" stroke="#231f20" stroke-width="0.3">CPT2/USP30<tspan font-size="19.3" dy="-10.5">H-KO</tspan></text>
<defs><linearGradient id="zs" x1="0" x2="0" y1="0" y2="1">
<stop offset="0" stop-color="#ffff00"/><stop offset="0.5" stop-color="#000000"/><stop offset="1" stop-color="#0000ff"/>
</linearGradient></defs>
<rect x="776" y="1107" width="20" height="275" fill="url(#zs)"/>
<text x="764.0" y="1123.0" font-size="31.8" fill="#231f20" text-anchor="middle" transform="rotate(-90 764.0 1123.0)" stroke="#231f20" stroke-width="0.3">3</text>
<text x="764.0" y="1248.0" font-size="31.8" fill="#231f20" text-anchor="middle" transform="rotate(-90 764.0 1248.0)" stroke="#231f20" stroke-width="0.3">0</text>
<text x="764.0" y="1370.5" font-size="31.8" fill="#231f20" text-anchor="middle" transform="rotate(-90 764.0 1370.5)" stroke="#231f20" stroke-width="0.3">-3</text>
<text x="828.0" y="1237.0" font-size="32" fill="#231f20" text-anchor="middle" transform="rotate(-90 828.0 1237.0)" stroke="#231f20" stroke-width="0.3">Z-score</text>
</g>
<g id="panel-e">
<text x="-1.0" y="1848.2" font-size="39.5" fill="#231f20" font-weight="bold">e</text>
<text x="611.3" y="1870.0" font-size="24.35" fill="#0f5cac" text-anchor="middle" stroke="#0f5cac" stroke-width="0.45">Glucose</text>
<path d="M612.4 1879.3L612.4 1907.2" stroke="#231f20" stroke-width="2.6" fill="none"/>
<path d="M612.4 1912.2L608.4 1903.3L616.4 1903.3Z" fill="#231f20"/>
<text x="610.7" y="1939.4" font-size="24.35" fill="#231f20" text-anchor="middle" stroke="#231f20" stroke-width="0.45">3-phosphoglyceric acid</text>
<path d="M742.6 1930.6L771.5 1930.6" stroke="#231f20" stroke-width="2.6" fill="none"/>
<path d="M776.5 1930.6L767.6 1934.5L767.6 1926.6Z" fill="#231f20"/>
<text x="816.7" y="1939.4" font-size="24.35" fill="#0f5cac" text-anchor="middle" stroke="#0f5cac" stroke-width="0.45">Serine</text>
<path d="M862.5 1930.4L891.3 1930.4" stroke="#231f20" stroke-width="2.6" fill="none"/>
<path d="M896.3 1930.4L887.4 1934.4L887.4 1926.5Z" fill="#231f20"/>
<text x="954.0" y="1939.4" font-size="24.35" fill="#231f20" text-anchor="middle" stroke="#231f20" stroke-width="0.45">Cysteine</text>
<text x="817.0" y="1870.0" font-size="24.35" fill="#231f20" text-anchor="middle" stroke="#231f20" stroke-width="0.45">Glycine</text>
<path d="M896.5 1862.4L868.5 1862.4" stroke="#231f20" stroke-width="2.6" fill="none"/>
<path d="M863.5 1862.4L872.4 1858.5L872.4 1866.4Z" fill="#231f20"/>
<text x="954.0" y="1870.0" font-size="24.35" fill="#0f5cac" text-anchor="middle" stroke="#0f5cac" stroke-width="0.45">Threonine</text>
<path d="M817.3 1884.0L817.3 1908.0" stroke="#231f20" stroke-width="2.6" fill="none"/>
<path d="M817.3 1913.0L813.3 1904.1L821.2 1904.1Z" fill="#231f20"/>
<path d="M817.3 1879.0L821.2 1887.9L813.3 1887.9Z" fill="#231f20"/>
<path d="M612.4 1948.5L612.4 1976.2" stroke="#231f20" stroke-width="2.6" fill="none"/>
<path d="M612.4 1981.2L608.4 1972.3L616.4 1972.3Z" fill="#231f20"/>
<text x="324.7" y="2008.4" font-size="24.35" fill="#0f5cac" text-anchor="middle" stroke="#0f5cac" stroke-width="0.45">Tryptophan</text>
<path d="M392.4 1999.4L419.5 1999.4" stroke="#231f20" stroke-width="2.6" fill="none"/>
<path d="M424.5 1999.4L415.6 2003.4L415.6 1995.5Z" fill="#231f20"/>
<text x="472.0" y="2008.4" font-size="24.35" fill="#231f20" text-anchor="middle" stroke="#231f20" stroke-width="0.45">Alanine</text>
<path d="M519.3 1999.4L548.0 1999.4" stroke="#231f20" stroke-width="2.6" fill="none"/>
<path d="M553.0 1999.4L544.1 2003.4L544.1 1995.5Z" fill="#231f20"/>
<text x="611.0" y="2008.4" font-size="24.35" fill="#0f5cac" text-anchor="middle" stroke="#0f5cac" stroke-width="0.45">Pyruvate</text>
<path d="M774.2 1945.2L675.0 1996.1" stroke="#231f20" stroke-width="2.6" fill="none"/>
<path d="M670.6 1998.4L676.7 1990.8L680.3 1997.8Z" fill="#231f20"/>
<path d="M878.2 1981.5L878.2 1953.5" stroke="#231f20" stroke-width="2.6" fill="none"/>
<path d="M878.2 1948.5L882.2 1957.4L874.2 1957.4Z" fill="#231f20"/>
<text x="877.2" y="2008.4" font-size="24.35" fill="#231f20" text-anchor="middle" stroke="#231f20" stroke-width="0.45">Homocysteine</text>
<path d="M1000.4 1999.2L972.0 1999.2" stroke="#231f20" stroke-width="2.6" fill="none"/>
<path d="M967.0 1999.2L975.9 1995.2L975.9 2003.2Z" fill="#231f20"/>
<text x="1069.6" y="2008.4" font-size="24.35" fill="#0f5cac" text-anchor="middle" stroke="#0f5cac" stroke-width="0.45">Methionine</text>
<path d="M612.4 2016.5L612.4 2045.6" stroke="#231f20" stroke-width="2.6" fill="none"/>
<path d="M612.4 2050.6L608.4 2041.7L616.4 2041.7Z" fill="#231f20"/>
<text x="611.3" y="2076.8" font-size="24.35" fill="#231f20" text-anchor="middle" stroke="#231f20" stroke-width="0.45">Acetyl-CoA</text>
<path d="M810.0 2067.8L683.2 2067.8" stroke="#231f20" stroke-width="2.6" fill="none"/>
<path d="M678.2 2067.8L687.1 2063.9L687.1 2071.8Z" fill="#231f20"/>
<text x="878.2" y="2045.6" font-size="24.35" fill="#0f5cac" text-anchor="middle" stroke="#0f5cac" stroke-width="0.45">Leucine</text>
<text x="878.2" y="2075.8" font-size="24.35" fill="#0f5cac" text-anchor="middle" stroke="#0f5cac" stroke-width="0.45">Isoleucine</text>
<text x="878.0" y="2105.2" font-size="24.35" fill="#0f5cac" text-anchor="middle" stroke="#0f5cac" stroke-width="0.45">Valine</text>
<path d="M940.5 2040H944.8V2098.5H940.5" stroke="#231f20" stroke-width="1.3" fill="none"/>
<text x="950.0" y="2075.8" font-size="24.35" fill="#231f20" stroke="#231f20" stroke-width="0.45">BCAA</text>
<path d="M612.4 2088C616 2114 640 2128.5 668 2124.5C682 2122.5 692 2118.5 699 2116" stroke="#231f20" stroke-width="2.6" fill="none"/>
<path d="M706.0 2113.4L699.0 2120.2L696.3 2112.7Z" fill="#231f20"/>
<path d="M649.5 2142.3C663 2132 679 2124 697 2117" stroke="#231f20" stroke-width="2.6" fill="none"/>
<text x="744.5" y="2124.2" font-size="24.35" fill="#231f20" text-anchor="middle" stroke="#231f20" stroke-width="0.45">Citrate</text>
<path d="M792.5 2116C810 2122 826 2131 839 2141" stroke="#231f20" stroke-width="2.6" fill="none"/>
<path d="M844.5 2145.7L835.1 2143.3L839.9 2137.1Z" fill="#231f20"/>
<text x="283.2" y="2172.1" font-size="24.6" fill="#0f5cac" text-anchor="middle" stroke="#0f5cac" stroke-width="0.45">Asparagine</text>
<path d="M362.3 2164.6L386.0 2164.6" stroke="#231f20" stroke-width="2.6" fill="none"/>
<path d="M391.0 2164.6L382.1 2168.5L382.1 2160.7Z" fill="#231f20"/>
<path d="M357.3 2164.6L366.2 2160.7L366.2 2168.5Z" fill="#231f20"/>
<text x="452.5" y="2172.1" font-size="24.6" fill="#231f20" text-anchor="middle" stroke="#231f20" stroke-width="0.45">Aspartate</text>
<path d="M518.4 2164.6L541.2 2164.6" stroke="#231f20" stroke-width="2.6" fill="none"/>
<path d="M546.2 2164.6L537.3 2168.5L537.3 2160.7Z" fill="#231f20"/>
<path d="M513.4 2164.6L522.3 2160.7L522.3 2168.5Z" fill="#231f20"/>
<text x="622.4" y="2172.1" font-size="24.6" fill="#0f5cac" text-anchor="middle" stroke="#0f5cac" stroke-width="0.45">Oxaloacetate</text>
<text x="867.0" y="2172.1" font-size="24.6" fill="#231f20" text-anchor="middle" stroke="#231f20" stroke-width="0.45">Isocitrate</text>
<path d="M872.4 2184C880 2198 886 2213 889.5 2226" stroke="#231f20" stroke-width="2.6" fill="none"/>
<path d="M890.9 2233.0L885.2 2225.1L892.9 2223.5Z" fill="#231f20"/>
<text x="890.3" y="2255.3" font-size="24.6" fill="#0f5cac" text-anchor="middle" stroke="#0f5cac" stroke-width="0.45">α-Ketoglutarate</text>
<path d="M988.3 2248.3L1010.4 2248.3" stroke="#231f20" stroke-width="2.6" fill="none"/>
<path d="M1015.4 2248.3L1006.5 2252.2L1006.5 2244.4Z" fill="#231f20"/>
<path d="M983.3 2248.3L992.2 2244.4L992.2 2252.2Z" fill="#231f20"/>
<text x="1079.0" y="2255.3" font-size="24.6" fill="#231f20" text-anchor="middle" stroke="#231f20" stroke-width="0.45">Glutamate</text>
<path d="M1148.6 2248.3L1172.0 2248.3" stroke="#231f20" stroke-width="2.6" fill="none"/>
<path d="M1177.0 2248.3L1168.1 2252.2L1168.1 2244.4Z" fill="#231f20"/>
<path d="M1143.6 2248.3L1152.5 2244.4L1152.5 2252.2Z" fill="#231f20"/>
<text x="1243.4" y="2255.3" font-size="24.6" fill="#0f5cac" text-anchor="middle" stroke="#0f5cac" stroke-width="0.45">Glutamine</text>
<text x="1075.7" y="2194.9" font-size="24.6" fill="#0f5cac" text-anchor="middle" stroke="#0f5cac" stroke-width="0.45">Histidine</text>
<path d="M1073.8 2202.2L1073.8 2228.2" stroke="#231f20" stroke-width="2.6" fill="none"/>
<path d="M1073.8 2233.2L1069.8 2224.3L1077.8 2224.3Z" fill="#231f20"/>
<path d="M1244.9 2270.0L1244.9 2292.2" stroke="#231f20" stroke-width="3.6" fill="none"/>
<path d="M1244.9 2297.2L1241.0 2288.3L1248.9 2288.3Z" fill="#231f20"/>
<path d="M1244.9 2265.0L1248.9 2273.9L1241.0 2273.9Z" fill="#231f20"/>
<text x="1246.5" y="2319.9" font-size="24.6" fill="#231f20" text-anchor="middle" stroke="#231f20" stroke-width="0.45">1-pyrroline-</text>
<text x="1242.3" y="2350.1" font-size="24.6" fill="#231f20" text-anchor="middle" stroke="#231f20" stroke-width="0.45">5-carboxylate</text>
<text x="1086.0" y="2319.9" font-size="24.6" fill="#a9a9b3" text-anchor="middle" stroke="#a9a9b3" stroke-width="0.45">Urea</text>
<text x="1087.0" y="2350.1" font-size="24.6" fill="#a9a9b3" text-anchor="middle" stroke="#a9a9b3" stroke-width="0.45">Cycle</text>
<path d="M1129.2 2327.2L1152.6 2327.2" stroke="#231f20" stroke-width="2.6" fill="none"/>
<path d="M1157.6 2327.2L1148.7 2331.1L1148.7 2323.2Z" fill="#231f20"/>
<path d="M1124.2 2327.2L1133.1 2323.2L1133.1 2331.1Z" fill="#231f20"/>
<path d="M1244.9 2360.0L1244.9 2382.0" stroke="#231f20" stroke-width="3.6" fill="none"/>
<path d="M1244.9 2387.0L1241.0 2378.1L1248.9 2378.1Z" fill="#231f20"/>
<path d="M1244.9 2355.0L1248.9 2363.9L1241.0 2363.9Z" fill="#231f20"/>
<text x="1243.8" y="2411.2" font-size="24.6" fill="#0f5cac" text-anchor="middle" stroke="#0f5cac" stroke-width="0.45">Proline</text>
<path d="M1244.9 2419.0L1244.9 2446.5" stroke="#231f20" stroke-width="3.6" fill="none"/>
<path d="M1244.9 2451.5L1241.0 2442.6L1248.9 2442.6Z" fill="#231f20"/>
<text x="1243.2" y="2470.7" font-size="24.6" fill="#0f5cac" text-anchor="middle" stroke="#0f5cac" stroke-width="0.45">Hydroxyproline</text>
<text x="743.0" y="2242.3" font-size="24.6" fill="#a9a9b3" text-anchor="middle" stroke="#a9a9b3" stroke-width="0.45">TCA</text>
<text x="743.0" y="2272.1" font-size="24.6" fill="#a9a9b3" text-anchor="middle" stroke="#a9a9b3" stroke-width="0.45">Cycle</text>
<text x="597.0" y="2252.7" font-size="24.6" fill="#0f5cac" text-anchor="middle" stroke="#0f5cac" stroke-width="0.45">Malate</text>
<path d="M601.7 2224.5C605 2210 610 2197 616 2185" stroke="#231f20" stroke-width="2.6" fill="none"/>
<path d="M619.0 2178.6L619.0 2188.3L611.8 2185.1Z" fill="#231f20"/>
<path d="M607.3 2305C602 2291 599 2277 597.8 2263" stroke="#231f20" stroke-width="2.6" fill="none"/>
<path d="M597.4 2255.8L601.8 2264.5L593.9 2264.9Z" fill="#231f20"/>
<text x="617.0" y="2334.9" font-size="24.6" fill="#0f5cac" text-anchor="middle" stroke="#0f5cac" stroke-width="0.45">Fumarate</text>
<path d="M894 2268C893 2282 889 2296 883.5 2305" stroke="#231f20" stroke-width="2.6" fill="none"/>
<path d="M880.8 2311.5L880.1 2301.8L887.6 2304.5Z" fill="#231f20"/>
<text x="884.5" y="2335.5" font-size="24.6" fill="#231f20" text-anchor="middle" stroke="#231f20" stroke-width="0.45">Succinyl-CoA</text>
<path d="M862.5 2347C850 2364 832 2378 810 2387" stroke="#231f20" stroke-width="2.6" fill="none"/>
<path d="M803.2 2389.8L810.0 2382.8L812.9 2390.1Z" fill="#231f20"/>
<text x="744.8" y="2402.7" font-size="24.6" fill="#231f20" text-anchor="middle" stroke="#231f20" stroke-width="0.45">Succinate</text>
<path d="M679.7 2386.6C660 2378 642 2363 629.5 2346" stroke="#231f20" stroke-width="2.6" fill="none"/>
<path d="M625.7 2339.8L633.8 2345.3L627.1 2349.4Z" fill="#231f20"/>
<path d="M613.8 2373.7L613.8 2346.2" stroke="#231f20" stroke-width="2.6" fill="none"/>
<path d="M613.8 2341.2L617.8 2350.1L609.8 2350.1Z" fill="#231f20"/>
<text x="608.4" y="2396.3" font-size="24.6" fill="#0f5cac" text-anchor="middle" stroke="#0f5cac" stroke-width="0.45">Tyrosine</text>
<path d="M613.8 2432.8L613.8 2405.2" stroke="#231f20" stroke-width="2.6" fill="none"/>
<path d="M613.8 2400.2L617.8 2409.1L609.8 2409.1Z" fill="#231f20"/>
<text x="619.2" y="2456.6" font-size="24.6" fill="#0f5cac" text-anchor="middle" stroke="#0f5cac" stroke-width="0.45">Phenylalanine</text>
<path d="M891.4 2380.2L891.4 2352.6" stroke="#231f20" stroke-width="2.6" fill="none"/>
<path d="M891.4 2347.6L895.4 2356.5L887.4 2356.5Z" fill="#231f20"/>
<text x="900.0" y="2401.9" font-size="24.6" fill="#0f5cac" text-anchor="middle" stroke="#0f5cac" stroke-width="0.45">Leucine</text>
<text x="900.0" y="2431.9" font-size="24.6" fill="#0f5cac" text-anchor="middle" stroke="#0f5cac" stroke-width="0.45">Isoleucine</text>
<text x="900.0" y="2460.9" font-size="24.6" fill="#0f5cac" text-anchor="middle" stroke="#0f5cac" stroke-width="0.45">Valine</text>
<path d="M961.7 2396H966V2454.8H961.7" stroke="#231f20" stroke-width="1.3" fill="none"/>
<text x="972.0" y="2431.9" font-size="24.6" fill="#231f20" stroke="#231f20" stroke-width="0.45">BCAA</text>
<text x="312.5" y="2295.7" font-size="24.6" fill="#231f20" text-anchor="middle" stroke="#231f20" stroke-width="0.45">Citrulline</text>
<text x="487.3" y="2280.2" font-size="24.6" fill="#231f20" text-anchor="middle" stroke="#231f20" stroke-width="0.45">Arginino</text>
<text x="487.0" y="2309.9" font-size="24.6" fill="#231f20" text-anchor="middle" stroke="#231f20" stroke-width="0.45">succinate</text>
<text x="394.4" y="2322.9" font-size="24.6" fill="#a9a9b3" text-anchor="middle" stroke="#a9a9b3" stroke-width="0.45">Urea</text>
<text x="394.0" y="2353.1" font-size="24.6" fill="#a9a9b3" text-anchor="middle" stroke="#a9a9b3" stroke-width="0.45">Cycle</text>
<text x="304.5" y="2377.7" font-size="24.6" fill="#231f20" text-anchor="middle" stroke="#231f20" stroke-width="0.45">Ornithine</text>
<text x="486.6" y="2377.7" font-size="24.6" fill="#231f20" text-anchor="middle" stroke="#231f20" stroke-width="0.45">Arginine</text>
<path d="M457.3 2177.6C438 2194 432 2216 436 2239" stroke="#231f20" stroke-width="2.6" fill="none"/>
<path d="M325 2264.7C355 2232 410 2222 453 2251" stroke="#231f20" stroke-width="2.6" fill="none"/>
<path d="M458.8 2255.4L449.3 2253.4L453.9 2247.0Z" fill="#231f20"/>
<path d="M301.3 2347.8C299 2333 300 2319 303.2 2307" stroke="#231f20" stroke-width="2.6" fill="none"/>
<path d="M304.9 2300.2L306.6 2309.8L298.9 2307.9Z" fill="#231f20"/>
<path d="M479.3 2389.7C440 2443 350 2443 318.5 2388" stroke="#231f20" stroke-width="2.6" fill="none"/>
<path d="M314.2 2382.0L321.9 2388.0L314.9 2391.7Z" fill="#231f20"/>
<path d="M496.6 2322.0L494.9 2350.4" stroke="#231f20" stroke-width="2.6" fill="none"/>
<path d="M494.6 2355.4L491.2 2346.3L499.1 2346.8Z" fill="#231f20"/>
<path d="M496.6 2322C496 2336 505 2338.5 523 2338.5C536 2338.5 546 2336 552 2331.5" stroke="#231f20" stroke-width="2.6" fill="none"/>
<path d="M557.8 2327.8L552.8 2336.1L548.2 2329.7Z" fill="#231f20"/>
</g>
</svg>
</body></html>
